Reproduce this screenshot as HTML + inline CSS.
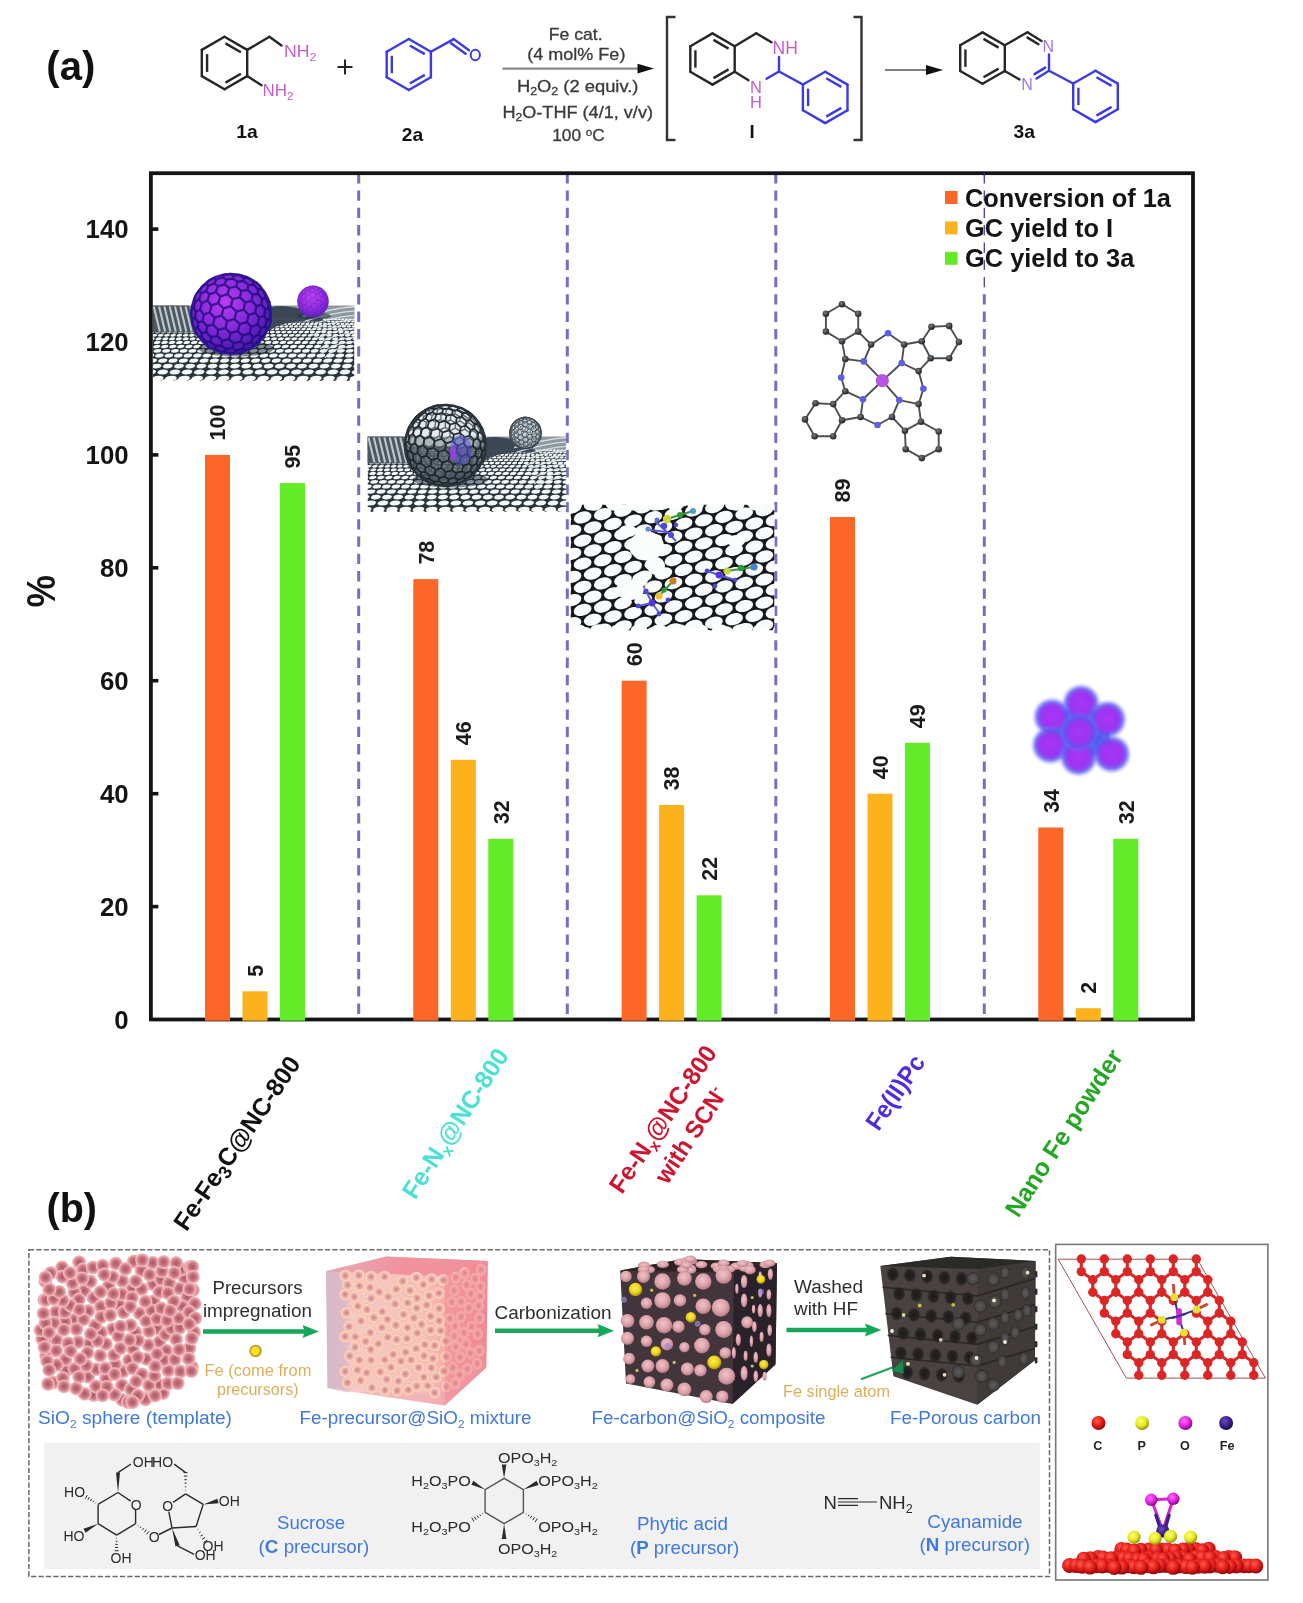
<!DOCTYPE html>
<html><head><meta charset="utf-8"><title>Figure</title>
<style>
html,body{margin:0;padding:0;background:#fff;}
body{width:1303px;height:1603px;overflow:hidden;font-family:"Liberation Sans",sans-serif;}
svg{display:block;font-family:"Liberation Sans",sans-serif;filter:blur(0.45px);}
</style></head><body>
<svg width="1303" height="1603" viewBox="0 0 1303 1603">
<defs>
<radialGradient id="gPur" cx="0.42" cy="0.35" r="0.7">
 <stop offset="0" stop-color="#bc3cf0"/><stop offset="0.5" stop-color="#8428d8"/><stop offset="1" stop-color="#38169e"/>
</radialGradient>
<radialGradient id="gPurS" cx="0.45" cy="0.35" r="0.7">
 <stop offset="0" stop-color="#c040f4"/><stop offset="0.7" stop-color="#8428dc"/><stop offset="1" stop-color="#5a22b8"/>
</radialGradient>
<radialGradient id="gNano" cx="0.5" cy="0.5" r="0.5">
 <stop offset="0" stop-color="#aa35f5"/><stop offset="0.57" stop-color="#9a36f2"/><stop offset="0.76" stop-color="#5a55f0" stop-opacity="0.85"/><stop offset="1" stop-color="#7f8cf6" stop-opacity="0"/>
</radialGradient>
<radialGradient id="gAtomC" cx="0.4" cy="0.35" r="0.7">
 <stop offset="0" stop-color="#7a7d80"/><stop offset="0.6" stop-color="#3a3d40"/><stop offset="1" stop-color="#1d1f21"/>
</radialGradient>
<linearGradient id="gSheetBack" x1="0" y1="0" x2="0" y2="1">
 <stop offset="0" stop-color="#6b7a80"/><stop offset="1" stop-color="#3d484d"/>
</linearGradient>
<filter id="blur1" x="-10%" y="-10%" width="120%" height="120%"><feGaussianBlur stdDeviation="0.75"/></filter>
<filter id="blur2" x="-10%" y="-10%" width="120%" height="120%"><feGaussianBlur stdDeviation="0.9"/></filter>

<radialGradient id="gPink" cx="0.5" cy="0.5" r="0.5">
 <stop offset="0" stop-color="#a85a64"/><stop offset="0.5" stop-color="#c8747e"/><stop offset="0.8" stop-color="#e8a2a8"/><stop offset="1" stop-color="#f6c8cb"/>
</radialGradient>
<radialGradient id="gPink2" cx="0.5" cy="0.5" r="0.5">
 <stop offset="0" stop-color="#c47c7c"/><stop offset="0.5" stop-color="#eeb0aa"/><stop offset="0.8" stop-color="#fad8cc"/><stop offset="1" stop-color="#f6b58c"/>
</radialGradient>
<radialGradient id="gPink3" cx="0.45" cy="0.4" r="0.6">
 <stop offset="0" stop-color="#f0c4c6"/><stop offset="0.6" stop-color="#dca2aa"/><stop offset="1" stop-color="#b47c88"/>
</radialGradient>
<radialGradient id="gYel" cx="0.45" cy="0.4" r="0.6">
 <stop offset="0" stop-color="#fff04a"/><stop offset="0.6" stop-color="#ecd21c"/><stop offset="1" stop-color="#a88a18"/>
</radialGradient>
<radialGradient id="gHole" cx="0.5" cy="0.5" r="0.5">
 <stop offset="0" stop-color="#5d5b5a"/><stop offset="0.7" stop-color="#4a4847"/><stop offset="1" stop-color="#2c2a2a"/>
</radialGradient>
<radialGradient id="gHoleD" cx="0.5" cy="0.5" r="0.5">
 <stop offset="0" stop-color="#1d1b1b"/><stop offset="0.7" stop-color="#262424"/><stop offset="1" stop-color="#3a3836"/>
</radialGradient>
<linearGradient id="gCube2" x1="0" y1="0" x2="1" y2="0">
 <stop offset="0" stop-color="#d8b9c8"/><stop offset="0.12" stop-color="#dcbac8"/><stop offset="0.16" stop-color="#f4cbc8"/><stop offset="0.6" stop-color="#f6c0bc"/><stop offset="0.78" stop-color="#f4a2a8"/><stop offset="1" stop-color="#f28c98"/>
</linearGradient>
<linearGradient id="gCube2t" x1="0" y1="0" x2="1" y2="0">
 <stop offset="0" stop-color="#e4a6b2"/><stop offset="0.5" stop-color="#f08c98"/><stop offset="1" stop-color="#f0909c"/>
</linearGradient>
<radialGradient id="aC" cx="0.4" cy="0.35" r="0.65"><stop offset="0" stop-color="#ff5a4a"/><stop offset="0.6" stop-color="#e01818"/><stop offset="1" stop-color="#8a0a0a"/></radialGradient>
<radialGradient id="aP" cx="0.4" cy="0.35" r="0.65"><stop offset="0" stop-color="#ffff70"/><stop offset="0.6" stop-color="#e6e620"/><stop offset="1" stop-color="#8f8f10"/></radialGradient>
<radialGradient id="aO" cx="0.4" cy="0.35" r="0.65"><stop offset="0" stop-color="#ff70ff"/><stop offset="0.6" stop-color="#e020e0"/><stop offset="1" stop-color="#800a80"/></radialGradient>
<radialGradient id="aFe" cx="0.4" cy="0.35" r="0.65"><stop offset="0" stop-color="#6a48c0"/><stop offset="0.6" stop-color="#3a2088"/><stop offset="1" stop-color="#1a0c48"/></radialGradient>
<filter id="blurB" x="-5%" y="-5%" width="110%" height="110%"><feGaussianBlur stdDeviation="0.7"/></filter>
</defs>
<rect width="1303" height="1603" fill="#ffffff"/>
<line x1="358.7" y1="173.2" x2="358.7" y2="1019.5" stroke="#7a6cc4" stroke-width="3" stroke-dasharray="10.3 7"/>
<line x1="567.3" y1="173.2" x2="567.3" y2="1019.5" stroke="#7a6cc4" stroke-width="3" stroke-dasharray="10.3 7"/>
<line x1="775.8" y1="173.2" x2="775.8" y2="1019.5" stroke="#7a6cc4" stroke-width="3" stroke-dasharray="10.3 7"/>
<line x1="984.3" y1="173.2" x2="984.3" y2="1019.5" stroke="#7a6cc4" stroke-width="3" stroke-dasharray="10.3 7"/>
<clipPath id="cs1"><path d="M152.8 305.5L354.5 305.5L354.5 378.5L347.8 381L341.1 378L334.4 381L327.7 378L321 381L314.3 378L307.6 381L300.9 378L294.2 381L287.5 378L280.8 381L274.1 378L267.4 381L260.7 378L254 381L247.3 378L240.6 381L233.9 378L227.2 381L220.5 378L213.8 381L207.1 378L200.4 381L193.7 378L187 381L180.3 378L173.6 381L166.9 378L160.2 381L153.5 378L152.8 379Z"/></clipPath>
<g clip-path="url(#cs1)" filter="url(#blur1)">
<rect x="152.8" y="305.5" width="201.7" height="75.5" fill="#2b343a"/>
<rect x="152.8" y="305.5" width="201.7" height="14.3" fill="#8d999f"/>
<g fill="#f6fafb" transform="translate(262,381) skewX(-24) translate(-262,-381)"><ellipse cx="117" cy="378.4" rx="5.7" ry="2.7"/><ellipse cx="130.2" cy="378.4" rx="5.7" ry="2.7"/><ellipse cx="143.4" cy="378.4" rx="5.7" ry="2.7"/><ellipse cx="156.5" cy="378.4" rx="5.7" ry="2.7"/><ellipse cx="169.7" cy="378.4" rx="5.7" ry="2.7"/><ellipse cx="182.9" cy="378.4" rx="5.7" ry="2.7"/><ellipse cx="196.1" cy="378.4" rx="5.7" ry="2.7"/><ellipse cx="209.3" cy="378.4" rx="5.7" ry="2.7"/><ellipse cx="222.5" cy="378.4" rx="5.7" ry="2.7"/><ellipse cx="235.6" cy="378.4" rx="5.7" ry="2.7"/><ellipse cx="248.8" cy="378.4" rx="5.7" ry="2.7"/><ellipse cx="262" cy="378.4" rx="5.7" ry="2.7"/><ellipse cx="275.2" cy="378.4" rx="5.7" ry="2.7"/><ellipse cx="288.4" cy="378.4" rx="5.7" ry="2.7"/><ellipse cx="301.5" cy="378.4" rx="5.7" ry="2.7"/><ellipse cx="314.7" cy="378.4" rx="5.7" ry="2.7"/><ellipse cx="327.9" cy="378.4" rx="5.7" ry="2.7"/><ellipse cx="341.1" cy="378.4" rx="5.7" ry="2.7"/><ellipse cx="354.3" cy="378.4" rx="5.7" ry="2.7"/><ellipse cx="367.5" cy="378.4" rx="5.7" ry="2.7"/><ellipse cx="380.6" cy="378.4" rx="5.7" ry="2.7"/><ellipse cx="393.8" cy="378.4" rx="5.7" ry="2.7"/><ellipse cx="110.1" cy="372" rx="5.2" ry="2.5"/><ellipse cx="122.3" cy="372" rx="5.2" ry="2.5"/><ellipse cx="134.4" cy="372" rx="5.2" ry="2.5"/><ellipse cx="146.6" cy="372" rx="5.2" ry="2.5"/><ellipse cx="158.7" cy="372" rx="5.2" ry="2.5"/><ellipse cx="170.9" cy="372" rx="5.2" ry="2.5"/><ellipse cx="183" cy="372" rx="5.2" ry="2.5"/><ellipse cx="195.2" cy="372" rx="5.2" ry="2.5"/><ellipse cx="207.3" cy="372" rx="5.2" ry="2.5"/><ellipse cx="219.5" cy="372" rx="5.2" ry="2.5"/><ellipse cx="231.6" cy="372" rx="5.2" ry="2.5"/><ellipse cx="243.8" cy="372" rx="5.2" ry="2.5"/><ellipse cx="255.9" cy="372" rx="5.2" ry="2.5"/><ellipse cx="268.1" cy="372" rx="5.2" ry="2.5"/><ellipse cx="280.2" cy="372" rx="5.2" ry="2.5"/><ellipse cx="292.4" cy="372" rx="5.2" ry="2.5"/><ellipse cx="304.5" cy="372" rx="5.2" ry="2.5"/><ellipse cx="316.7" cy="372" rx="5.2" ry="2.5"/><ellipse cx="328.8" cy="372" rx="5.2" ry="2.5"/><ellipse cx="341" cy="372" rx="5.2" ry="2.5"/><ellipse cx="353.1" cy="372" rx="5.2" ry="2.5"/><ellipse cx="365.3" cy="372" rx="5.2" ry="2.5"/><ellipse cx="377.4" cy="372" rx="5.2" ry="2.5"/><ellipse cx="389.6" cy="372" rx="5.2" ry="2.5"/><ellipse cx="116.4" cy="366.1" rx="4.8" ry="2.3"/><ellipse cx="127.6" cy="366.1" rx="4.8" ry="2.3"/><ellipse cx="138.8" cy="366.1" rx="4.8" ry="2.3"/><ellipse cx="150" cy="366.1" rx="4.8" ry="2.3"/><ellipse cx="161.2" cy="366.1" rx="4.8" ry="2.3"/><ellipse cx="172.4" cy="366.1" rx="4.8" ry="2.3"/><ellipse cx="183.6" cy="366.1" rx="4.8" ry="2.3"/><ellipse cx="194.8" cy="366.1" rx="4.8" ry="2.3"/><ellipse cx="206" cy="366.1" rx="4.8" ry="2.3"/><ellipse cx="217.2" cy="366.1" rx="4.8" ry="2.3"/><ellipse cx="228.4" cy="366.1" rx="4.8" ry="2.3"/><ellipse cx="239.6" cy="366.1" rx="4.8" ry="2.3"/><ellipse cx="250.8" cy="366.1" rx="4.8" ry="2.3"/><ellipse cx="262" cy="366.1" rx="4.8" ry="2.3"/><ellipse cx="273.2" cy="366.1" rx="4.8" ry="2.3"/><ellipse cx="284.4" cy="366.1" rx="4.8" ry="2.3"/><ellipse cx="295.6" cy="366.1" rx="4.8" ry="2.3"/><ellipse cx="306.8" cy="366.1" rx="4.8" ry="2.3"/><ellipse cx="318" cy="366.1" rx="4.8" ry="2.3"/><ellipse cx="329.2" cy="366.1" rx="4.8" ry="2.3"/><ellipse cx="340.4" cy="366.1" rx="4.8" ry="2.3"/><ellipse cx="351.6" cy="366.1" rx="4.8" ry="2.3"/><ellipse cx="362.8" cy="366.1" rx="4.8" ry="2.3"/><ellipse cx="374" cy="366.1" rx="4.8" ry="2.3"/><ellipse cx="385.2" cy="366.1" rx="4.8" ry="2.3"/><ellipse cx="396.4" cy="366.1" rx="4.8" ry="2.3"/><ellipse cx="112.5" cy="360.6" rx="4.4" ry="2.2"/><ellipse cx="122.8" cy="360.6" rx="4.4" ry="2.2"/><ellipse cx="133.1" cy="360.6" rx="4.4" ry="2.2"/><ellipse cx="143.4" cy="360.6" rx="4.4" ry="2.2"/><ellipse cx="153.7" cy="360.6" rx="4.4" ry="2.2"/><ellipse cx="164" cy="360.6" rx="4.4" ry="2.2"/><ellipse cx="174.3" cy="360.6" rx="4.4" ry="2.2"/><ellipse cx="184.7" cy="360.6" rx="4.4" ry="2.2"/><ellipse cx="195" cy="360.6" rx="4.4" ry="2.2"/><ellipse cx="205.3" cy="360.6" rx="4.4" ry="2.2"/><ellipse cx="215.6" cy="360.6" rx="4.4" ry="2.2"/><ellipse cx="225.9" cy="360.6" rx="4.4" ry="2.2"/><ellipse cx="236.2" cy="360.6" rx="4.4" ry="2.2"/><ellipse cx="246.5" cy="360.6" rx="4.4" ry="2.2"/><ellipse cx="256.8" cy="360.6" rx="4.4" ry="2.2"/><ellipse cx="267.2" cy="360.6" rx="4.4" ry="2.2"/><ellipse cx="277.5" cy="360.6" rx="4.4" ry="2.2"/><ellipse cx="287.8" cy="360.6" rx="4.4" ry="2.2"/><ellipse cx="298.1" cy="360.6" rx="4.4" ry="2.2"/><ellipse cx="308.4" cy="360.6" rx="4.4" ry="2.2"/><ellipse cx="318.7" cy="360.6" rx="4.4" ry="2.2"/><ellipse cx="329" cy="360.6" rx="4.4" ry="2.2"/><ellipse cx="339.3" cy="360.6" rx="4.4" ry="2.2"/><ellipse cx="349.7" cy="360.6" rx="4.4" ry="2.2"/><ellipse cx="360" cy="360.6" rx="4.4" ry="2.2"/><ellipse cx="370.3" cy="360.6" rx="4.4" ry="2.2"/><ellipse cx="380.6" cy="360.6" rx="4.4" ry="2.2"/><ellipse cx="390.9" cy="360.6" rx="4.4" ry="2.2"/><ellipse cx="110.1" cy="355.5" rx="4.1" ry="2"/><ellipse cx="119.6" cy="355.5" rx="4.1" ry="2"/><ellipse cx="129.1" cy="355.5" rx="4.1" ry="2"/><ellipse cx="138.6" cy="355.5" rx="4.1" ry="2"/><ellipse cx="148" cy="355.5" rx="4.1" ry="2"/><ellipse cx="157.5" cy="355.5" rx="4.1" ry="2"/><ellipse cx="167" cy="355.5" rx="4.1" ry="2"/><ellipse cx="176.5" cy="355.5" rx="4.1" ry="2"/><ellipse cx="186" cy="355.5" rx="4.1" ry="2"/><ellipse cx="195.5" cy="355.5" rx="4.1" ry="2"/><ellipse cx="205" cy="355.5" rx="4.1" ry="2"/><ellipse cx="214.5" cy="355.5" rx="4.1" ry="2"/><ellipse cx="224" cy="355.5" rx="4.1" ry="2"/><ellipse cx="233.5" cy="355.5" rx="4.1" ry="2"/><ellipse cx="243" cy="355.5" rx="4.1" ry="2"/><ellipse cx="252.5" cy="355.5" rx="4.1" ry="2"/><ellipse cx="262" cy="355.5" rx="4.1" ry="2"/><ellipse cx="271.5" cy="355.5" rx="4.1" ry="2"/><ellipse cx="281" cy="355.5" rx="4.1" ry="2"/><ellipse cx="290.5" cy="355.5" rx="4.1" ry="2"/><ellipse cx="300" cy="355.5" rx="4.1" ry="2"/><ellipse cx="309.5" cy="355.5" rx="4.1" ry="2"/><ellipse cx="319" cy="355.5" rx="4.1" ry="2"/><ellipse cx="328.5" cy="355.5" rx="4.1" ry="2"/><ellipse cx="338" cy="355.5" rx="4.1" ry="2"/><ellipse cx="347.5" cy="355.5" rx="4.1" ry="2"/><ellipse cx="357" cy="355.5" rx="4.1" ry="2"/><ellipse cx="366.5" cy="355.5" rx="4.1" ry="2"/><ellipse cx="376" cy="355.5" rx="4.1" ry="2"/><ellipse cx="385.4" cy="355.5" rx="4.1" ry="2"/><ellipse cx="394.9" cy="355.5" rx="4.1" ry="2"/><ellipse cx="109.1" cy="350.8" rx="3.8" ry="1.9"/><ellipse cx="117.8" cy="350.8" rx="3.8" ry="1.9"/><ellipse cx="126.5" cy="350.8" rx="3.8" ry="1.9"/><ellipse cx="135.3" cy="350.8" rx="3.8" ry="1.9"/><ellipse cx="144" cy="350.8" rx="3.8" ry="1.9"/><ellipse cx="152.8" cy="350.8" rx="3.8" ry="1.9"/><ellipse cx="161.5" cy="350.8" rx="3.8" ry="1.9"/><ellipse cx="170.2" cy="350.8" rx="3.8" ry="1.9"/><ellipse cx="179" cy="350.8" rx="3.8" ry="1.9"/><ellipse cx="187.7" cy="350.8" rx="3.8" ry="1.9"/><ellipse cx="196.5" cy="350.8" rx="3.8" ry="1.9"/><ellipse cx="205.2" cy="350.8" rx="3.8" ry="1.9"/><ellipse cx="213.9" cy="350.8" rx="3.8" ry="1.9"/><ellipse cx="222.7" cy="350.8" rx="3.8" ry="1.9"/><ellipse cx="231.4" cy="350.8" rx="3.8" ry="1.9"/><ellipse cx="240.2" cy="350.8" rx="3.8" ry="1.9"/><ellipse cx="248.9" cy="350.8" rx="3.8" ry="1.9"/><ellipse cx="257.6" cy="350.8" rx="3.8" ry="1.9"/><ellipse cx="266.4" cy="350.8" rx="3.8" ry="1.9"/><ellipse cx="275.1" cy="350.8" rx="3.8" ry="1.9"/><ellipse cx="283.8" cy="350.8" rx="3.8" ry="1.9"/><ellipse cx="292.6" cy="350.8" rx="3.8" ry="1.9"/><ellipse cx="301.3" cy="350.8" rx="3.8" ry="1.9"/><ellipse cx="310.1" cy="350.8" rx="3.8" ry="1.9"/><ellipse cx="318.8" cy="350.8" rx="3.8" ry="1.9"/><ellipse cx="327.5" cy="350.8" rx="3.8" ry="1.9"/><ellipse cx="336.3" cy="350.8" rx="3.8" ry="1.9"/><ellipse cx="345" cy="350.8" rx="3.8" ry="1.9"/><ellipse cx="353.8" cy="350.8" rx="3.8" ry="1.9"/><ellipse cx="362.5" cy="350.8" rx="3.8" ry="1.9"/><ellipse cx="371.2" cy="350.8" rx="3.8" ry="1.9"/><ellipse cx="380" cy="350.8" rx="3.8" ry="1.9"/><ellipse cx="388.7" cy="350.8" rx="3.8" ry="1.9"/><ellipse cx="397.5" cy="350.8" rx="3.8" ry="1.9"/><ellipse cx="117.3" cy="346.5" rx="3.5" ry="1.8"/><ellipse cx="125.3" cy="346.5" rx="3.5" ry="1.8"/><ellipse cx="133.4" cy="346.5" rx="3.5" ry="1.8"/><ellipse cx="141.4" cy="346.5" rx="3.5" ry="1.8"/><ellipse cx="149.4" cy="346.5" rx="3.5" ry="1.8"/><ellipse cx="157.5" cy="346.5" rx="3.5" ry="1.8"/><ellipse cx="165.5" cy="346.5" rx="3.5" ry="1.8"/><ellipse cx="173.6" cy="346.5" rx="3.5" ry="1.8"/><ellipse cx="181.6" cy="346.5" rx="3.5" ry="1.8"/><ellipse cx="189.6" cy="346.5" rx="3.5" ry="1.8"/><ellipse cx="197.7" cy="346.5" rx="3.5" ry="1.8"/><ellipse cx="205.7" cy="346.5" rx="3.5" ry="1.8"/><ellipse cx="213.8" cy="346.5" rx="3.5" ry="1.8"/><ellipse cx="221.8" cy="346.5" rx="3.5" ry="1.8"/><ellipse cx="229.8" cy="346.5" rx="3.5" ry="1.8"/><ellipse cx="237.9" cy="346.5" rx="3.5" ry="1.8"/><ellipse cx="245.9" cy="346.5" rx="3.5" ry="1.8"/><ellipse cx="254" cy="346.5" rx="3.5" ry="1.8"/><ellipse cx="262" cy="346.5" rx="3.5" ry="1.8"/><ellipse cx="270" cy="346.5" rx="3.5" ry="1.8"/><ellipse cx="278.1" cy="346.5" rx="3.5" ry="1.8"/><ellipse cx="286.1" cy="346.5" rx="3.5" ry="1.8"/><ellipse cx="294.2" cy="346.5" rx="3.5" ry="1.8"/><ellipse cx="302.2" cy="346.5" rx="3.5" ry="1.8"/><ellipse cx="310.2" cy="346.5" rx="3.5" ry="1.8"/><ellipse cx="318.3" cy="346.5" rx="3.5" ry="1.8"/><ellipse cx="326.3" cy="346.5" rx="3.5" ry="1.8"/><ellipse cx="334.4" cy="346.5" rx="3.5" ry="1.8"/><ellipse cx="342.4" cy="346.5" rx="3.5" ry="1.8"/><ellipse cx="350.4" cy="346.5" rx="3.5" ry="1.8"/><ellipse cx="358.5" cy="346.5" rx="3.5" ry="1.8"/><ellipse cx="366.5" cy="346.5" rx="3.5" ry="1.8"/><ellipse cx="374.6" cy="346.5" rx="3.5" ry="1.8"/><ellipse cx="382.6" cy="346.5" rx="3.5" ry="1.8"/><ellipse cx="390.6" cy="346.5" rx="3.5" ry="1.8"/><ellipse cx="110.5" cy="342.4" rx="3.2" ry="1.6"/><ellipse cx="117.9" cy="342.4" rx="3.2" ry="1.6"/><ellipse cx="125.2" cy="342.4" rx="3.2" ry="1.6"/><ellipse cx="132.6" cy="342.4" rx="3.2" ry="1.6"/><ellipse cx="140" cy="342.4" rx="3.2" ry="1.6"/><ellipse cx="147.4" cy="342.4" rx="3.2" ry="1.6"/><ellipse cx="154.8" cy="342.4" rx="3.2" ry="1.6"/><ellipse cx="162.2" cy="342.4" rx="3.2" ry="1.6"/><ellipse cx="169.6" cy="342.4" rx="3.2" ry="1.6"/><ellipse cx="177" cy="342.4" rx="3.2" ry="1.6"/><ellipse cx="184.4" cy="342.4" rx="3.2" ry="1.6"/><ellipse cx="191.8" cy="342.4" rx="3.2" ry="1.6"/><ellipse cx="199.2" cy="342.4" rx="3.2" ry="1.6"/><ellipse cx="206.6" cy="342.4" rx="3.2" ry="1.6"/><ellipse cx="214" cy="342.4" rx="3.2" ry="1.6"/><ellipse cx="221.3" cy="342.4" rx="3.2" ry="1.6"/><ellipse cx="228.7" cy="342.4" rx="3.2" ry="1.6"/><ellipse cx="236.1" cy="342.4" rx="3.2" ry="1.6"/><ellipse cx="243.5" cy="342.4" rx="3.2" ry="1.6"/><ellipse cx="250.9" cy="342.4" rx="3.2" ry="1.6"/><ellipse cx="258.3" cy="342.4" rx="3.2" ry="1.6"/><ellipse cx="265.7" cy="342.4" rx="3.2" ry="1.6"/><ellipse cx="273.1" cy="342.4" rx="3.2" ry="1.6"/><ellipse cx="280.5" cy="342.4" rx="3.2" ry="1.6"/><ellipse cx="287.9" cy="342.4" rx="3.2" ry="1.6"/><ellipse cx="295.3" cy="342.4" rx="3.2" ry="1.6"/><ellipse cx="302.7" cy="342.4" rx="3.2" ry="1.6"/><ellipse cx="310" cy="342.4" rx="3.2" ry="1.6"/><ellipse cx="317.4" cy="342.4" rx="3.2" ry="1.6"/><ellipse cx="324.8" cy="342.4" rx="3.2" ry="1.6"/><ellipse cx="332.2" cy="342.4" rx="3.2" ry="1.6"/><ellipse cx="339.6" cy="342.4" rx="3.2" ry="1.6"/><ellipse cx="347" cy="342.4" rx="3.2" ry="1.6"/><ellipse cx="354.4" cy="342.4" rx="3.2" ry="1.6"/><ellipse cx="361.8" cy="342.4" rx="3.2" ry="1.6"/><ellipse cx="369.2" cy="342.4" rx="3.2" ry="1.6"/><ellipse cx="376.6" cy="342.4" rx="3.2" ry="1.6"/><ellipse cx="384" cy="342.4" rx="3.2" ry="1.6"/><ellipse cx="391.4" cy="342.4" rx="3.2" ry="1.6"/><ellipse cx="112.6" cy="338.7" rx="2.9" ry="1.5"/><ellipse cx="119.4" cy="338.7" rx="2.9" ry="1.5"/><ellipse cx="126.1" cy="338.7" rx="2.9" ry="1.5"/><ellipse cx="132.9" cy="338.7" rx="2.9" ry="1.5"/><ellipse cx="139.7" cy="338.7" rx="2.9" ry="1.5"/><ellipse cx="146.5" cy="338.7" rx="2.9" ry="1.5"/><ellipse cx="153.3" cy="338.7" rx="2.9" ry="1.5"/><ellipse cx="160.1" cy="338.7" rx="2.9" ry="1.5"/><ellipse cx="166.9" cy="338.7" rx="2.9" ry="1.5"/><ellipse cx="173.7" cy="338.7" rx="2.9" ry="1.5"/><ellipse cx="180.5" cy="338.7" rx="2.9" ry="1.5"/><ellipse cx="187.3" cy="338.7" rx="2.9" ry="1.5"/><ellipse cx="194.1" cy="338.7" rx="2.9" ry="1.5"/><ellipse cx="200.9" cy="338.7" rx="2.9" ry="1.5"/><ellipse cx="207.7" cy="338.7" rx="2.9" ry="1.5"/><ellipse cx="214.5" cy="338.7" rx="2.9" ry="1.5"/><ellipse cx="221.2" cy="338.7" rx="2.9" ry="1.5"/><ellipse cx="228" cy="338.7" rx="2.9" ry="1.5"/><ellipse cx="234.8" cy="338.7" rx="2.9" ry="1.5"/><ellipse cx="241.6" cy="338.7" rx="2.9" ry="1.5"/><ellipse cx="248.4" cy="338.7" rx="2.9" ry="1.5"/><ellipse cx="255.2" cy="338.7" rx="2.9" ry="1.5"/><ellipse cx="262" cy="338.7" rx="2.9" ry="1.5"/><ellipse cx="268.8" cy="338.7" rx="2.9" ry="1.5"/><ellipse cx="275.6" cy="338.7" rx="2.9" ry="1.5"/><ellipse cx="282.4" cy="338.7" rx="2.9" ry="1.5"/><ellipse cx="289.2" cy="338.7" rx="2.9" ry="1.5"/><ellipse cx="296" cy="338.7" rx="2.9" ry="1.5"/><ellipse cx="302.8" cy="338.7" rx="2.9" ry="1.5"/><ellipse cx="309.5" cy="338.7" rx="2.9" ry="1.5"/><ellipse cx="316.3" cy="338.7" rx="2.9" ry="1.5"/><ellipse cx="323.1" cy="338.7" rx="2.9" ry="1.5"/><ellipse cx="329.9" cy="338.7" rx="2.9" ry="1.5"/><ellipse cx="336.7" cy="338.7" rx="2.9" ry="1.5"/><ellipse cx="343.5" cy="338.7" rx="2.9" ry="1.5"/><ellipse cx="350.3" cy="338.7" rx="2.9" ry="1.5"/><ellipse cx="357.1" cy="338.7" rx="2.9" ry="1.5"/><ellipse cx="363.9" cy="338.7" rx="2.9" ry="1.5"/><ellipse cx="370.7" cy="338.7" rx="2.9" ry="1.5"/><ellipse cx="377.5" cy="338.7" rx="2.9" ry="1.5"/><ellipse cx="384.3" cy="338.7" rx="2.9" ry="1.5"/><ellipse cx="391.1" cy="338.7" rx="2.9" ry="1.5"/><ellipse cx="115.4" cy="335.3" rx="2.7" ry="1.4"/><ellipse cx="121.6" cy="335.3" rx="2.7" ry="1.4"/><ellipse cx="127.9" cy="335.3" rx="2.7" ry="1.4"/><ellipse cx="134.1" cy="335.3" rx="2.7" ry="1.4"/><ellipse cx="140.4" cy="335.3" rx="2.7" ry="1.4"/><ellipse cx="146.6" cy="335.3" rx="2.7" ry="1.4"/><ellipse cx="152.8" cy="335.3" rx="2.7" ry="1.4"/><ellipse cx="159.1" cy="335.3" rx="2.7" ry="1.4"/><ellipse cx="165.3" cy="335.3" rx="2.7" ry="1.4"/><ellipse cx="171.5" cy="335.3" rx="2.7" ry="1.4"/><ellipse cx="177.8" cy="335.3" rx="2.7" ry="1.4"/><ellipse cx="184" cy="335.3" rx="2.7" ry="1.4"/><ellipse cx="190.3" cy="335.3" rx="2.7" ry="1.4"/><ellipse cx="196.5" cy="335.3" rx="2.7" ry="1.4"/><ellipse cx="202.7" cy="335.3" rx="2.7" ry="1.4"/><ellipse cx="209" cy="335.3" rx="2.7" ry="1.4"/><ellipse cx="215.2" cy="335.3" rx="2.7" ry="1.4"/><ellipse cx="221.5" cy="335.3" rx="2.7" ry="1.4"/><ellipse cx="227.7" cy="335.3" rx="2.7" ry="1.4"/><ellipse cx="233.9" cy="335.3" rx="2.7" ry="1.4"/><ellipse cx="240.2" cy="335.3" rx="2.7" ry="1.4"/><ellipse cx="246.4" cy="335.3" rx="2.7" ry="1.4"/><ellipse cx="252.6" cy="335.3" rx="2.7" ry="1.4"/><ellipse cx="258.9" cy="335.3" rx="2.7" ry="1.4"/><ellipse cx="265.1" cy="335.3" rx="2.7" ry="1.4"/><ellipse cx="271.4" cy="335.3" rx="2.7" ry="1.4"/><ellipse cx="277.6" cy="335.3" rx="2.7" ry="1.4"/><ellipse cx="283.8" cy="335.3" rx="2.7" ry="1.4"/><ellipse cx="290.1" cy="335.3" rx="2.7" ry="1.4"/><ellipse cx="296.3" cy="335.3" rx="2.7" ry="1.4"/><ellipse cx="302.5" cy="335.3" rx="2.7" ry="1.4"/><ellipse cx="308.8" cy="335.3" rx="2.7" ry="1.4"/><ellipse cx="315" cy="335.3" rx="2.7" ry="1.4"/><ellipse cx="321.3" cy="335.3" rx="2.7" ry="1.4"/><ellipse cx="327.5" cy="335.3" rx="2.7" ry="1.4"/><ellipse cx="333.7" cy="335.3" rx="2.7" ry="1.4"/><ellipse cx="340" cy="335.3" rx="2.7" ry="1.4"/><ellipse cx="346.2" cy="335.3" rx="2.7" ry="1.4"/><ellipse cx="352.5" cy="335.3" rx="2.7" ry="1.4"/><ellipse cx="358.7" cy="335.3" rx="2.7" ry="1.4"/><ellipse cx="364.9" cy="335.3" rx="2.7" ry="1.4"/><ellipse cx="371.2" cy="335.3" rx="2.7" ry="1.4"/><ellipse cx="377.4" cy="335.3" rx="2.7" ry="1.4"/><ellipse cx="383.6" cy="335.3" rx="2.7" ry="1.4"/><ellipse cx="389.9" cy="335.3" rx="2.7" ry="1.4"/><ellipse cx="396.1" cy="335.3" rx="2.7" ry="1.4"/><ellipse cx="113.2" cy="332.1" rx="2.5" ry="1.3"/><ellipse cx="118.9" cy="332.1" rx="2.5" ry="1.3"/><ellipse cx="124.6" cy="332.1" rx="2.5" ry="1.3"/><ellipse cx="130.3" cy="332.1" rx="2.5" ry="1.3"/><ellipse cx="136.1" cy="332.1" rx="2.5" ry="1.3"/><ellipse cx="141.8" cy="332.1" rx="2.5" ry="1.3"/><ellipse cx="147.5" cy="332.1" rx="2.5" ry="1.3"/><ellipse cx="153.2" cy="332.1" rx="2.5" ry="1.3"/><ellipse cx="159" cy="332.1" rx="2.5" ry="1.3"/><ellipse cx="164.7" cy="332.1" rx="2.5" ry="1.3"/><ellipse cx="170.4" cy="332.1" rx="2.5" ry="1.3"/><ellipse cx="176.1" cy="332.1" rx="2.5" ry="1.3"/><ellipse cx="181.9" cy="332.1" rx="2.5" ry="1.3"/><ellipse cx="187.6" cy="332.1" rx="2.5" ry="1.3"/><ellipse cx="193.3" cy="332.1" rx="2.5" ry="1.3"/><ellipse cx="199" cy="332.1" rx="2.5" ry="1.3"/><ellipse cx="204.8" cy="332.1" rx="2.5" ry="1.3"/><ellipse cx="210.5" cy="332.1" rx="2.5" ry="1.3"/><ellipse cx="216.2" cy="332.1" rx="2.5" ry="1.3"/><ellipse cx="221.9" cy="332.1" rx="2.5" ry="1.3"/><ellipse cx="227.7" cy="332.1" rx="2.5" ry="1.3"/><ellipse cx="233.4" cy="332.1" rx="2.5" ry="1.3"/><ellipse cx="239.1" cy="332.1" rx="2.5" ry="1.3"/><ellipse cx="244.8" cy="332.1" rx="2.5" ry="1.3"/><ellipse cx="250.6" cy="332.1" rx="2.5" ry="1.3"/><ellipse cx="256.3" cy="332.1" rx="2.5" ry="1.3"/><ellipse cx="262" cy="332.1" rx="2.5" ry="1.3"/><ellipse cx="267.7" cy="332.1" rx="2.5" ry="1.3"/><ellipse cx="273.4" cy="332.1" rx="2.5" ry="1.3"/><ellipse cx="279.2" cy="332.1" rx="2.5" ry="1.3"/><ellipse cx="284.9" cy="332.1" rx="2.5" ry="1.3"/><ellipse cx="290.6" cy="332.1" rx="2.5" ry="1.3"/><ellipse cx="296.3" cy="332.1" rx="2.5" ry="1.3"/><ellipse cx="302.1" cy="332.1" rx="2.5" ry="1.3"/><ellipse cx="307.8" cy="332.1" rx="2.5" ry="1.3"/><ellipse cx="313.5" cy="332.1" rx="2.5" ry="1.3"/><ellipse cx="319.2" cy="332.1" rx="2.5" ry="1.3"/><ellipse cx="325" cy="332.1" rx="2.5" ry="1.3"/><ellipse cx="330.7" cy="332.1" rx="2.5" ry="1.3"/><ellipse cx="336.4" cy="332.1" rx="2.5" ry="1.3"/><ellipse cx="342.1" cy="332.1" rx="2.5" ry="1.3"/><ellipse cx="347.9" cy="332.1" rx="2.5" ry="1.3"/><ellipse cx="353.6" cy="332.1" rx="2.5" ry="1.3"/><ellipse cx="359.3" cy="332.1" rx="2.5" ry="1.3"/><ellipse cx="365" cy="332.1" rx="2.5" ry="1.3"/><ellipse cx="370.8" cy="332.1" rx="2.5" ry="1.3"/><ellipse cx="376.5" cy="332.1" rx="2.5" ry="1.3"/><ellipse cx="382.2" cy="332.1" rx="2.5" ry="1.3"/><ellipse cx="387.9" cy="332.1" rx="2.5" ry="1.3"/><ellipse cx="393.7" cy="332.1" rx="2.5" ry="1.3"/><ellipse cx="112.4" cy="329.1" rx="2.3" ry="1.2"/><ellipse cx="117.6" cy="329.1" rx="2.3" ry="1.2"/><ellipse cx="122.9" cy="329.1" rx="2.3" ry="1.2"/><ellipse cx="128.1" cy="329.1" rx="2.3" ry="1.2"/><ellipse cx="133.4" cy="329.1" rx="2.3" ry="1.2"/><ellipse cx="138.6" cy="329.1" rx="2.3" ry="1.2"/><ellipse cx="143.9" cy="329.1" rx="2.3" ry="1.2"/><ellipse cx="149.1" cy="329.1" rx="2.3" ry="1.2"/><ellipse cx="154.4" cy="329.1" rx="2.3" ry="1.2"/><ellipse cx="159.6" cy="329.1" rx="2.3" ry="1.2"/><ellipse cx="164.9" cy="329.1" rx="2.3" ry="1.2"/><ellipse cx="170.1" cy="329.1" rx="2.3" ry="1.2"/><ellipse cx="175.4" cy="329.1" rx="2.3" ry="1.2"/><ellipse cx="180.6" cy="329.1" rx="2.3" ry="1.2"/><ellipse cx="185.9" cy="329.1" rx="2.3" ry="1.2"/><ellipse cx="191.1" cy="329.1" rx="2.3" ry="1.2"/><ellipse cx="196.4" cy="329.1" rx="2.3" ry="1.2"/><ellipse cx="201.6" cy="329.1" rx="2.3" ry="1.2"/><ellipse cx="206.9" cy="329.1" rx="2.3" ry="1.2"/><ellipse cx="212.1" cy="329.1" rx="2.3" ry="1.2"/><ellipse cx="217.4" cy="329.1" rx="2.3" ry="1.2"/><ellipse cx="222.6" cy="329.1" rx="2.3" ry="1.2"/><ellipse cx="227.9" cy="329.1" rx="2.3" ry="1.2"/><ellipse cx="233.1" cy="329.1" rx="2.3" ry="1.2"/><ellipse cx="238.4" cy="329.1" rx="2.3" ry="1.2"/><ellipse cx="243.6" cy="329.1" rx="2.3" ry="1.2"/><ellipse cx="248.9" cy="329.1" rx="2.3" ry="1.2"/><ellipse cx="254.1" cy="329.1" rx="2.3" ry="1.2"/><ellipse cx="259.4" cy="329.1" rx="2.3" ry="1.2"/><ellipse cx="264.6" cy="329.1" rx="2.3" ry="1.2"/><ellipse cx="269.9" cy="329.1" rx="2.3" ry="1.2"/><ellipse cx="275.1" cy="329.1" rx="2.3" ry="1.2"/><ellipse cx="280.4" cy="329.1" rx="2.3" ry="1.2"/><ellipse cx="285.6" cy="329.1" rx="2.3" ry="1.2"/><ellipse cx="290.9" cy="329.1" rx="2.3" ry="1.2"/><ellipse cx="296.1" cy="329.1" rx="2.3" ry="1.2"/><ellipse cx="301.4" cy="329.1" rx="2.3" ry="1.2"/><ellipse cx="306.6" cy="329.1" rx="2.3" ry="1.2"/><ellipse cx="311.9" cy="329.1" rx="2.3" ry="1.2"/><ellipse cx="317.1" cy="329.1" rx="2.3" ry="1.2"/><ellipse cx="322.4" cy="329.1" rx="2.3" ry="1.2"/><ellipse cx="327.6" cy="329.1" rx="2.3" ry="1.2"/><ellipse cx="332.9" cy="329.1" rx="2.3" ry="1.2"/><ellipse cx="338.1" cy="329.1" rx="2.3" ry="1.2"/><ellipse cx="343.4" cy="329.1" rx="2.3" ry="1.2"/><ellipse cx="348.6" cy="329.1" rx="2.3" ry="1.2"/><ellipse cx="353.9" cy="329.1" rx="2.3" ry="1.2"/><ellipse cx="359.1" cy="329.1" rx="2.3" ry="1.2"/><ellipse cx="364.4" cy="329.1" rx="2.3" ry="1.2"/><ellipse cx="369.6" cy="329.1" rx="2.3" ry="1.2"/><ellipse cx="374.9" cy="329.1" rx="2.3" ry="1.2"/><ellipse cx="380.1" cy="329.1" rx="2.3" ry="1.2"/><ellipse cx="385.4" cy="329.1" rx="2.3" ry="1.2"/><ellipse cx="390.6" cy="329.1" rx="2.3" ry="1.2"/><ellipse cx="395.9" cy="329.1" rx="2.3" ry="1.2"/><ellipse cx="112.9" cy="326.4" rx="2.1" ry="1.2"/><ellipse cx="117.7" cy="326.4" rx="2.1" ry="1.2"/><ellipse cx="122.5" cy="326.4" rx="2.1" ry="1.2"/><ellipse cx="127.3" cy="326.4" rx="2.1" ry="1.2"/><ellipse cx="132.1" cy="326.4" rx="2.1" ry="1.2"/><ellipse cx="136.9" cy="326.4" rx="2.1" ry="1.2"/><ellipse cx="141.8" cy="326.4" rx="2.1" ry="1.2"/><ellipse cx="146.6" cy="326.4" rx="2.1" ry="1.2"/><ellipse cx="151.4" cy="326.4" rx="2.1" ry="1.2"/><ellipse cx="156.2" cy="326.4" rx="2.1" ry="1.2"/><ellipse cx="161" cy="326.4" rx="2.1" ry="1.2"/><ellipse cx="165.8" cy="326.4" rx="2.1" ry="1.2"/><ellipse cx="170.6" cy="326.4" rx="2.1" ry="1.2"/><ellipse cx="175.4" cy="326.4" rx="2.1" ry="1.2"/><ellipse cx="180.2" cy="326.4" rx="2.1" ry="1.2"/><ellipse cx="185" cy="326.4" rx="2.1" ry="1.2"/><ellipse cx="189.9" cy="326.4" rx="2.1" ry="1.2"/><ellipse cx="194.7" cy="326.4" rx="2.1" ry="1.2"/><ellipse cx="199.5" cy="326.4" rx="2.1" ry="1.2"/><ellipse cx="204.3" cy="326.4" rx="2.1" ry="1.2"/><ellipse cx="209.1" cy="326.4" rx="2.1" ry="1.2"/><ellipse cx="213.9" cy="326.4" rx="2.1" ry="1.2"/><ellipse cx="218.7" cy="326.4" rx="2.1" ry="1.2"/><ellipse cx="223.5" cy="326.4" rx="2.1" ry="1.2"/><ellipse cx="228.3" cy="326.4" rx="2.1" ry="1.2"/><ellipse cx="233.1" cy="326.4" rx="2.1" ry="1.2"/><ellipse cx="238" cy="326.4" rx="2.1" ry="1.2"/><ellipse cx="242.8" cy="326.4" rx="2.1" ry="1.2"/><ellipse cx="247.6" cy="326.4" rx="2.1" ry="1.2"/><ellipse cx="252.4" cy="326.4" rx="2.1" ry="1.2"/><ellipse cx="257.2" cy="326.4" rx="2.1" ry="1.2"/><ellipse cx="262" cy="326.4" rx="2.1" ry="1.2"/><ellipse cx="266.8" cy="326.4" rx="2.1" ry="1.2"/><ellipse cx="271.6" cy="326.4" rx="2.1" ry="1.2"/><ellipse cx="276.4" cy="326.4" rx="2.1" ry="1.2"/><ellipse cx="281.2" cy="326.4" rx="2.1" ry="1.2"/><ellipse cx="286" cy="326.4" rx="2.1" ry="1.2"/><ellipse cx="290.9" cy="326.4" rx="2.1" ry="1.2"/><ellipse cx="295.7" cy="326.4" rx="2.1" ry="1.2"/><ellipse cx="300.5" cy="326.4" rx="2.1" ry="1.2"/><ellipse cx="305.3" cy="326.4" rx="2.1" ry="1.2"/><ellipse cx="310.1" cy="326.4" rx="2.1" ry="1.2"/><ellipse cx="314.9" cy="326.4" rx="2.1" ry="1.2"/><ellipse cx="319.7" cy="326.4" rx="2.1" ry="1.2"/><ellipse cx="324.5" cy="326.4" rx="2.1" ry="1.2"/><ellipse cx="329.3" cy="326.4" rx="2.1" ry="1.2"/><ellipse cx="334.1" cy="326.4" rx="2.1" ry="1.2"/><ellipse cx="339" cy="326.4" rx="2.1" ry="1.2"/><ellipse cx="343.8" cy="326.4" rx="2.1" ry="1.2"/><ellipse cx="348.6" cy="326.4" rx="2.1" ry="1.2"/><ellipse cx="353.4" cy="326.4" rx="2.1" ry="1.2"/><ellipse cx="358.2" cy="326.4" rx="2.1" ry="1.2"/><ellipse cx="363" cy="326.4" rx="2.1" ry="1.2"/><ellipse cx="367.8" cy="326.4" rx="2.1" ry="1.2"/><ellipse cx="372.6" cy="326.4" rx="2.1" ry="1.2"/><ellipse cx="377.4" cy="326.4" rx="2.1" ry="1.2"/><ellipse cx="382.2" cy="326.4" rx="2.1" ry="1.2"/><ellipse cx="387.1" cy="326.4" rx="2.1" ry="1.2"/><ellipse cx="391.9" cy="326.4" rx="2.1" ry="1.2"/><ellipse cx="114.5" cy="323.9" rx="1.9" ry="1.1"/><ellipse cx="118.9" cy="323.9" rx="1.9" ry="1.1"/><ellipse cx="123.3" cy="323.9" rx="1.9" ry="1.1"/><ellipse cx="127.7" cy="323.9" rx="1.9" ry="1.1"/><ellipse cx="132.1" cy="323.9" rx="1.9" ry="1.1"/><ellipse cx="136.5" cy="323.9" rx="1.9" ry="1.1"/><ellipse cx="140.9" cy="323.9" rx="1.9" ry="1.1"/><ellipse cx="145.3" cy="323.9" rx="1.9" ry="1.1"/><ellipse cx="149.7" cy="323.9" rx="1.9" ry="1.1"/><ellipse cx="154.1" cy="323.9" rx="1.9" ry="1.1"/><ellipse cx="158.5" cy="323.9" rx="1.9" ry="1.1"/><ellipse cx="162.9" cy="323.9" rx="1.9" ry="1.1"/><ellipse cx="167.3" cy="323.9" rx="1.9" ry="1.1"/><ellipse cx="171.7" cy="323.9" rx="1.9" ry="1.1"/><ellipse cx="176.1" cy="323.9" rx="1.9" ry="1.1"/><ellipse cx="180.5" cy="323.9" rx="1.9" ry="1.1"/><ellipse cx="184.9" cy="323.9" rx="1.9" ry="1.1"/><ellipse cx="189.4" cy="323.9" rx="1.9" ry="1.1"/><ellipse cx="193.8" cy="323.9" rx="1.9" ry="1.1"/><ellipse cx="198.2" cy="323.9" rx="1.9" ry="1.1"/><ellipse cx="202.6" cy="323.9" rx="1.9" ry="1.1"/><ellipse cx="207" cy="323.9" rx="1.9" ry="1.1"/><ellipse cx="211.4" cy="323.9" rx="1.9" ry="1.1"/><ellipse cx="215.8" cy="323.9" rx="1.9" ry="1.1"/><ellipse cx="220.2" cy="323.9" rx="1.9" ry="1.1"/><ellipse cx="224.6" cy="323.9" rx="1.9" ry="1.1"/><ellipse cx="229" cy="323.9" rx="1.9" ry="1.1"/><ellipse cx="233.4" cy="323.9" rx="1.9" ry="1.1"/><ellipse cx="237.8" cy="323.9" rx="1.9" ry="1.1"/><ellipse cx="242.2" cy="323.9" rx="1.9" ry="1.1"/><ellipse cx="246.6" cy="323.9" rx="1.9" ry="1.1"/><ellipse cx="251" cy="323.9" rx="1.9" ry="1.1"/><ellipse cx="255.4" cy="323.9" rx="1.9" ry="1.1"/><ellipse cx="259.8" cy="323.9" rx="1.9" ry="1.1"/><ellipse cx="264.2" cy="323.9" rx="1.9" ry="1.1"/><ellipse cx="268.6" cy="323.9" rx="1.9" ry="1.1"/><ellipse cx="273" cy="323.9" rx="1.9" ry="1.1"/><ellipse cx="277.4" cy="323.9" rx="1.9" ry="1.1"/><ellipse cx="281.8" cy="323.9" rx="1.9" ry="1.1"/><ellipse cx="286.2" cy="323.9" rx="1.9" ry="1.1"/><ellipse cx="290.6" cy="323.9" rx="1.9" ry="1.1"/><ellipse cx="295" cy="323.9" rx="1.9" ry="1.1"/><ellipse cx="299.4" cy="323.9" rx="1.9" ry="1.1"/><ellipse cx="303.8" cy="323.9" rx="1.9" ry="1.1"/><ellipse cx="308.2" cy="323.9" rx="1.9" ry="1.1"/><ellipse cx="312.6" cy="323.9" rx="1.9" ry="1.1"/><ellipse cx="317" cy="323.9" rx="1.9" ry="1.1"/><ellipse cx="321.4" cy="323.9" rx="1.9" ry="1.1"/><ellipse cx="325.8" cy="323.9" rx="1.9" ry="1.1"/><ellipse cx="330.2" cy="323.9" rx="1.9" ry="1.1"/><ellipse cx="334.6" cy="323.9" rx="1.9" ry="1.1"/><ellipse cx="339.1" cy="323.9" rx="1.9" ry="1.1"/><ellipse cx="343.5" cy="323.9" rx="1.9" ry="1.1"/><ellipse cx="347.9" cy="323.9" rx="1.9" ry="1.1"/><ellipse cx="352.3" cy="323.9" rx="1.9" ry="1.1"/><ellipse cx="356.7" cy="323.9" rx="1.9" ry="1.1"/><ellipse cx="361.1" cy="323.9" rx="1.9" ry="1.1"/><ellipse cx="365.5" cy="323.9" rx="1.9" ry="1.1"/><ellipse cx="369.9" cy="323.9" rx="1.9" ry="1.1"/><ellipse cx="374.3" cy="323.9" rx="1.9" ry="1.1"/><ellipse cx="378.7" cy="323.9" rx="1.9" ry="1.1"/><ellipse cx="383.1" cy="323.9" rx="1.9" ry="1.1"/><ellipse cx="387.5" cy="323.9" rx="1.9" ry="1.1"/><ellipse cx="391.9" cy="323.9" rx="1.9" ry="1.1"/><ellipse cx="396.3" cy="323.9" rx="1.9" ry="1.1"/><ellipse cx="113" cy="321.5" rx="1.7" ry="1"/><ellipse cx="117" cy="321.5" rx="1.7" ry="1"/><ellipse cx="121.1" cy="321.5" rx="1.7" ry="1"/><ellipse cx="125.1" cy="321.5" rx="1.7" ry="1"/><ellipse cx="129.1" cy="321.5" rx="1.7" ry="1"/><ellipse cx="133.2" cy="321.5" rx="1.7" ry="1"/><ellipse cx="137.2" cy="321.5" rx="1.7" ry="1"/><ellipse cx="141.2" cy="321.5" rx="1.7" ry="1"/><ellipse cx="145.2" cy="321.5" rx="1.7" ry="1"/><ellipse cx="149.3" cy="321.5" rx="1.7" ry="1"/><ellipse cx="153.3" cy="321.5" rx="1.7" ry="1"/><ellipse cx="157.3" cy="321.5" rx="1.7" ry="1"/><ellipse cx="161.3" cy="321.5" rx="1.7" ry="1"/><ellipse cx="165.4" cy="321.5" rx="1.7" ry="1"/><ellipse cx="169.4" cy="321.5" rx="1.7" ry="1"/><ellipse cx="173.4" cy="321.5" rx="1.7" ry="1"/><ellipse cx="177.4" cy="321.5" rx="1.7" ry="1"/><ellipse cx="181.5" cy="321.5" rx="1.7" ry="1"/><ellipse cx="185.5" cy="321.5" rx="1.7" ry="1"/><ellipse cx="189.5" cy="321.5" rx="1.7" ry="1"/><ellipse cx="193.6" cy="321.5" rx="1.7" ry="1"/><ellipse cx="197.6" cy="321.5" rx="1.7" ry="1"/><ellipse cx="201.6" cy="321.5" rx="1.7" ry="1"/><ellipse cx="205.6" cy="321.5" rx="1.7" ry="1"/><ellipse cx="209.7" cy="321.5" rx="1.7" ry="1"/><ellipse cx="213.7" cy="321.5" rx="1.7" ry="1"/><ellipse cx="217.7" cy="321.5" rx="1.7" ry="1"/><ellipse cx="221.7" cy="321.5" rx="1.7" ry="1"/><ellipse cx="225.8" cy="321.5" rx="1.7" ry="1"/><ellipse cx="229.8" cy="321.5" rx="1.7" ry="1"/><ellipse cx="233.8" cy="321.5" rx="1.7" ry="1"/><ellipse cx="237.8" cy="321.5" rx="1.7" ry="1"/><ellipse cx="241.9" cy="321.5" rx="1.7" ry="1"/><ellipse cx="245.9" cy="321.5" rx="1.7" ry="1"/><ellipse cx="249.9" cy="321.5" rx="1.7" ry="1"/><ellipse cx="253.9" cy="321.5" rx="1.7" ry="1"/><ellipse cx="258" cy="321.5" rx="1.7" ry="1"/><ellipse cx="262" cy="321.5" rx="1.7" ry="1"/><ellipse cx="266" cy="321.5" rx="1.7" ry="1"/><ellipse cx="270.1" cy="321.5" rx="1.7" ry="1"/><ellipse cx="274.1" cy="321.5" rx="1.7" ry="1"/><ellipse cx="278.1" cy="321.5" rx="1.7" ry="1"/><ellipse cx="282.1" cy="321.5" rx="1.7" ry="1"/><ellipse cx="286.2" cy="321.5" rx="1.7" ry="1"/><ellipse cx="290.2" cy="321.5" rx="1.7" ry="1"/><ellipse cx="294.2" cy="321.5" rx="1.7" ry="1"/><ellipse cx="298.2" cy="321.5" rx="1.7" ry="1"/><ellipse cx="302.3" cy="321.5" rx="1.7" ry="1"/><ellipse cx="306.3" cy="321.5" rx="1.7" ry="1"/><ellipse cx="310.3" cy="321.5" rx="1.7" ry="1"/><ellipse cx="314.3" cy="321.5" rx="1.7" ry="1"/><ellipse cx="318.4" cy="321.5" rx="1.7" ry="1"/><ellipse cx="322.4" cy="321.5" rx="1.7" ry="1"/><ellipse cx="326.4" cy="321.5" rx="1.7" ry="1"/><ellipse cx="330.4" cy="321.5" rx="1.7" ry="1"/><ellipse cx="334.5" cy="321.5" rx="1.7" ry="1"/><ellipse cx="338.5" cy="321.5" rx="1.7" ry="1"/><ellipse cx="342.5" cy="321.5" rx="1.7" ry="1"/><ellipse cx="346.6" cy="321.5" rx="1.7" ry="1"/><ellipse cx="350.6" cy="321.5" rx="1.7" ry="1"/><ellipse cx="354.6" cy="321.5" rx="1.7" ry="1"/><ellipse cx="358.6" cy="321.5" rx="1.7" ry="1"/><ellipse cx="362.7" cy="321.5" rx="1.7" ry="1"/><ellipse cx="366.7" cy="321.5" rx="1.7" ry="1"/><ellipse cx="370.7" cy="321.5" rx="1.7" ry="1"/><ellipse cx="374.7" cy="321.5" rx="1.7" ry="1"/><ellipse cx="378.8" cy="321.5" rx="1.7" ry="1"/><ellipse cx="382.8" cy="321.5" rx="1.7" ry="1"/><ellipse cx="386.8" cy="321.5" rx="1.7" ry="1"/><ellipse cx="390.8" cy="321.5" rx="1.7" ry="1"/><ellipse cx="394.9" cy="321.5" rx="1.7" ry="1"/><ellipse cx="113" cy="319.4" rx="1.6" ry="0.9"/><ellipse cx="116.7" cy="319.4" rx="1.6" ry="0.9"/><ellipse cx="120.4" cy="319.4" rx="1.6" ry="0.9"/><ellipse cx="124.1" cy="319.4" rx="1.6" ry="0.9"/><ellipse cx="127.8" cy="319.4" rx="1.6" ry="0.9"/><ellipse cx="131.4" cy="319.4" rx="1.6" ry="0.9"/><ellipse cx="135.1" cy="319.4" rx="1.6" ry="0.9"/><ellipse cx="138.8" cy="319.4" rx="1.6" ry="0.9"/><ellipse cx="142.5" cy="319.4" rx="1.6" ry="0.9"/><ellipse cx="146.1" cy="319.4" rx="1.6" ry="0.9"/><ellipse cx="149.8" cy="319.4" rx="1.6" ry="0.9"/><ellipse cx="153.5" cy="319.4" rx="1.6" ry="0.9"/><ellipse cx="157.2" cy="319.4" rx="1.6" ry="0.9"/><ellipse cx="160.9" cy="319.4" rx="1.6" ry="0.9"/><ellipse cx="164.5" cy="319.4" rx="1.6" ry="0.9"/><ellipse cx="168.2" cy="319.4" rx="1.6" ry="0.9"/><ellipse cx="171.9" cy="319.4" rx="1.6" ry="0.9"/><ellipse cx="175.6" cy="319.4" rx="1.6" ry="0.9"/><ellipse cx="179.2" cy="319.4" rx="1.6" ry="0.9"/><ellipse cx="182.9" cy="319.4" rx="1.6" ry="0.9"/><ellipse cx="186.6" cy="319.4" rx="1.6" ry="0.9"/><ellipse cx="190.3" cy="319.4" rx="1.6" ry="0.9"/><ellipse cx="194" cy="319.4" rx="1.6" ry="0.9"/><ellipse cx="197.6" cy="319.4" rx="1.6" ry="0.9"/><ellipse cx="201.3" cy="319.4" rx="1.6" ry="0.9"/><ellipse cx="205" cy="319.4" rx="1.6" ry="0.9"/><ellipse cx="208.7" cy="319.4" rx="1.6" ry="0.9"/><ellipse cx="212.3" cy="319.4" rx="1.6" ry="0.9"/><ellipse cx="216" cy="319.4" rx="1.6" ry="0.9"/><ellipse cx="219.7" cy="319.4" rx="1.6" ry="0.9"/><ellipse cx="223.4" cy="319.4" rx="1.6" ry="0.9"/><ellipse cx="227.1" cy="319.4" rx="1.6" ry="0.9"/><ellipse cx="230.7" cy="319.4" rx="1.6" ry="0.9"/><ellipse cx="234.4" cy="319.4" rx="1.6" ry="0.9"/><ellipse cx="238.1" cy="319.4" rx="1.6" ry="0.9"/><ellipse cx="241.8" cy="319.4" rx="1.6" ry="0.9"/><ellipse cx="245.4" cy="319.4" rx="1.6" ry="0.9"/><ellipse cx="249.1" cy="319.4" rx="1.6" ry="0.9"/><ellipse cx="252.8" cy="319.4" rx="1.6" ry="0.9"/><ellipse cx="256.5" cy="319.4" rx="1.6" ry="0.9"/><ellipse cx="260.2" cy="319.4" rx="1.6" ry="0.9"/><ellipse cx="263.8" cy="319.4" rx="1.6" ry="0.9"/><ellipse cx="267.5" cy="319.4" rx="1.6" ry="0.9"/><ellipse cx="271.2" cy="319.4" rx="1.6" ry="0.9"/><ellipse cx="274.9" cy="319.4" rx="1.6" ry="0.9"/><ellipse cx="278.6" cy="319.4" rx="1.6" ry="0.9"/><ellipse cx="282.2" cy="319.4" rx="1.6" ry="0.9"/><ellipse cx="285.9" cy="319.4" rx="1.6" ry="0.9"/><ellipse cx="289.6" cy="319.4" rx="1.6" ry="0.9"/><ellipse cx="293.3" cy="319.4" rx="1.6" ry="0.9"/><ellipse cx="296.9" cy="319.4" rx="1.6" ry="0.9"/><ellipse cx="300.6" cy="319.4" rx="1.6" ry="0.9"/><ellipse cx="304.3" cy="319.4" rx="1.6" ry="0.9"/><ellipse cx="308" cy="319.4" rx="1.6" ry="0.9"/><ellipse cx="311.7" cy="319.4" rx="1.6" ry="0.9"/><ellipse cx="315.3" cy="319.4" rx="1.6" ry="0.9"/><ellipse cx="319" cy="319.4" rx="1.6" ry="0.9"/><ellipse cx="322.7" cy="319.4" rx="1.6" ry="0.9"/><ellipse cx="326.4" cy="319.4" rx="1.6" ry="0.9"/><ellipse cx="330" cy="319.4" rx="1.6" ry="0.9"/><ellipse cx="333.7" cy="319.4" rx="1.6" ry="0.9"/><ellipse cx="337.4" cy="319.4" rx="1.6" ry="0.9"/><ellipse cx="341.1" cy="319.4" rx="1.6" ry="0.9"/><ellipse cx="344.8" cy="319.4" rx="1.6" ry="0.9"/><ellipse cx="348.4" cy="319.4" rx="1.6" ry="0.9"/><ellipse cx="352.1" cy="319.4" rx="1.6" ry="0.9"/><ellipse cx="355.8" cy="319.4" rx="1.6" ry="0.9"/><ellipse cx="359.5" cy="319.4" rx="1.6" ry="0.9"/><ellipse cx="363.1" cy="319.4" rx="1.6" ry="0.9"/><ellipse cx="366.8" cy="319.4" rx="1.6" ry="0.9"/><ellipse cx="370.5" cy="319.4" rx="1.6" ry="0.9"/><ellipse cx="374.2" cy="319.4" rx="1.6" ry="0.9"/><ellipse cx="377.9" cy="319.4" rx="1.6" ry="0.9"/><ellipse cx="381.5" cy="319.4" rx="1.6" ry="0.9"/><ellipse cx="385.2" cy="319.4" rx="1.6" ry="0.9"/><ellipse cx="388.9" cy="319.4" rx="1.6" ry="0.9"/><ellipse cx="392.6" cy="319.4" rx="1.6" ry="0.9"/></g>
</g>
<g filter="url(#blur1)"><path d="M152.8 305.5L188.8 305.5L196.8 332.5L152.8 332.5Z" fill="#4b585f"/><path d="M153.8 306.5L159.8 331.5M159.1 306.5L165.1 331.5M164.4 306.5L170.4 331.5M169.7 306.5L175.7 331.5M175 306.5L181 331.5M180.3 306.5L186.3 331.5M185.6 306.5L191.6 331.5" stroke="#e4ecef" stroke-width="2.1" fill="none" opacity="0.75"/><path d="M261.2 311.5Q278.1 299.5 315 313.5L327 322.5Q282.1 318.5 269.2 331.5Z" fill="#33414e" opacity="0.92"/><path d="M302.5 316.5Q332.5 308.5 354.5 306.5M305 321.1Q332.5 312.8 354.5 310.9M307.5 325.7Q332.5 317.1 354.5 315.3M310 330.3Q332.5 321.4 354.5 319.7M312.5 334.9Q332.5 325.7 354.5 324.1M315 339.5Q332.5 330 354.5 328.5M317.5 344.1Q332.5 334.3 354.5 332.9M320 348.7Q332.5 338.6 354.5 337.3M322.5 353.3Q332.5 342.9 354.5 341.7M325 357.9Q332.5 347.2 354.5 346.1" stroke="#dfe7ea" stroke-width="1.3" fill="none" opacity="0.9"/><ellipse cx="236.2" cy="348.5" rx="38" ry="8" fill="#1c2634" opacity="0.5"/></g>
<g filter="url(#blur1)">
<circle cx="231.2" cy="313.8" r="40.6" fill="url(#gPur)"/>
<path d="M229.9 274L224.5 274.8M239.4 275.3L234 275.4M248.6 278.2L243.9 277.7M256.5 282.4L253.1 281.4M213.8 278.1L209 280.5M224.5 274.8L222.4 277.4M222.4 277.4L216.6 279.2M229.9 274L234 275.4M234 275.4L232.7 278.5M232.7 278.5L226.5 279.6M239.4 275.3L243.9 277.7M243.9 277.7L243.4 281M243.4 281L237.5 281.6M248.6 278.2L253.1 281.4M253.1 281.4L253.4 284.7M253.4 284.7L248.4 284.8M256.5 282.4L260.4 286M260.4 286L261.5 289.2M261.5 289.2L257.9 288.9M209 280.5L206.2 283.9M206.2 283.9L202 286.7M213.8 278.1L216.6 279.2M216.6 279.2L214.2 283.3M214.2 283.3L208.5 285.7M222.4 277.4L226.5 279.6M226.5 279.6L224.5 284.3M224.5 284.3L218 286.2M232.7 278.5L237.5 281.6M237.5 281.6L236.1 286.5M236.1 286.5L229.3 288M243.4 281L248.4 284.8M248.4 284.8L247.6 289.8M247.6 289.8L241.3 290.9M253.4 284.7L257.9 288.9M257.9 288.9L257.9 293.8M257.9 293.8L252.7 294.6M261.5 289.2L265 293.6M265 293.6L265.6 298.1M265.6 298.1L262.1 298.7M269.9 302.4L268.5 302.8M202 286.7L199.4 291.2M199.4 291.2L196.2 294.1M206.2 283.9L208.5 285.7M208.5 285.7L206 290.9M206 290.9L201.1 293.6M214.2 283.3L218 286.2M218 286.2L215.7 292M215.7 292L209.4 294.3M224.5 284.3L229.3 288M229.3 288L227.4 294.2M227.4 294.2L220.4 296.3M236.1 286.5L241.3 290.9M241.3 290.9L239.9 297.3M239.9 297.3L232.7 299M247.6 289.8L252.7 294.6M252.7 294.6L251.7 300.8M251.7 300.8L245.2 302.4M257.9 293.8L262.1 298.7M262.1 298.7L261.6 304.6M261.6 304.6L256.4 306M265.6 298.1L268.5 302.8M268.5 302.8L268.5 308.1M268.5 308.1L265.2 309.4M196.2 294.1L194.2 299M199.4 291.2L201.1 293.6M201.1 293.6L198.9 299.3M198.9 299.3L195.2 301.8M206 290.9L209.4 294.3M209.4 294.3L207.3 300.8M207.3 300.8L201.7 303.2M215.7 292L220.4 296.3M220.4 296.3L218.3 303.2M218.3 303.2L211.5 305.4M227.4 294.2L232.7 299M232.7 299L230.9 306.2M230.9 306.2L223.5 308.3M239.9 297.3L245.2 302.4M245.2 302.4L243.6 309.6M243.6 309.6L236.4 311.6M251.7 300.8L256.4 306M256.4 306L255.1 312.8M255.1 312.8L248.7 314.8M261.6 304.6L265.2 309.4M265.2 309.4L264.2 315.8M264.2 315.8L259.3 317.7M268.5 308.1L270.5 312.4M270.5 312.4L269.8 318M269.8 318L266.9 320M194.2 299L195.2 301.8M195.2 301.8L193.7 307.6M193.7 307.6L191.5 309.6M198.9 299.3L201.7 303.2M201.7 303.2L200.1 309.7M200.1 309.7L195.8 311.7M207.3 300.8L211.5 305.4M211.5 305.4L209.7 312.5M209.7 312.5L203.8 314.4M218.3 303.2L223.5 308.3M223.5 308.3L221.6 315.7M221.6 315.7L214.6 317.7M230.9 306.2L236.4 311.6M236.4 311.6L234.5 319M234.5 319L227.1 321.1M243.6 309.6L248.7 314.8M248.7 314.8L246.9 322.1M246.9 322.1L239.8 324.2M255.1 312.8L259.3 317.7M259.3 317.7L257.5 324.5M257.5 324.5L251.5 326.8M264.2 315.8L266.9 320M266.9 320L265.3 326.1M265.3 326.1L260.9 328.5M269.8 318L270.7 321.4M270.7 321.4L269.3 326.6M269.3 326.6L266.9 329.2M191.5 309.6L191 314.9M193.7 307.6L195.8 311.7M195.8 311.7L195 317.7M195 317.7L192.4 319M200.1 309.7L203.8 314.4M203.8 314.4L202.6 321.1M202.6 321.1L198.1 322.4M209.7 312.5L214.6 317.7M214.6 317.7L213.1 324.7M213.1 324.7L207.1 326.2M221.6 315.7L227.1 321.1M227.1 321.1L225.3 328.2M225.3 328.2L218.3 329.9M234.5 319L239.8 324.2M239.8 324.2L237.8 331.2M237.8 331.2L230.7 333.2M246.9 322.1L251.5 326.8M251.5 326.8L249.4 333.4M249.4 333.4L242.7 335.6M257.5 324.5L260.9 328.5M260.9 328.5L258.7 334.5M258.7 334.5L253.2 337.1M265.3 326.1L266.9 329.2M266.9 329.2L264.7 334.4M264.7 334.4L260.9 337.2M191 314.9L192.4 319M192.4 319L192.7 324.1M195 317.7L198.1 322.4M198.1 322.4L197.8 328.1M197.8 328.1L195 328.5M202.6 321.1L207.1 326.2M207.1 326.2L206.3 332.3M206.3 332.3L201.6 332.9M213.1 324.7L218.3 329.9M218.3 329.9L217.1 336.2M217.1 336.2L211.1 337.1M225.3 328.2L230.7 333.2M230.7 333.2L228.9 339.4M228.9 339.4L222.3 340.7M237.8 331.2L242.7 335.6M242.7 335.6L240.6 341.5M240.6 341.5L233.9 343.3M249.4 333.4L253.2 337.1M253.2 337.1L250.8 342.4M250.8 342.4L244.8 344.6M258.7 334.5L260.9 337.2M260.9 337.2L258.3 341.8M258.3 341.8L253.6 344.5M192.7 324.1L195 328.5M195 328.5L195.9 332.8M197.8 328.1L201.6 332.9M201.6 332.9L201.9 337.6M201.9 337.6L199 337.2M206.3 332.3L211.1 337.1M211.1 337.1L210.6 342M210.6 342L206.1 341.9M217.1 336.2L222.3 340.7M222.3 340.7L221.1 345.5M221.1 345.5L215.5 345.9M228.9 339.4L233.9 343.3M233.9 343.3L232.2 347.9M232.2 347.9L226 348.9M240.6 341.5L244.8 344.6M244.8 344.6L242.5 348.8M242.5 348.8L236.5 350.4M250.8 342.4L253.6 344.5M253.6 344.5L250.9 348.1M250.9 348.1L245.7 350.2M258.3 341.8L259.4 342.7M195.9 332.8L199 337.2M201.9 337.6L206.1 341.9M206.1 341.9L206.7 345M210.6 342L215.5 345.9M215.5 345.9L215.3 349.1M215.3 349.1L211 348.3M221.1 345.5L226 348.9M226 348.9L225 351.8M225 351.8L219.9 351.7M232.2 347.9L236.5 350.4M236.5 350.4L234.7 353M234.7 353L229.3 353.5M242.5 348.8L245.7 350.2M245.7 350.2L243.2 352.3M243.2 352.3L238.2 353.6M206.7 345L211 348.3M215.3 349.1L219.9 351.7M225 351.8L229.3 353.5M234.7 353L238.2 353.6" stroke="#1e0c7c" stroke-width="2.3" fill="none" opacity="0.8" stroke-linecap="round"/>
<circle cx="231.2" cy="313.8" r="40.0" fill="none" stroke="#2c1690" stroke-width="2" opacity="0.85"/>
<ellipse cx="314" cy="316" rx="17" ry="3.5" fill="#26324a" opacity="0.6"/>
<circle cx="313" cy="301.3" r="15.8" fill="url(#gPurS)"/>
<path d="M312.7 285.8L310.3 286.1M317.4 286.2L316.9 286.7M316.9 286.7L314.4 286.6M321.1 287.8L321.1 288.5M321.1 288.5L318.8 288.1M324.5 290.9L322.9 290.3M310.3 286.1L309 287.2M309 287.2L306.5 287.8M312.7 285.8L314.4 286.6M314.4 286.6L313.3 288M313.3 288L310.4 288.3M316.9 286.7L318.8 288.1M318.8 288.1L318.1 289.7M318.1 289.7L315.2 289.8M321.1 288.5L322.9 290.3M322.9 290.3L322.6 292M322.6 292L320.1 291.9M324.5 290.9L326 292.8M326 292.8L326.2 294.5M326.2 294.5L324.4 294.3M328.1 297L327.4 296.8M305.7 287.4L306.5 287.8M306.5 287.8L305 289.6M305 289.6L302.7 290.5M309 287.2L310.4 288.3M310.4 288.3L309.1 290.5M309.1 290.5L306.1 291.1M313.3 288L315.2 289.8M315.2 289.8L314.1 292.1M314.1 292.1L310.8 292.5M318.1 289.7L320.1 291.9M320.1 291.9L319.2 294.3M319.2 294.3L316.1 294.5M322.6 292L324.4 294.3M324.4 294.3L323.8 296.8M323.8 296.8L321.2 296.9M326.2 294.5L327.4 296.8M327.4 296.8L327.2 299.1M327.2 299.1L325.4 299.3M328.7 301L328 301.3M302.4 289.8L302.7 290.5M302.7 290.5L301.3 292.7M301.3 292.7L299.7 293.7M305 289.6L306.1 291.1M306.1 291.1L304.7 293.6M304.7 293.6L302.2 294.4M309.1 290.5L310.8 292.5M310.8 292.5L309.5 295.3M309.5 295.3L306.3 295.9M314.1 292.1L316.1 294.5M316.1 294.5L314.9 297.5M314.9 297.5L311.4 297.9M319.2 294.3L321.2 296.9M321.2 296.9L320.1 299.9M320.1 299.9L316.9 300.2M323.8 296.8L325.4 299.3M325.4 299.3L324.6 302.1M324.6 302.1L321.9 302.5M327.2 299.1L328 301.3M328 301.3L327.4 303.8M327.4 303.8L325.8 304.4M299.7 293.7L298.6 296M301.3 292.7L302.2 294.4M302.2 294.4L301 297.1M301 297.1L299.1 297.7M304.7 293.6L306.3 295.9M306.3 295.9L305 298.9M305 298.9L302.2 299.4M309.5 295.3L311.4 297.9M311.4 297.9L310.1 301.1M310.1 301.1L306.8 301.5M314.9 297.5L316.9 300.2M316.9 300.2L315.6 303.4M315.6 303.4L312.2 303.9M320.1 299.9L321.9 302.5M321.9 302.5L320.7 305.5M320.7 305.5L317.6 306.1M324.6 302.1L325.8 304.4M325.8 304.4L324.7 307.1M324.7 307.1L322.2 307.8M327.4 303.8L327.8 305.6M327.8 305.6L326.9 307.9M326.9 307.9L325.4 308.9M298.6 296L299.1 297.7M299.1 297.7L298.3 300.3M298.3 300.3L297.4 300.7M301 297.1L302.2 299.4M302.2 299.4L301.2 302.3M301.2 302.3L299.3 302.5M305 298.9L306.8 301.5M306.8 301.5L305.6 304.6M305.6 304.6L302.8 304.8M310.1 301.1L312.2 303.9M312.2 303.9L310.9 306.9M310.9 306.9L307.6 307.2M315.6 303.4L317.6 306.1M317.6 306.1L316.2 309M316.2 309L312.9 309.4M320.7 305.5L322.2 307.8M322.2 307.8L320.8 310.5M320.8 310.5L317.9 311.1M324.7 307.1L325.4 308.9M325.4 308.9L324.1 311.1M324.1 311.1L322 312.1M298.3 300.3L299.3 302.5M299.3 302.5L298.8 305M298.8 305L297.9 304.9M301.2 302.3L302.8 304.8M302.8 304.8L302.1 307.4M302.1 307.4L300.1 307.3M305.6 304.6L307.6 307.2M307.6 307.2L306.6 309.9M306.6 309.9L303.9 309.8M310.9 306.9L312.9 309.4M312.9 309.4L311.7 312M311.7 312L308.7 312.1M316.2 309L317.9 311.1M317.9 311.1L316.5 313.4M316.5 313.4L313.6 313.9M320.8 310.5L322 312.1M322 312.1L320.5 314M320.5 314L317.9 314.8M324.1 311.1L324.4 312M298.8 305L300.1 307.3M300.1 307.3L300.1 309.3M300.1 309.3L299.1 308.7M302.1 307.4L303.9 309.8M303.9 309.8L303.5 311.8M303.5 311.8L301.6 311.3M306.6 309.9L308.7 312.1M308.7 312.1L307.8 314M307.8 314L305.4 313.7M311.7 312L313.6 313.9M313.6 313.9L312.4 315.5M312.4 315.5L309.7 315.5M316.5 313.4L317.9 314.8M317.9 314.8L316.6 316.1M316.6 316.1L314 316.5M320.5 314L321.2 314.6M300.1 309.3L301.6 311.3M301.6 311.3L301.9 312.5M303.5 311.8L305.4 313.7M305.4 313.7L305.2 314.7M307.8 314L309.7 315.5M309.7 315.5L309.1 316.4M309.1 316.4L307 315.9M312.4 315.5L314 316.5M314 316.5L313 317.1M305.2 314.7L307 315.9" stroke="#5a1fb0" stroke-width="0.7" fill="none" opacity="0.45" stroke-linecap="round"/>
</g>
<clipPath id="cs2"><path d="M367.5 436.5L566.2 436.5L566.2 509.5L559.5 512L552.8 509L546.1 512L539.4 509L532.7 512L526 509L519.3 512L512.6 509L505.9 512L499.2 509L492.5 512L485.8 509L479.1 512L472.4 509L465.7 512L459 509L452.3 512L445.6 509L438.9 512L432.2 509L425.5 512L418.8 509L412.1 512L405.4 509L398.7 512L392 509L385.3 512L378.6 509L371.9 512L367.5 510Z"/></clipPath>
<g clip-path="url(#cs2)" filter="url(#blur1)">
<rect x="367.5" y="436.5" width="198.7" height="75.5" fill="#2b343a"/>
<rect x="367.5" y="436.5" width="198.7" height="14.3" fill="#8d999f"/>
<g fill="#f6fafb" transform="translate(470,512) skewX(-24) translate(-470,-512)"><ellipse cx="325" cy="509.4" rx="5.7" ry="2.7"/><ellipse cx="338.2" cy="509.4" rx="5.7" ry="2.7"/><ellipse cx="351.4" cy="509.4" rx="5.7" ry="2.7"/><ellipse cx="364.5" cy="509.4" rx="5.7" ry="2.7"/><ellipse cx="377.7" cy="509.4" rx="5.7" ry="2.7"/><ellipse cx="390.9" cy="509.4" rx="5.7" ry="2.7"/><ellipse cx="404.1" cy="509.4" rx="5.7" ry="2.7"/><ellipse cx="417.3" cy="509.4" rx="5.7" ry="2.7"/><ellipse cx="430.5" cy="509.4" rx="5.7" ry="2.7"/><ellipse cx="443.6" cy="509.4" rx="5.7" ry="2.7"/><ellipse cx="456.8" cy="509.4" rx="5.7" ry="2.7"/><ellipse cx="470" cy="509.4" rx="5.7" ry="2.7"/><ellipse cx="483.2" cy="509.4" rx="5.7" ry="2.7"/><ellipse cx="496.4" cy="509.4" rx="5.7" ry="2.7"/><ellipse cx="509.5" cy="509.4" rx="5.7" ry="2.7"/><ellipse cx="522.7" cy="509.4" rx="5.7" ry="2.7"/><ellipse cx="535.9" cy="509.4" rx="5.7" ry="2.7"/><ellipse cx="549.1" cy="509.4" rx="5.7" ry="2.7"/><ellipse cx="562.3" cy="509.4" rx="5.7" ry="2.7"/><ellipse cx="575.5" cy="509.4" rx="5.7" ry="2.7"/><ellipse cx="588.6" cy="509.4" rx="5.7" ry="2.7"/><ellipse cx="601.8" cy="509.4" rx="5.7" ry="2.7"/><ellipse cx="330.3" cy="503" rx="5.2" ry="2.5"/><ellipse cx="342.4" cy="503" rx="5.2" ry="2.5"/><ellipse cx="354.6" cy="503" rx="5.2" ry="2.5"/><ellipse cx="366.7" cy="503" rx="5.2" ry="2.5"/><ellipse cx="378.9" cy="503" rx="5.2" ry="2.5"/><ellipse cx="391" cy="503" rx="5.2" ry="2.5"/><ellipse cx="403.2" cy="503" rx="5.2" ry="2.5"/><ellipse cx="415.3" cy="503" rx="5.2" ry="2.5"/><ellipse cx="427.5" cy="503" rx="5.2" ry="2.5"/><ellipse cx="439.6" cy="503" rx="5.2" ry="2.5"/><ellipse cx="451.8" cy="503" rx="5.2" ry="2.5"/><ellipse cx="463.9" cy="503" rx="5.2" ry="2.5"/><ellipse cx="476.1" cy="503" rx="5.2" ry="2.5"/><ellipse cx="488.2" cy="503" rx="5.2" ry="2.5"/><ellipse cx="500.4" cy="503" rx="5.2" ry="2.5"/><ellipse cx="512.5" cy="503" rx="5.2" ry="2.5"/><ellipse cx="524.7" cy="503" rx="5.2" ry="2.5"/><ellipse cx="536.8" cy="503" rx="5.2" ry="2.5"/><ellipse cx="549" cy="503" rx="5.2" ry="2.5"/><ellipse cx="561.1" cy="503" rx="5.2" ry="2.5"/><ellipse cx="573.3" cy="503" rx="5.2" ry="2.5"/><ellipse cx="585.4" cy="503" rx="5.2" ry="2.5"/><ellipse cx="597.6" cy="503" rx="5.2" ry="2.5"/><ellipse cx="609.7" cy="503" rx="5.2" ry="2.5"/><ellipse cx="324.4" cy="497.1" rx="4.8" ry="2.3"/><ellipse cx="335.6" cy="497.1" rx="4.8" ry="2.3"/><ellipse cx="346.8" cy="497.1" rx="4.8" ry="2.3"/><ellipse cx="358" cy="497.1" rx="4.8" ry="2.3"/><ellipse cx="369.2" cy="497.1" rx="4.8" ry="2.3"/><ellipse cx="380.4" cy="497.1" rx="4.8" ry="2.3"/><ellipse cx="391.6" cy="497.1" rx="4.8" ry="2.3"/><ellipse cx="402.8" cy="497.1" rx="4.8" ry="2.3"/><ellipse cx="414" cy="497.1" rx="4.8" ry="2.3"/><ellipse cx="425.2" cy="497.1" rx="4.8" ry="2.3"/><ellipse cx="436.4" cy="497.1" rx="4.8" ry="2.3"/><ellipse cx="447.6" cy="497.1" rx="4.8" ry="2.3"/><ellipse cx="458.8" cy="497.1" rx="4.8" ry="2.3"/><ellipse cx="470" cy="497.1" rx="4.8" ry="2.3"/><ellipse cx="481.2" cy="497.1" rx="4.8" ry="2.3"/><ellipse cx="492.4" cy="497.1" rx="4.8" ry="2.3"/><ellipse cx="503.6" cy="497.1" rx="4.8" ry="2.3"/><ellipse cx="514.8" cy="497.1" rx="4.8" ry="2.3"/><ellipse cx="526" cy="497.1" rx="4.8" ry="2.3"/><ellipse cx="537.2" cy="497.1" rx="4.8" ry="2.3"/><ellipse cx="548.4" cy="497.1" rx="4.8" ry="2.3"/><ellipse cx="559.6" cy="497.1" rx="4.8" ry="2.3"/><ellipse cx="570.8" cy="497.1" rx="4.8" ry="2.3"/><ellipse cx="582" cy="497.1" rx="4.8" ry="2.3"/><ellipse cx="593.2" cy="497.1" rx="4.8" ry="2.3"/><ellipse cx="604.4" cy="497.1" rx="4.8" ry="2.3"/><ellipse cx="330.8" cy="491.6" rx="4.4" ry="2.2"/><ellipse cx="341.1" cy="491.6" rx="4.4" ry="2.2"/><ellipse cx="351.4" cy="491.6" rx="4.4" ry="2.2"/><ellipse cx="361.7" cy="491.6" rx="4.4" ry="2.2"/><ellipse cx="372" cy="491.6" rx="4.4" ry="2.2"/><ellipse cx="382.3" cy="491.6" rx="4.4" ry="2.2"/><ellipse cx="392.7" cy="491.6" rx="4.4" ry="2.2"/><ellipse cx="403" cy="491.6" rx="4.4" ry="2.2"/><ellipse cx="413.3" cy="491.6" rx="4.4" ry="2.2"/><ellipse cx="423.6" cy="491.6" rx="4.4" ry="2.2"/><ellipse cx="433.9" cy="491.6" rx="4.4" ry="2.2"/><ellipse cx="444.2" cy="491.6" rx="4.4" ry="2.2"/><ellipse cx="454.5" cy="491.6" rx="4.4" ry="2.2"/><ellipse cx="464.8" cy="491.6" rx="4.4" ry="2.2"/><ellipse cx="475.2" cy="491.6" rx="4.4" ry="2.2"/><ellipse cx="485.5" cy="491.6" rx="4.4" ry="2.2"/><ellipse cx="495.8" cy="491.6" rx="4.4" ry="2.2"/><ellipse cx="506.1" cy="491.6" rx="4.4" ry="2.2"/><ellipse cx="516.4" cy="491.6" rx="4.4" ry="2.2"/><ellipse cx="526.7" cy="491.6" rx="4.4" ry="2.2"/><ellipse cx="537" cy="491.6" rx="4.4" ry="2.2"/><ellipse cx="547.3" cy="491.6" rx="4.4" ry="2.2"/><ellipse cx="557.7" cy="491.6" rx="4.4" ry="2.2"/><ellipse cx="568" cy="491.6" rx="4.4" ry="2.2"/><ellipse cx="578.3" cy="491.6" rx="4.4" ry="2.2"/><ellipse cx="588.6" cy="491.6" rx="4.4" ry="2.2"/><ellipse cx="598.9" cy="491.6" rx="4.4" ry="2.2"/><ellipse cx="609.2" cy="491.6" rx="4.4" ry="2.2"/><ellipse cx="327.6" cy="486.5" rx="4.1" ry="2"/><ellipse cx="337.1" cy="486.5" rx="4.1" ry="2"/><ellipse cx="346.6" cy="486.5" rx="4.1" ry="2"/><ellipse cx="356" cy="486.5" rx="4.1" ry="2"/><ellipse cx="365.5" cy="486.5" rx="4.1" ry="2"/><ellipse cx="375" cy="486.5" rx="4.1" ry="2"/><ellipse cx="384.5" cy="486.5" rx="4.1" ry="2"/><ellipse cx="394" cy="486.5" rx="4.1" ry="2"/><ellipse cx="403.5" cy="486.5" rx="4.1" ry="2"/><ellipse cx="413" cy="486.5" rx="4.1" ry="2"/><ellipse cx="422.5" cy="486.5" rx="4.1" ry="2"/><ellipse cx="432" cy="486.5" rx="4.1" ry="2"/><ellipse cx="441.5" cy="486.5" rx="4.1" ry="2"/><ellipse cx="451" cy="486.5" rx="4.1" ry="2"/><ellipse cx="460.5" cy="486.5" rx="4.1" ry="2"/><ellipse cx="470" cy="486.5" rx="4.1" ry="2"/><ellipse cx="479.5" cy="486.5" rx="4.1" ry="2"/><ellipse cx="489" cy="486.5" rx="4.1" ry="2"/><ellipse cx="498.5" cy="486.5" rx="4.1" ry="2"/><ellipse cx="508" cy="486.5" rx="4.1" ry="2"/><ellipse cx="517.5" cy="486.5" rx="4.1" ry="2"/><ellipse cx="527" cy="486.5" rx="4.1" ry="2"/><ellipse cx="536.5" cy="486.5" rx="4.1" ry="2"/><ellipse cx="546" cy="486.5" rx="4.1" ry="2"/><ellipse cx="555.5" cy="486.5" rx="4.1" ry="2"/><ellipse cx="565" cy="486.5" rx="4.1" ry="2"/><ellipse cx="574.5" cy="486.5" rx="4.1" ry="2"/><ellipse cx="584" cy="486.5" rx="4.1" ry="2"/><ellipse cx="593.4" cy="486.5" rx="4.1" ry="2"/><ellipse cx="602.9" cy="486.5" rx="4.1" ry="2"/><ellipse cx="325.8" cy="481.8" rx="3.8" ry="1.9"/><ellipse cx="334.5" cy="481.8" rx="3.8" ry="1.9"/><ellipse cx="343.3" cy="481.8" rx="3.8" ry="1.9"/><ellipse cx="352" cy="481.8" rx="3.8" ry="1.9"/><ellipse cx="360.8" cy="481.8" rx="3.8" ry="1.9"/><ellipse cx="369.5" cy="481.8" rx="3.8" ry="1.9"/><ellipse cx="378.2" cy="481.8" rx="3.8" ry="1.9"/><ellipse cx="387" cy="481.8" rx="3.8" ry="1.9"/><ellipse cx="395.7" cy="481.8" rx="3.8" ry="1.9"/><ellipse cx="404.5" cy="481.8" rx="3.8" ry="1.9"/><ellipse cx="413.2" cy="481.8" rx="3.8" ry="1.9"/><ellipse cx="421.9" cy="481.8" rx="3.8" ry="1.9"/><ellipse cx="430.7" cy="481.8" rx="3.8" ry="1.9"/><ellipse cx="439.4" cy="481.8" rx="3.8" ry="1.9"/><ellipse cx="448.2" cy="481.8" rx="3.8" ry="1.9"/><ellipse cx="456.9" cy="481.8" rx="3.8" ry="1.9"/><ellipse cx="465.6" cy="481.8" rx="3.8" ry="1.9"/><ellipse cx="474.4" cy="481.8" rx="3.8" ry="1.9"/><ellipse cx="483.1" cy="481.8" rx="3.8" ry="1.9"/><ellipse cx="491.8" cy="481.8" rx="3.8" ry="1.9"/><ellipse cx="500.6" cy="481.8" rx="3.8" ry="1.9"/><ellipse cx="509.3" cy="481.8" rx="3.8" ry="1.9"/><ellipse cx="518.1" cy="481.8" rx="3.8" ry="1.9"/><ellipse cx="526.8" cy="481.8" rx="3.8" ry="1.9"/><ellipse cx="535.5" cy="481.8" rx="3.8" ry="1.9"/><ellipse cx="544.3" cy="481.8" rx="3.8" ry="1.9"/><ellipse cx="553" cy="481.8" rx="3.8" ry="1.9"/><ellipse cx="561.8" cy="481.8" rx="3.8" ry="1.9"/><ellipse cx="570.5" cy="481.8" rx="3.8" ry="1.9"/><ellipse cx="579.2" cy="481.8" rx="3.8" ry="1.9"/><ellipse cx="588" cy="481.8" rx="3.8" ry="1.9"/><ellipse cx="596.7" cy="481.8" rx="3.8" ry="1.9"/><ellipse cx="605.5" cy="481.8" rx="3.8" ry="1.9"/><ellipse cx="325.3" cy="477.5" rx="3.5" ry="1.8"/><ellipse cx="333.3" cy="477.5" rx="3.5" ry="1.8"/><ellipse cx="341.4" cy="477.5" rx="3.5" ry="1.8"/><ellipse cx="349.4" cy="477.5" rx="3.5" ry="1.8"/><ellipse cx="357.4" cy="477.5" rx="3.5" ry="1.8"/><ellipse cx="365.5" cy="477.5" rx="3.5" ry="1.8"/><ellipse cx="373.5" cy="477.5" rx="3.5" ry="1.8"/><ellipse cx="381.6" cy="477.5" rx="3.5" ry="1.8"/><ellipse cx="389.6" cy="477.5" rx="3.5" ry="1.8"/><ellipse cx="397.6" cy="477.5" rx="3.5" ry="1.8"/><ellipse cx="405.7" cy="477.5" rx="3.5" ry="1.8"/><ellipse cx="413.7" cy="477.5" rx="3.5" ry="1.8"/><ellipse cx="421.8" cy="477.5" rx="3.5" ry="1.8"/><ellipse cx="429.8" cy="477.5" rx="3.5" ry="1.8"/><ellipse cx="437.8" cy="477.5" rx="3.5" ry="1.8"/><ellipse cx="445.9" cy="477.5" rx="3.5" ry="1.8"/><ellipse cx="453.9" cy="477.5" rx="3.5" ry="1.8"/><ellipse cx="462" cy="477.5" rx="3.5" ry="1.8"/><ellipse cx="470" cy="477.5" rx="3.5" ry="1.8"/><ellipse cx="478" cy="477.5" rx="3.5" ry="1.8"/><ellipse cx="486.1" cy="477.5" rx="3.5" ry="1.8"/><ellipse cx="494.1" cy="477.5" rx="3.5" ry="1.8"/><ellipse cx="502.2" cy="477.5" rx="3.5" ry="1.8"/><ellipse cx="510.2" cy="477.5" rx="3.5" ry="1.8"/><ellipse cx="518.2" cy="477.5" rx="3.5" ry="1.8"/><ellipse cx="526.3" cy="477.5" rx="3.5" ry="1.8"/><ellipse cx="534.3" cy="477.5" rx="3.5" ry="1.8"/><ellipse cx="542.4" cy="477.5" rx="3.5" ry="1.8"/><ellipse cx="550.4" cy="477.5" rx="3.5" ry="1.8"/><ellipse cx="558.4" cy="477.5" rx="3.5" ry="1.8"/><ellipse cx="566.5" cy="477.5" rx="3.5" ry="1.8"/><ellipse cx="574.5" cy="477.5" rx="3.5" ry="1.8"/><ellipse cx="582.6" cy="477.5" rx="3.5" ry="1.8"/><ellipse cx="590.6" cy="477.5" rx="3.5" ry="1.8"/><ellipse cx="598.6" cy="477.5" rx="3.5" ry="1.8"/><ellipse cx="606.7" cy="477.5" rx="3.5" ry="1.8"/><ellipse cx="325.9" cy="473.4" rx="3.2" ry="1.6"/><ellipse cx="333.2" cy="473.4" rx="3.2" ry="1.6"/><ellipse cx="340.6" cy="473.4" rx="3.2" ry="1.6"/><ellipse cx="348" cy="473.4" rx="3.2" ry="1.6"/><ellipse cx="355.4" cy="473.4" rx="3.2" ry="1.6"/><ellipse cx="362.8" cy="473.4" rx="3.2" ry="1.6"/><ellipse cx="370.2" cy="473.4" rx="3.2" ry="1.6"/><ellipse cx="377.6" cy="473.4" rx="3.2" ry="1.6"/><ellipse cx="385" cy="473.4" rx="3.2" ry="1.6"/><ellipse cx="392.4" cy="473.4" rx="3.2" ry="1.6"/><ellipse cx="399.8" cy="473.4" rx="3.2" ry="1.6"/><ellipse cx="407.2" cy="473.4" rx="3.2" ry="1.6"/><ellipse cx="414.6" cy="473.4" rx="3.2" ry="1.6"/><ellipse cx="422" cy="473.4" rx="3.2" ry="1.6"/><ellipse cx="429.3" cy="473.4" rx="3.2" ry="1.6"/><ellipse cx="436.7" cy="473.4" rx="3.2" ry="1.6"/><ellipse cx="444.1" cy="473.4" rx="3.2" ry="1.6"/><ellipse cx="451.5" cy="473.4" rx="3.2" ry="1.6"/><ellipse cx="458.9" cy="473.4" rx="3.2" ry="1.6"/><ellipse cx="466.3" cy="473.4" rx="3.2" ry="1.6"/><ellipse cx="473.7" cy="473.4" rx="3.2" ry="1.6"/><ellipse cx="481.1" cy="473.4" rx="3.2" ry="1.6"/><ellipse cx="488.5" cy="473.4" rx="3.2" ry="1.6"/><ellipse cx="495.9" cy="473.4" rx="3.2" ry="1.6"/><ellipse cx="503.3" cy="473.4" rx="3.2" ry="1.6"/><ellipse cx="510.7" cy="473.4" rx="3.2" ry="1.6"/><ellipse cx="518" cy="473.4" rx="3.2" ry="1.6"/><ellipse cx="525.4" cy="473.4" rx="3.2" ry="1.6"/><ellipse cx="532.8" cy="473.4" rx="3.2" ry="1.6"/><ellipse cx="540.2" cy="473.4" rx="3.2" ry="1.6"/><ellipse cx="547.6" cy="473.4" rx="3.2" ry="1.6"/><ellipse cx="555" cy="473.4" rx="3.2" ry="1.6"/><ellipse cx="562.4" cy="473.4" rx="3.2" ry="1.6"/><ellipse cx="569.8" cy="473.4" rx="3.2" ry="1.6"/><ellipse cx="577.2" cy="473.4" rx="3.2" ry="1.6"/><ellipse cx="584.6" cy="473.4" rx="3.2" ry="1.6"/><ellipse cx="592" cy="473.4" rx="3.2" ry="1.6"/><ellipse cx="599.4" cy="473.4" rx="3.2" ry="1.6"/><ellipse cx="606.8" cy="473.4" rx="3.2" ry="1.6"/><ellipse cx="327.4" cy="469.7" rx="2.9" ry="1.5"/><ellipse cx="334.1" cy="469.7" rx="2.9" ry="1.5"/><ellipse cx="340.9" cy="469.7" rx="2.9" ry="1.5"/><ellipse cx="347.7" cy="469.7" rx="2.9" ry="1.5"/><ellipse cx="354.5" cy="469.7" rx="2.9" ry="1.5"/><ellipse cx="361.3" cy="469.7" rx="2.9" ry="1.5"/><ellipse cx="368.1" cy="469.7" rx="2.9" ry="1.5"/><ellipse cx="374.9" cy="469.7" rx="2.9" ry="1.5"/><ellipse cx="381.7" cy="469.7" rx="2.9" ry="1.5"/><ellipse cx="388.5" cy="469.7" rx="2.9" ry="1.5"/><ellipse cx="395.3" cy="469.7" rx="2.9" ry="1.5"/><ellipse cx="402.1" cy="469.7" rx="2.9" ry="1.5"/><ellipse cx="408.9" cy="469.7" rx="2.9" ry="1.5"/><ellipse cx="415.7" cy="469.7" rx="2.9" ry="1.5"/><ellipse cx="422.5" cy="469.7" rx="2.9" ry="1.5"/><ellipse cx="429.2" cy="469.7" rx="2.9" ry="1.5"/><ellipse cx="436" cy="469.7" rx="2.9" ry="1.5"/><ellipse cx="442.8" cy="469.7" rx="2.9" ry="1.5"/><ellipse cx="449.6" cy="469.7" rx="2.9" ry="1.5"/><ellipse cx="456.4" cy="469.7" rx="2.9" ry="1.5"/><ellipse cx="463.2" cy="469.7" rx="2.9" ry="1.5"/><ellipse cx="470" cy="469.7" rx="2.9" ry="1.5"/><ellipse cx="476.8" cy="469.7" rx="2.9" ry="1.5"/><ellipse cx="483.6" cy="469.7" rx="2.9" ry="1.5"/><ellipse cx="490.4" cy="469.7" rx="2.9" ry="1.5"/><ellipse cx="497.2" cy="469.7" rx="2.9" ry="1.5"/><ellipse cx="504" cy="469.7" rx="2.9" ry="1.5"/><ellipse cx="510.8" cy="469.7" rx="2.9" ry="1.5"/><ellipse cx="517.5" cy="469.7" rx="2.9" ry="1.5"/><ellipse cx="524.3" cy="469.7" rx="2.9" ry="1.5"/><ellipse cx="531.1" cy="469.7" rx="2.9" ry="1.5"/><ellipse cx="537.9" cy="469.7" rx="2.9" ry="1.5"/><ellipse cx="544.7" cy="469.7" rx="2.9" ry="1.5"/><ellipse cx="551.5" cy="469.7" rx="2.9" ry="1.5"/><ellipse cx="558.3" cy="469.7" rx="2.9" ry="1.5"/><ellipse cx="565.1" cy="469.7" rx="2.9" ry="1.5"/><ellipse cx="571.9" cy="469.7" rx="2.9" ry="1.5"/><ellipse cx="578.7" cy="469.7" rx="2.9" ry="1.5"/><ellipse cx="585.5" cy="469.7" rx="2.9" ry="1.5"/><ellipse cx="592.3" cy="469.7" rx="2.9" ry="1.5"/><ellipse cx="599.1" cy="469.7" rx="2.9" ry="1.5"/><ellipse cx="605.9" cy="469.7" rx="2.9" ry="1.5"/><ellipse cx="329.6" cy="466.3" rx="2.7" ry="1.4"/><ellipse cx="335.9" cy="466.3" rx="2.7" ry="1.4"/><ellipse cx="342.1" cy="466.3" rx="2.7" ry="1.4"/><ellipse cx="348.4" cy="466.3" rx="2.7" ry="1.4"/><ellipse cx="354.6" cy="466.3" rx="2.7" ry="1.4"/><ellipse cx="360.8" cy="466.3" rx="2.7" ry="1.4"/><ellipse cx="367.1" cy="466.3" rx="2.7" ry="1.4"/><ellipse cx="373.3" cy="466.3" rx="2.7" ry="1.4"/><ellipse cx="379.5" cy="466.3" rx="2.7" ry="1.4"/><ellipse cx="385.8" cy="466.3" rx="2.7" ry="1.4"/><ellipse cx="392" cy="466.3" rx="2.7" ry="1.4"/><ellipse cx="398.3" cy="466.3" rx="2.7" ry="1.4"/><ellipse cx="404.5" cy="466.3" rx="2.7" ry="1.4"/><ellipse cx="410.7" cy="466.3" rx="2.7" ry="1.4"/><ellipse cx="417" cy="466.3" rx="2.7" ry="1.4"/><ellipse cx="423.2" cy="466.3" rx="2.7" ry="1.4"/><ellipse cx="429.5" cy="466.3" rx="2.7" ry="1.4"/><ellipse cx="435.7" cy="466.3" rx="2.7" ry="1.4"/><ellipse cx="441.9" cy="466.3" rx="2.7" ry="1.4"/><ellipse cx="448.2" cy="466.3" rx="2.7" ry="1.4"/><ellipse cx="454.4" cy="466.3" rx="2.7" ry="1.4"/><ellipse cx="460.6" cy="466.3" rx="2.7" ry="1.4"/><ellipse cx="466.9" cy="466.3" rx="2.7" ry="1.4"/><ellipse cx="473.1" cy="466.3" rx="2.7" ry="1.4"/><ellipse cx="479.4" cy="466.3" rx="2.7" ry="1.4"/><ellipse cx="485.6" cy="466.3" rx="2.7" ry="1.4"/><ellipse cx="491.8" cy="466.3" rx="2.7" ry="1.4"/><ellipse cx="498.1" cy="466.3" rx="2.7" ry="1.4"/><ellipse cx="504.3" cy="466.3" rx="2.7" ry="1.4"/><ellipse cx="510.5" cy="466.3" rx="2.7" ry="1.4"/><ellipse cx="516.8" cy="466.3" rx="2.7" ry="1.4"/><ellipse cx="523" cy="466.3" rx="2.7" ry="1.4"/><ellipse cx="529.3" cy="466.3" rx="2.7" ry="1.4"/><ellipse cx="535.5" cy="466.3" rx="2.7" ry="1.4"/><ellipse cx="541.7" cy="466.3" rx="2.7" ry="1.4"/><ellipse cx="548" cy="466.3" rx="2.7" ry="1.4"/><ellipse cx="554.2" cy="466.3" rx="2.7" ry="1.4"/><ellipse cx="560.5" cy="466.3" rx="2.7" ry="1.4"/><ellipse cx="566.7" cy="466.3" rx="2.7" ry="1.4"/><ellipse cx="572.9" cy="466.3" rx="2.7" ry="1.4"/><ellipse cx="579.2" cy="466.3" rx="2.7" ry="1.4"/><ellipse cx="585.4" cy="466.3" rx="2.7" ry="1.4"/><ellipse cx="591.6" cy="466.3" rx="2.7" ry="1.4"/><ellipse cx="597.9" cy="466.3" rx="2.7" ry="1.4"/><ellipse cx="604.1" cy="466.3" rx="2.7" ry="1.4"/><ellipse cx="326.9" cy="463.1" rx="2.5" ry="1.3"/><ellipse cx="332.6" cy="463.1" rx="2.5" ry="1.3"/><ellipse cx="338.3" cy="463.1" rx="2.5" ry="1.3"/><ellipse cx="344.1" cy="463.1" rx="2.5" ry="1.3"/><ellipse cx="349.8" cy="463.1" rx="2.5" ry="1.3"/><ellipse cx="355.5" cy="463.1" rx="2.5" ry="1.3"/><ellipse cx="361.2" cy="463.1" rx="2.5" ry="1.3"/><ellipse cx="367" cy="463.1" rx="2.5" ry="1.3"/><ellipse cx="372.7" cy="463.1" rx="2.5" ry="1.3"/><ellipse cx="378.4" cy="463.1" rx="2.5" ry="1.3"/><ellipse cx="384.1" cy="463.1" rx="2.5" ry="1.3"/><ellipse cx="389.9" cy="463.1" rx="2.5" ry="1.3"/><ellipse cx="395.6" cy="463.1" rx="2.5" ry="1.3"/><ellipse cx="401.3" cy="463.1" rx="2.5" ry="1.3"/><ellipse cx="407" cy="463.1" rx="2.5" ry="1.3"/><ellipse cx="412.8" cy="463.1" rx="2.5" ry="1.3"/><ellipse cx="418.5" cy="463.1" rx="2.5" ry="1.3"/><ellipse cx="424.2" cy="463.1" rx="2.5" ry="1.3"/><ellipse cx="429.9" cy="463.1" rx="2.5" ry="1.3"/><ellipse cx="435.7" cy="463.1" rx="2.5" ry="1.3"/><ellipse cx="441.4" cy="463.1" rx="2.5" ry="1.3"/><ellipse cx="447.1" cy="463.1" rx="2.5" ry="1.3"/><ellipse cx="452.8" cy="463.1" rx="2.5" ry="1.3"/><ellipse cx="458.6" cy="463.1" rx="2.5" ry="1.3"/><ellipse cx="464.3" cy="463.1" rx="2.5" ry="1.3"/><ellipse cx="470" cy="463.1" rx="2.5" ry="1.3"/><ellipse cx="475.7" cy="463.1" rx="2.5" ry="1.3"/><ellipse cx="481.4" cy="463.1" rx="2.5" ry="1.3"/><ellipse cx="487.2" cy="463.1" rx="2.5" ry="1.3"/><ellipse cx="492.9" cy="463.1" rx="2.5" ry="1.3"/><ellipse cx="498.6" cy="463.1" rx="2.5" ry="1.3"/><ellipse cx="504.3" cy="463.1" rx="2.5" ry="1.3"/><ellipse cx="510.1" cy="463.1" rx="2.5" ry="1.3"/><ellipse cx="515.8" cy="463.1" rx="2.5" ry="1.3"/><ellipse cx="521.5" cy="463.1" rx="2.5" ry="1.3"/><ellipse cx="527.2" cy="463.1" rx="2.5" ry="1.3"/><ellipse cx="533" cy="463.1" rx="2.5" ry="1.3"/><ellipse cx="538.7" cy="463.1" rx="2.5" ry="1.3"/><ellipse cx="544.4" cy="463.1" rx="2.5" ry="1.3"/><ellipse cx="550.1" cy="463.1" rx="2.5" ry="1.3"/><ellipse cx="555.9" cy="463.1" rx="2.5" ry="1.3"/><ellipse cx="561.6" cy="463.1" rx="2.5" ry="1.3"/><ellipse cx="567.3" cy="463.1" rx="2.5" ry="1.3"/><ellipse cx="573" cy="463.1" rx="2.5" ry="1.3"/><ellipse cx="578.8" cy="463.1" rx="2.5" ry="1.3"/><ellipse cx="584.5" cy="463.1" rx="2.5" ry="1.3"/><ellipse cx="590.2" cy="463.1" rx="2.5" ry="1.3"/><ellipse cx="595.9" cy="463.1" rx="2.5" ry="1.3"/><ellipse cx="601.7" cy="463.1" rx="2.5" ry="1.3"/><ellipse cx="607.4" cy="463.1" rx="2.5" ry="1.3"/><ellipse cx="325.6" cy="460.1" rx="2.3" ry="1.2"/><ellipse cx="330.9" cy="460.1" rx="2.3" ry="1.2"/><ellipse cx="336.1" cy="460.1" rx="2.3" ry="1.2"/><ellipse cx="341.4" cy="460.1" rx="2.3" ry="1.2"/><ellipse cx="346.6" cy="460.1" rx="2.3" ry="1.2"/><ellipse cx="351.9" cy="460.1" rx="2.3" ry="1.2"/><ellipse cx="357.1" cy="460.1" rx="2.3" ry="1.2"/><ellipse cx="362.4" cy="460.1" rx="2.3" ry="1.2"/><ellipse cx="367.6" cy="460.1" rx="2.3" ry="1.2"/><ellipse cx="372.9" cy="460.1" rx="2.3" ry="1.2"/><ellipse cx="378.1" cy="460.1" rx="2.3" ry="1.2"/><ellipse cx="383.4" cy="460.1" rx="2.3" ry="1.2"/><ellipse cx="388.6" cy="460.1" rx="2.3" ry="1.2"/><ellipse cx="393.9" cy="460.1" rx="2.3" ry="1.2"/><ellipse cx="399.1" cy="460.1" rx="2.3" ry="1.2"/><ellipse cx="404.4" cy="460.1" rx="2.3" ry="1.2"/><ellipse cx="409.6" cy="460.1" rx="2.3" ry="1.2"/><ellipse cx="414.9" cy="460.1" rx="2.3" ry="1.2"/><ellipse cx="420.1" cy="460.1" rx="2.3" ry="1.2"/><ellipse cx="425.4" cy="460.1" rx="2.3" ry="1.2"/><ellipse cx="430.6" cy="460.1" rx="2.3" ry="1.2"/><ellipse cx="435.9" cy="460.1" rx="2.3" ry="1.2"/><ellipse cx="441.1" cy="460.1" rx="2.3" ry="1.2"/><ellipse cx="446.4" cy="460.1" rx="2.3" ry="1.2"/><ellipse cx="451.6" cy="460.1" rx="2.3" ry="1.2"/><ellipse cx="456.9" cy="460.1" rx="2.3" ry="1.2"/><ellipse cx="462.1" cy="460.1" rx="2.3" ry="1.2"/><ellipse cx="467.4" cy="460.1" rx="2.3" ry="1.2"/><ellipse cx="472.6" cy="460.1" rx="2.3" ry="1.2"/><ellipse cx="477.9" cy="460.1" rx="2.3" ry="1.2"/><ellipse cx="483.1" cy="460.1" rx="2.3" ry="1.2"/><ellipse cx="488.4" cy="460.1" rx="2.3" ry="1.2"/><ellipse cx="493.6" cy="460.1" rx="2.3" ry="1.2"/><ellipse cx="498.9" cy="460.1" rx="2.3" ry="1.2"/><ellipse cx="504.1" cy="460.1" rx="2.3" ry="1.2"/><ellipse cx="509.4" cy="460.1" rx="2.3" ry="1.2"/><ellipse cx="514.6" cy="460.1" rx="2.3" ry="1.2"/><ellipse cx="519.9" cy="460.1" rx="2.3" ry="1.2"/><ellipse cx="525.1" cy="460.1" rx="2.3" ry="1.2"/><ellipse cx="530.4" cy="460.1" rx="2.3" ry="1.2"/><ellipse cx="535.6" cy="460.1" rx="2.3" ry="1.2"/><ellipse cx="540.9" cy="460.1" rx="2.3" ry="1.2"/><ellipse cx="546.1" cy="460.1" rx="2.3" ry="1.2"/><ellipse cx="551.4" cy="460.1" rx="2.3" ry="1.2"/><ellipse cx="556.6" cy="460.1" rx="2.3" ry="1.2"/><ellipse cx="561.9" cy="460.1" rx="2.3" ry="1.2"/><ellipse cx="567.1" cy="460.1" rx="2.3" ry="1.2"/><ellipse cx="572.4" cy="460.1" rx="2.3" ry="1.2"/><ellipse cx="577.6" cy="460.1" rx="2.3" ry="1.2"/><ellipse cx="582.9" cy="460.1" rx="2.3" ry="1.2"/><ellipse cx="588.1" cy="460.1" rx="2.3" ry="1.2"/><ellipse cx="593.4" cy="460.1" rx="2.3" ry="1.2"/><ellipse cx="598.6" cy="460.1" rx="2.3" ry="1.2"/><ellipse cx="603.9" cy="460.1" rx="2.3" ry="1.2"/><ellipse cx="325.7" cy="457.4" rx="2.1" ry="1.2"/><ellipse cx="330.5" cy="457.4" rx="2.1" ry="1.2"/><ellipse cx="335.3" cy="457.4" rx="2.1" ry="1.2"/><ellipse cx="340.1" cy="457.4" rx="2.1" ry="1.2"/><ellipse cx="344.9" cy="457.4" rx="2.1" ry="1.2"/><ellipse cx="349.8" cy="457.4" rx="2.1" ry="1.2"/><ellipse cx="354.6" cy="457.4" rx="2.1" ry="1.2"/><ellipse cx="359.4" cy="457.4" rx="2.1" ry="1.2"/><ellipse cx="364.2" cy="457.4" rx="2.1" ry="1.2"/><ellipse cx="369" cy="457.4" rx="2.1" ry="1.2"/><ellipse cx="373.8" cy="457.4" rx="2.1" ry="1.2"/><ellipse cx="378.6" cy="457.4" rx="2.1" ry="1.2"/><ellipse cx="383.4" cy="457.4" rx="2.1" ry="1.2"/><ellipse cx="388.2" cy="457.4" rx="2.1" ry="1.2"/><ellipse cx="393" cy="457.4" rx="2.1" ry="1.2"/><ellipse cx="397.9" cy="457.4" rx="2.1" ry="1.2"/><ellipse cx="402.7" cy="457.4" rx="2.1" ry="1.2"/><ellipse cx="407.5" cy="457.4" rx="2.1" ry="1.2"/><ellipse cx="412.3" cy="457.4" rx="2.1" ry="1.2"/><ellipse cx="417.1" cy="457.4" rx="2.1" ry="1.2"/><ellipse cx="421.9" cy="457.4" rx="2.1" ry="1.2"/><ellipse cx="426.7" cy="457.4" rx="2.1" ry="1.2"/><ellipse cx="431.5" cy="457.4" rx="2.1" ry="1.2"/><ellipse cx="436.3" cy="457.4" rx="2.1" ry="1.2"/><ellipse cx="441.1" cy="457.4" rx="2.1" ry="1.2"/><ellipse cx="446" cy="457.4" rx="2.1" ry="1.2"/><ellipse cx="450.8" cy="457.4" rx="2.1" ry="1.2"/><ellipse cx="455.6" cy="457.4" rx="2.1" ry="1.2"/><ellipse cx="460.4" cy="457.4" rx="2.1" ry="1.2"/><ellipse cx="465.2" cy="457.4" rx="2.1" ry="1.2"/><ellipse cx="470" cy="457.4" rx="2.1" ry="1.2"/><ellipse cx="474.8" cy="457.4" rx="2.1" ry="1.2"/><ellipse cx="479.6" cy="457.4" rx="2.1" ry="1.2"/><ellipse cx="484.4" cy="457.4" rx="2.1" ry="1.2"/><ellipse cx="489.2" cy="457.4" rx="2.1" ry="1.2"/><ellipse cx="494" cy="457.4" rx="2.1" ry="1.2"/><ellipse cx="498.9" cy="457.4" rx="2.1" ry="1.2"/><ellipse cx="503.7" cy="457.4" rx="2.1" ry="1.2"/><ellipse cx="508.5" cy="457.4" rx="2.1" ry="1.2"/><ellipse cx="513.3" cy="457.4" rx="2.1" ry="1.2"/><ellipse cx="518.1" cy="457.4" rx="2.1" ry="1.2"/><ellipse cx="522.9" cy="457.4" rx="2.1" ry="1.2"/><ellipse cx="527.7" cy="457.4" rx="2.1" ry="1.2"/><ellipse cx="532.5" cy="457.4" rx="2.1" ry="1.2"/><ellipse cx="537.3" cy="457.4" rx="2.1" ry="1.2"/><ellipse cx="542.1" cy="457.4" rx="2.1" ry="1.2"/><ellipse cx="547" cy="457.4" rx="2.1" ry="1.2"/><ellipse cx="551.8" cy="457.4" rx="2.1" ry="1.2"/><ellipse cx="556.6" cy="457.4" rx="2.1" ry="1.2"/><ellipse cx="561.4" cy="457.4" rx="2.1" ry="1.2"/><ellipse cx="566.2" cy="457.4" rx="2.1" ry="1.2"/><ellipse cx="571" cy="457.4" rx="2.1" ry="1.2"/><ellipse cx="575.8" cy="457.4" rx="2.1" ry="1.2"/><ellipse cx="580.6" cy="457.4" rx="2.1" ry="1.2"/><ellipse cx="585.4" cy="457.4" rx="2.1" ry="1.2"/><ellipse cx="590.2" cy="457.4" rx="2.1" ry="1.2"/><ellipse cx="595.1" cy="457.4" rx="2.1" ry="1.2"/><ellipse cx="599.9" cy="457.4" rx="2.1" ry="1.2"/><ellipse cx="604.7" cy="457.4" rx="2.1" ry="1.2"/><ellipse cx="326.9" cy="454.9" rx="1.9" ry="1.1"/><ellipse cx="331.3" cy="454.9" rx="1.9" ry="1.1"/><ellipse cx="335.7" cy="454.9" rx="1.9" ry="1.1"/><ellipse cx="340.1" cy="454.9" rx="1.9" ry="1.1"/><ellipse cx="344.5" cy="454.9" rx="1.9" ry="1.1"/><ellipse cx="348.9" cy="454.9" rx="1.9" ry="1.1"/><ellipse cx="353.3" cy="454.9" rx="1.9" ry="1.1"/><ellipse cx="357.7" cy="454.9" rx="1.9" ry="1.1"/><ellipse cx="362.1" cy="454.9" rx="1.9" ry="1.1"/><ellipse cx="366.5" cy="454.9" rx="1.9" ry="1.1"/><ellipse cx="370.9" cy="454.9" rx="1.9" ry="1.1"/><ellipse cx="375.3" cy="454.9" rx="1.9" ry="1.1"/><ellipse cx="379.7" cy="454.9" rx="1.9" ry="1.1"/><ellipse cx="384.1" cy="454.9" rx="1.9" ry="1.1"/><ellipse cx="388.5" cy="454.9" rx="1.9" ry="1.1"/><ellipse cx="392.9" cy="454.9" rx="1.9" ry="1.1"/><ellipse cx="397.4" cy="454.9" rx="1.9" ry="1.1"/><ellipse cx="401.8" cy="454.9" rx="1.9" ry="1.1"/><ellipse cx="406.2" cy="454.9" rx="1.9" ry="1.1"/><ellipse cx="410.6" cy="454.9" rx="1.9" ry="1.1"/><ellipse cx="415" cy="454.9" rx="1.9" ry="1.1"/><ellipse cx="419.4" cy="454.9" rx="1.9" ry="1.1"/><ellipse cx="423.8" cy="454.9" rx="1.9" ry="1.1"/><ellipse cx="428.2" cy="454.9" rx="1.9" ry="1.1"/><ellipse cx="432.6" cy="454.9" rx="1.9" ry="1.1"/><ellipse cx="437" cy="454.9" rx="1.9" ry="1.1"/><ellipse cx="441.4" cy="454.9" rx="1.9" ry="1.1"/><ellipse cx="445.8" cy="454.9" rx="1.9" ry="1.1"/><ellipse cx="450.2" cy="454.9" rx="1.9" ry="1.1"/><ellipse cx="454.6" cy="454.9" rx="1.9" ry="1.1"/><ellipse cx="459" cy="454.9" rx="1.9" ry="1.1"/><ellipse cx="463.4" cy="454.9" rx="1.9" ry="1.1"/><ellipse cx="467.8" cy="454.9" rx="1.9" ry="1.1"/><ellipse cx="472.2" cy="454.9" rx="1.9" ry="1.1"/><ellipse cx="476.6" cy="454.9" rx="1.9" ry="1.1"/><ellipse cx="481" cy="454.9" rx="1.9" ry="1.1"/><ellipse cx="485.4" cy="454.9" rx="1.9" ry="1.1"/><ellipse cx="489.8" cy="454.9" rx="1.9" ry="1.1"/><ellipse cx="494.2" cy="454.9" rx="1.9" ry="1.1"/><ellipse cx="498.6" cy="454.9" rx="1.9" ry="1.1"/><ellipse cx="503" cy="454.9" rx="1.9" ry="1.1"/><ellipse cx="507.4" cy="454.9" rx="1.9" ry="1.1"/><ellipse cx="511.8" cy="454.9" rx="1.9" ry="1.1"/><ellipse cx="516.2" cy="454.9" rx="1.9" ry="1.1"/><ellipse cx="520.6" cy="454.9" rx="1.9" ry="1.1"/><ellipse cx="525" cy="454.9" rx="1.9" ry="1.1"/><ellipse cx="529.4" cy="454.9" rx="1.9" ry="1.1"/><ellipse cx="533.8" cy="454.9" rx="1.9" ry="1.1"/><ellipse cx="538.2" cy="454.9" rx="1.9" ry="1.1"/><ellipse cx="542.6" cy="454.9" rx="1.9" ry="1.1"/><ellipse cx="547.1" cy="454.9" rx="1.9" ry="1.1"/><ellipse cx="551.5" cy="454.9" rx="1.9" ry="1.1"/><ellipse cx="555.9" cy="454.9" rx="1.9" ry="1.1"/><ellipse cx="560.3" cy="454.9" rx="1.9" ry="1.1"/><ellipse cx="564.7" cy="454.9" rx="1.9" ry="1.1"/><ellipse cx="569.1" cy="454.9" rx="1.9" ry="1.1"/><ellipse cx="573.5" cy="454.9" rx="1.9" ry="1.1"/><ellipse cx="577.9" cy="454.9" rx="1.9" ry="1.1"/><ellipse cx="582.3" cy="454.9" rx="1.9" ry="1.1"/><ellipse cx="586.7" cy="454.9" rx="1.9" ry="1.1"/><ellipse cx="591.1" cy="454.9" rx="1.9" ry="1.1"/><ellipse cx="595.5" cy="454.9" rx="1.9" ry="1.1"/><ellipse cx="599.9" cy="454.9" rx="1.9" ry="1.1"/><ellipse cx="604.3" cy="454.9" rx="1.9" ry="1.1"/><ellipse cx="329.1" cy="452.5" rx="1.7" ry="1"/><ellipse cx="333.1" cy="452.5" rx="1.7" ry="1"/><ellipse cx="337.1" cy="452.5" rx="1.7" ry="1"/><ellipse cx="341.2" cy="452.5" rx="1.7" ry="1"/><ellipse cx="345.2" cy="452.5" rx="1.7" ry="1"/><ellipse cx="349.2" cy="452.5" rx="1.7" ry="1"/><ellipse cx="353.2" cy="452.5" rx="1.7" ry="1"/><ellipse cx="357.3" cy="452.5" rx="1.7" ry="1"/><ellipse cx="361.3" cy="452.5" rx="1.7" ry="1"/><ellipse cx="365.3" cy="452.5" rx="1.7" ry="1"/><ellipse cx="369.3" cy="452.5" rx="1.7" ry="1"/><ellipse cx="373.4" cy="452.5" rx="1.7" ry="1"/><ellipse cx="377.4" cy="452.5" rx="1.7" ry="1"/><ellipse cx="381.4" cy="452.5" rx="1.7" ry="1"/><ellipse cx="385.4" cy="452.5" rx="1.7" ry="1"/><ellipse cx="389.5" cy="452.5" rx="1.7" ry="1"/><ellipse cx="393.5" cy="452.5" rx="1.7" ry="1"/><ellipse cx="397.5" cy="452.5" rx="1.7" ry="1"/><ellipse cx="401.6" cy="452.5" rx="1.7" ry="1"/><ellipse cx="405.6" cy="452.5" rx="1.7" ry="1"/><ellipse cx="409.6" cy="452.5" rx="1.7" ry="1"/><ellipse cx="413.6" cy="452.5" rx="1.7" ry="1"/><ellipse cx="417.7" cy="452.5" rx="1.7" ry="1"/><ellipse cx="421.7" cy="452.5" rx="1.7" ry="1"/><ellipse cx="425.7" cy="452.5" rx="1.7" ry="1"/><ellipse cx="429.7" cy="452.5" rx="1.7" ry="1"/><ellipse cx="433.8" cy="452.5" rx="1.7" ry="1"/><ellipse cx="437.8" cy="452.5" rx="1.7" ry="1"/><ellipse cx="441.8" cy="452.5" rx="1.7" ry="1"/><ellipse cx="445.8" cy="452.5" rx="1.7" ry="1"/><ellipse cx="449.9" cy="452.5" rx="1.7" ry="1"/><ellipse cx="453.9" cy="452.5" rx="1.7" ry="1"/><ellipse cx="457.9" cy="452.5" rx="1.7" ry="1"/><ellipse cx="461.9" cy="452.5" rx="1.7" ry="1"/><ellipse cx="466" cy="452.5" rx="1.7" ry="1"/><ellipse cx="470" cy="452.5" rx="1.7" ry="1"/><ellipse cx="474" cy="452.5" rx="1.7" ry="1"/><ellipse cx="478.1" cy="452.5" rx="1.7" ry="1"/><ellipse cx="482.1" cy="452.5" rx="1.7" ry="1"/><ellipse cx="486.1" cy="452.5" rx="1.7" ry="1"/><ellipse cx="490.1" cy="452.5" rx="1.7" ry="1"/><ellipse cx="494.2" cy="452.5" rx="1.7" ry="1"/><ellipse cx="498.2" cy="452.5" rx="1.7" ry="1"/><ellipse cx="502.2" cy="452.5" rx="1.7" ry="1"/><ellipse cx="506.2" cy="452.5" rx="1.7" ry="1"/><ellipse cx="510.3" cy="452.5" rx="1.7" ry="1"/><ellipse cx="514.3" cy="452.5" rx="1.7" ry="1"/><ellipse cx="518.3" cy="452.5" rx="1.7" ry="1"/><ellipse cx="522.3" cy="452.5" rx="1.7" ry="1"/><ellipse cx="526.4" cy="452.5" rx="1.7" ry="1"/><ellipse cx="530.4" cy="452.5" rx="1.7" ry="1"/><ellipse cx="534.4" cy="452.5" rx="1.7" ry="1"/><ellipse cx="538.4" cy="452.5" rx="1.7" ry="1"/><ellipse cx="542.5" cy="452.5" rx="1.7" ry="1"/><ellipse cx="546.5" cy="452.5" rx="1.7" ry="1"/><ellipse cx="550.5" cy="452.5" rx="1.7" ry="1"/><ellipse cx="554.6" cy="452.5" rx="1.7" ry="1"/><ellipse cx="558.6" cy="452.5" rx="1.7" ry="1"/><ellipse cx="562.6" cy="452.5" rx="1.7" ry="1"/><ellipse cx="566.6" cy="452.5" rx="1.7" ry="1"/><ellipse cx="570.7" cy="452.5" rx="1.7" ry="1"/><ellipse cx="574.7" cy="452.5" rx="1.7" ry="1"/><ellipse cx="578.7" cy="452.5" rx="1.7" ry="1"/><ellipse cx="582.7" cy="452.5" rx="1.7" ry="1"/><ellipse cx="586.8" cy="452.5" rx="1.7" ry="1"/><ellipse cx="590.8" cy="452.5" rx="1.7" ry="1"/><ellipse cx="594.8" cy="452.5" rx="1.7" ry="1"/><ellipse cx="598.8" cy="452.5" rx="1.7" ry="1"/><ellipse cx="602.9" cy="452.5" rx="1.7" ry="1"/><ellipse cx="606.9" cy="452.5" rx="1.7" ry="1"/><ellipse cx="328.4" cy="450.4" rx="1.6" ry="0.9"/><ellipse cx="332.1" cy="450.4" rx="1.6" ry="0.9"/><ellipse cx="335.8" cy="450.4" rx="1.6" ry="0.9"/><ellipse cx="339.4" cy="450.4" rx="1.6" ry="0.9"/><ellipse cx="343.1" cy="450.4" rx="1.6" ry="0.9"/><ellipse cx="346.8" cy="450.4" rx="1.6" ry="0.9"/><ellipse cx="350.5" cy="450.4" rx="1.6" ry="0.9"/><ellipse cx="354.1" cy="450.4" rx="1.6" ry="0.9"/><ellipse cx="357.8" cy="450.4" rx="1.6" ry="0.9"/><ellipse cx="361.5" cy="450.4" rx="1.6" ry="0.9"/><ellipse cx="365.2" cy="450.4" rx="1.6" ry="0.9"/><ellipse cx="368.9" cy="450.4" rx="1.6" ry="0.9"/><ellipse cx="372.5" cy="450.4" rx="1.6" ry="0.9"/><ellipse cx="376.2" cy="450.4" rx="1.6" ry="0.9"/><ellipse cx="379.9" cy="450.4" rx="1.6" ry="0.9"/><ellipse cx="383.6" cy="450.4" rx="1.6" ry="0.9"/><ellipse cx="387.2" cy="450.4" rx="1.6" ry="0.9"/><ellipse cx="390.9" cy="450.4" rx="1.6" ry="0.9"/><ellipse cx="394.6" cy="450.4" rx="1.6" ry="0.9"/><ellipse cx="398.3" cy="450.4" rx="1.6" ry="0.9"/><ellipse cx="402" cy="450.4" rx="1.6" ry="0.9"/><ellipse cx="405.6" cy="450.4" rx="1.6" ry="0.9"/><ellipse cx="409.3" cy="450.4" rx="1.6" ry="0.9"/><ellipse cx="413" cy="450.4" rx="1.6" ry="0.9"/><ellipse cx="416.7" cy="450.4" rx="1.6" ry="0.9"/><ellipse cx="420.3" cy="450.4" rx="1.6" ry="0.9"/><ellipse cx="424" cy="450.4" rx="1.6" ry="0.9"/><ellipse cx="427.7" cy="450.4" rx="1.6" ry="0.9"/><ellipse cx="431.4" cy="450.4" rx="1.6" ry="0.9"/><ellipse cx="435.1" cy="450.4" rx="1.6" ry="0.9"/><ellipse cx="438.7" cy="450.4" rx="1.6" ry="0.9"/><ellipse cx="442.4" cy="450.4" rx="1.6" ry="0.9"/><ellipse cx="446.1" cy="450.4" rx="1.6" ry="0.9"/><ellipse cx="449.8" cy="450.4" rx="1.6" ry="0.9"/><ellipse cx="453.4" cy="450.4" rx="1.6" ry="0.9"/><ellipse cx="457.1" cy="450.4" rx="1.6" ry="0.9"/><ellipse cx="460.8" cy="450.4" rx="1.6" ry="0.9"/><ellipse cx="464.5" cy="450.4" rx="1.6" ry="0.9"/><ellipse cx="468.2" cy="450.4" rx="1.6" ry="0.9"/><ellipse cx="471.8" cy="450.4" rx="1.6" ry="0.9"/><ellipse cx="475.5" cy="450.4" rx="1.6" ry="0.9"/><ellipse cx="479.2" cy="450.4" rx="1.6" ry="0.9"/><ellipse cx="482.9" cy="450.4" rx="1.6" ry="0.9"/><ellipse cx="486.6" cy="450.4" rx="1.6" ry="0.9"/><ellipse cx="490.2" cy="450.4" rx="1.6" ry="0.9"/><ellipse cx="493.9" cy="450.4" rx="1.6" ry="0.9"/><ellipse cx="497.6" cy="450.4" rx="1.6" ry="0.9"/><ellipse cx="501.3" cy="450.4" rx="1.6" ry="0.9"/><ellipse cx="504.9" cy="450.4" rx="1.6" ry="0.9"/><ellipse cx="508.6" cy="450.4" rx="1.6" ry="0.9"/><ellipse cx="512.3" cy="450.4" rx="1.6" ry="0.9"/><ellipse cx="516" cy="450.4" rx="1.6" ry="0.9"/><ellipse cx="519.7" cy="450.4" rx="1.6" ry="0.9"/><ellipse cx="523.3" cy="450.4" rx="1.6" ry="0.9"/><ellipse cx="527" cy="450.4" rx="1.6" ry="0.9"/><ellipse cx="530.7" cy="450.4" rx="1.6" ry="0.9"/><ellipse cx="534.4" cy="450.4" rx="1.6" ry="0.9"/><ellipse cx="538" cy="450.4" rx="1.6" ry="0.9"/><ellipse cx="541.7" cy="450.4" rx="1.6" ry="0.9"/><ellipse cx="545.4" cy="450.4" rx="1.6" ry="0.9"/><ellipse cx="549.1" cy="450.4" rx="1.6" ry="0.9"/><ellipse cx="552.8" cy="450.4" rx="1.6" ry="0.9"/><ellipse cx="556.4" cy="450.4" rx="1.6" ry="0.9"/><ellipse cx="560.1" cy="450.4" rx="1.6" ry="0.9"/><ellipse cx="563.8" cy="450.4" rx="1.6" ry="0.9"/><ellipse cx="567.5" cy="450.4" rx="1.6" ry="0.9"/><ellipse cx="571.1" cy="450.4" rx="1.6" ry="0.9"/><ellipse cx="574.8" cy="450.4" rx="1.6" ry="0.9"/><ellipse cx="578.5" cy="450.4" rx="1.6" ry="0.9"/><ellipse cx="582.2" cy="450.4" rx="1.6" ry="0.9"/><ellipse cx="585.9" cy="450.4" rx="1.6" ry="0.9"/><ellipse cx="589.5" cy="450.4" rx="1.6" ry="0.9"/><ellipse cx="593.2" cy="450.4" rx="1.6" ry="0.9"/><ellipse cx="596.9" cy="450.4" rx="1.6" ry="0.9"/><ellipse cx="600.6" cy="450.4" rx="1.6" ry="0.9"/><ellipse cx="604.2" cy="450.4" rx="1.6" ry="0.9"/></g>
</g>
<g filter="url(#blur1)"><path d="M367.5 436.5L403.5 436.5L411.5 463.5L367.5 463.5Z" fill="#4b585f"/><path d="M368.5 437.5L374.5 462.5M373.8 437.5L379.8 462.5M379.1 437.5L385.1 462.5M384.4 437.5L390.4 462.5M389.7 437.5L395.7 462.5M395 437.5L401 462.5M400.3 437.5L406.3 462.5" stroke="#e4ecef" stroke-width="2.1" fill="none" opacity="0.75"/><path d="M475.3 442.5Q491.4 430.5 527.5 444.5L539.5 453.5Q495.4 449.5 483.3 462.5Z" fill="#33414e" opacity="0.92"/><path d="M514.2 447.5Q544.2 439.5 566.2 437.5M516.7 452.1Q544.2 443.8 566.2 441.9M519.2 456.7Q544.2 448.1 566.2 446.3M521.7 461.3Q544.2 452.4 566.2 450.7M524.2 465.9Q544.2 456.7 566.2 455.1M526.7 470.5Q544.2 461 566.2 459.5M529.2 475.1Q544.2 465.3 566.2 463.9M531.7 479.7Q544.2 469.6 566.2 468.3M534.2 484.3Q544.2 473.9 566.2 472.7M536.7 488.9Q544.2 478.2 566.2 477.1" stroke="#dfe7ea" stroke-width="1.3" fill="none" opacity="0.9"/><ellipse cx="450.3" cy="479.5" rx="38" ry="8" fill="#1c2634" opacity="0.5"/></g>
<g filter="url(#blur1)">
<circle cx="445.3" cy="445.2" r="41" fill="#c9d3d8" opacity="0.5"/>
<path d="M404.3 446.2 A41 41 0 0 0 486.3 446.2 Z" fill="#2f3a41" opacity="0.62"/>
<path d="M475.1 417.4L472 414.7M479.3 423.3L476.6 420.3M482.8 430L480.6 426.9M485.1 436.8L483.7 433.9M465 409.8L461.2 407.8M472 414.7L469.9 414.5M469.9 414.5L466.2 411.9M475.1 417.4L476.6 420.3M476.6 420.3L474.7 420.6M474.7 420.6L471.1 417.6M479.3 423.3L480.6 426.9M480.6 426.9L478.8 427.7M478.8 427.7L475.6 424.5M482.8 430L483.7 433.9M483.7 433.9L482.2 435.3M482.2 435.3L479.6 432.2M485.1 436.8L485.6 441M485.6 441L484.5 442.7M484.5 442.7L482.6 440M485.5 449.6L484.4 447.4M461.2 407.8L458.2 407.6M458.2 407.6L454.2 406M465 409.8L466.2 411.9M466.2 411.9L463 412.1M463 412.1L458.8 409.8M469.9 414.5L471.1 417.6M471.1 417.6L468 418.3M468 418.3L463.7 415.4M474.7 420.6L475.6 424.5M475.6 424.5L472.7 425.7M472.7 425.7L468.6 422.5M478.8 427.7L479.6 432.2M479.6 432.2L476.8 433.8M476.8 433.8L473.2 430.6M482.2 435.3L482.6 440M482.6 440L480.1 442M480.1 442L477.1 439M484.5 442.7L484.4 447.4M484.4 447.4L482.4 449.7M482.4 449.7L480 447.1M485.5 449.6L484.9 453.8M484.9 453.8L483.3 456.4M483.3 456.4L481.8 454.5M482.8 461.6L482.2 460.6M454.2 406L450.5 406.3M450.5 406.3L446.6 405.2M458.2 407.6L458.8 409.8M458.8 409.8L455 410.5M455 410.5L450.6 408.6M463 412.1L463.7 415.4M463.7 415.4L459.8 416.6M459.8 416.6L455.2 413.9M468 418.3L468.6 422.5M468.6 422.5L464.7 424.1M464.7 424.1L460.1 421M472.7 425.7L473.2 430.6M473.2 430.6L469.3 432.5M469.3 432.5L464.9 429.2M476.8 433.8L477.1 439M477.1 439L473.5 441.2M473.5 441.2L469.4 438M480.1 442L480 447.1M480 447.1L476.7 449.7M476.7 449.7L473.3 446.8M482.4 449.7L481.8 454.5M481.8 454.5L478.9 457.2M478.9 457.2L476.2 454.9M483.3 456.4L482.2 460.6M482.2 460.6L479.8 463.4M479.8 463.4L478 461.9M479.3 467.8L478.4 467.3M446.7 404.3L446.6 405.2M446.6 405.2L442.5 406M442.5 406L439 405.5M450.5 406.3L450.6 408.6M450.6 408.6L446.3 409.7M446.3 409.7L442.1 408.2M455 410.5L455.2 413.9M455.2 413.9L450.6 415.5M450.6 415.5L446 413.2M459.8 416.6L460.1 421M460.1 421L455.4 422.9M455.4 422.9L450.5 420M464.7 424.1L464.9 429.2M464.9 429.2L460.3 431.4M460.3 431.4L455.3 428.1M469.3 432.5L469.4 438M469.4 438L464.9 440.5M464.9 440.5L460.2 437.1M473.5 441.2L473.3 446.8M473.3 446.8L469 449.4M469 449.4L464.6 446.3M476.7 449.7L476.2 454.9M476.2 454.9L472.2 457.7M472.2 457.7L468.5 455.1M478.9 457.2L478 461.9M478 461.9L474.4 464.8M474.4 464.8L471.4 462.9M479.8 463.4L478.4 467.3M478.4 467.3L475.4 470.1M475.4 470.1L473.2 469.1M439 405.5L434.9 406.7M434.9 406.7L432 406.7M442.5 406L442.1 408.2M442.1 408.2L437.6 409.8M437.6 409.8L433.9 408.8M446.3 409.7L446 413.2M446 413.2L441.2 415M441.2 415L436.9 413.1M450.6 415.5L450.5 420M450.5 420L445.5 422.1M445.5 422.1L440.7 419.5M455.4 422.9L455.3 428.1M455.3 428.1L450.2 430.6M450.2 430.6L445.2 427.4M460.3 431.4L460.2 437.1M460.2 437.1L455 439.7M455 439.7L449.9 436.4M464.9 440.5L464.6 446.3M464.6 446.3L459.6 449.1M459.6 449.1L454.7 445.8M469 449.4L468.5 455.1M468.5 455.1L463.7 457.9M463.7 457.9L459.2 455M472.2 457.7L471.4 462.9M471.4 462.9L467 465.7M467 465.7L463.1 463.4M474.4 464.8L473.2 469.1M473.2 469.1L469.3 471.9M469.3 471.9L466.1 470.4M475.4 470.1L473.7 473.4M473.7 473.4L470.3 476M470.3 476L467.9 475.5M432 406.7L428.1 408.3M434.9 406.7L433.9 408.8M433.9 408.8L429.5 410.7M429.5 410.7L426.7 410.2M437.6 409.8L436.9 413.1M436.9 413.1L432.1 415.3M432.1 415.3L428.4 413.9M441.2 415L440.7 419.5M440.7 419.5L435.6 421.9M435.6 421.9L431.3 419.6M445.5 422.1L445.2 427.4M445.2 427.4L439.8 430M439.8 430L435 427.1M450.2 430.6L449.9 436.4M449.9 436.4L444.5 439.1M444.5 439.1L439.4 435.9M455 439.7L454.7 445.8M454.7 445.8L449.3 448.6M449.3 448.6L444.2 445.3M459.6 449.1L459.2 455M459.2 455L454 457.8M454 457.8L449 454.6M463.7 457.9L463.1 463.4M463.1 463.4L458.1 466.1M458.1 466.1L453.5 463.4M467 465.7L466.1 470.4M466.1 470.4L461.4 473M461.4 473L457.4 471M469.3 471.9L467.9 475.5M467.9 475.5L463.8 477.9M463.8 477.9L460.5 476.9M470.3 476L468.6 478.5M468.6 478.5L464.9 480.6M464.9 480.6L462.5 480.6M428.1 408.3L426.7 410.2M426.7 410.2L422.7 412.5M422.7 412.5L420.9 412.6M429.5 410.7L428.4 413.9M428.4 413.9L424 416.3M424 416.3L421.2 415.4M432.1 415.3L431.3 419.6M431.3 419.6L426.4 422.3M426.4 422.3L422.8 420.4M435.6 421.9L435 427.1M435 427.1L429.9 429.9M429.9 429.9L425.6 427.3M439.8 430L439.4 435.9M439.4 435.9L434.1 438.7M434.1 438.7L429.3 435.6M444.5 439.1L444.2 445.3M444.2 445.3L438.7 448M438.7 448L433.7 444.7M449.3 448.6L449 454.6M449 454.6L443.6 457.3M443.6 457.3L438.5 454.1M454 457.8L453.5 463.4M453.5 463.4L448.2 466M448.2 466L443.3 463.1M458.1 466.1L457.4 471M457.4 471L452.4 473.4M452.4 473.4L447.8 471M461.4 473L460.5 476.9M460.5 476.9L455.8 479M455.8 479L451.8 477.5M463.8 477.9L462.5 480.6M462.5 480.6L458.3 482.5M458.3 482.5L455 481.9M420.9 412.6L417.7 415.1M422.7 412.5L421.2 415.4M421.2 415.4L417.5 418.1M417.5 418.1L415.8 417.6M424 416.3L422.8 420.4M422.8 420.4L418.6 423.2M418.6 423.2L416.1 421.8M426.4 422.3L425.6 427.3M425.6 427.3L421 430.1M421 430.1L417.6 427.9M429.9 429.9L429.3 435.6M429.3 435.6L424.4 438.4M424.4 438.4L420.3 435.5M434.1 438.7L433.7 444.7M433.7 444.7L428.6 447.4M428.6 447.4L424 444.2M438.7 448L438.5 454.1M438.5 454.1L433.2 456.6M433.2 456.6L428.4 453.3M443.6 457.3L443.3 463.1M443.3 463.1L438.1 465.4M438.1 465.4L433.2 462.3M448.2 466L447.8 471M447.8 471L442.8 473.1M442.8 473.1L438 470.5M452.4 473.4L451.8 477.5M451.8 477.5L447.1 479.3M447.1 479.3L442.6 477.3M455.8 479L455 481.9M455 481.9L450.6 483.4M450.6 483.4L446.7 482.3M458.3 482.5L457.2 484.1M457.2 484.1L453.2 485.2M453.2 485.2L450 485.1M417.7 415.1L415.8 417.6M415.8 417.6L413 420.4M417.5 418.1L416.1 421.8M416.1 421.8L412.7 424.6M412.7 424.6L411.3 423.7M418.6 423.2L417.6 427.9M417.6 427.9L413.8 430.7M413.8 430.7L411.5 428.9M421 430.1L420.3 435.5M420.3 435.5L416.1 438.3M416.1 438.3L413 435.7M424.4 438.4L424 444.2M424 444.2L419.5 446.8M419.5 446.8L415.7 443.7M428.6 447.4L428.4 453.3M428.4 453.3L423.7 455.7M423.7 455.7L419.4 452.4M433.2 456.6L433.2 462.3M433.2 462.3L428.4 464.4M428.4 464.4L423.8 461.1M438.1 465.4L438 470.5M438 470.5L433.3 472.2M433.3 472.2L428.7 469.3M442.8 473.1L442.6 477.3M442.6 477.3L438.1 478.7M438.1 478.7L433.6 476.3M447.1 479.3L446.7 482.3M446.7 482.3L442.4 483.4M442.4 483.4L438.2 481.8M450.6 483.4L450 485.1M450 485.1L446.1 485.8M446.1 485.8L442.4 485.1M413 420.4L411.3 423.7M411.3 423.7L409.1 426.5M412.7 424.6L411.5 428.9M411.5 428.9L408.8 431.7M408.8 431.7L407.8 430.3M413.8 430.7L413 435.7M413 435.7L409.9 438.4M409.9 438.4L407.9 436.2M416.1 438.3L415.7 443.7M415.7 443.7L412.2 446.2M412.2 446.2L409.4 443.4M419.5 446.8L419.4 452.4M419.4 452.4L415.6 454.6M415.6 454.6L412.2 451.4M423.7 455.7L423.8 461.1M423.8 461.1L419.9 463M419.9 463L415.9 459.7M428.4 464.4L428.7 469.3M428.7 469.3L424.6 470.7M424.6 470.7L420.4 467.6M433.3 472.2L433.6 476.3M433.6 476.3L429.5 477.4M429.5 477.4L425.2 474.7M438.1 478.7L438.2 481.8M438.2 481.8L434.3 482.3M434.3 482.3L430.2 480.3M442.4 483.4L442.4 485.1M442.4 485.1L438.7 485.3M438.7 485.3L434.9 484.1M409.1 426.5L407.8 430.3M408.8 431.7L407.9 436.2M407.9 436.2L406 438.7M406 438.7L405.3 436.9M409.9 438.4L409.4 443.4M409.4 443.4L407.1 445.7M407.1 445.7L405.6 443.2M412.2 446.2L412.2 451.4M412.2 451.4L409.5 453.3M409.5 453.3L407.2 450.4M415.6 454.6L415.9 459.7M415.9 459.7L413 461.2M413 461.2L410 458M419.9 463L420.4 467.6M420.4 467.6L417.3 468.7M417.3 468.7L413.8 465.6M424.6 470.7L425.2 474.7M425.2 474.7L422 475.3M422 475.3L418.3 472.4M429.5 477.4L430.2 480.3M430.2 480.3L427 480.4M427 480.4L423.1 478.1M434.3 482.3L434.9 484.1M434.9 484.1L431.8 483.8M431.8 483.8L428.1 482.1M406 438.7L405.6 443.2M405.6 443.2L404.6 445.2M407.1 445.7L407.2 450.4M407.2 450.4L405.8 452M405.8 452L404.7 449.4M409.5 453.3L410 458M410 458L408.3 459.2M408.3 459.2L406.4 456.2M413 461.2L413.8 465.6M413.8 465.6L411.8 466.3M411.8 466.3L409.3 463.1M417.3 468.7L418.3 472.4M418.3 472.4L416.1 472.6M416.1 472.6L413.1 469.6M422 475.3L423.1 478.1M423.1 478.1L420.9 477.8M420.9 477.8L417.6 475.1M427 480.4L428.1 482.1M404.6 445.2L404.7 449.4M405.8 452L406.4 456.2M408.3 459.2L409.3 463.1M411.8 466.3L413.1 469.6M416.1 472.6L417.6 475.1" stroke="#46535a" stroke-width="1.4" fill="none" opacity="0.85" stroke-linecap="round"/>
<path d="M437.7 405.1L433.3 406.2M445.5 404.8L440.9 405.4M453.7 405.9L449.3 406M461.6 408.2L457.8 407.8M468.5 411.6L465.6 410.6M433.3 406.2L431.4 408M431.4 408L426.8 409.8M437.7 405.1L440.9 405.4M440.9 405.4L439.5 407.5M439.5 407.5L434.4 408.9M445.5 404.8L449.3 406M449.3 406L448.5 408.3M448.5 408.3L443.3 409.2M453.7 405.9L457.8 407.8M457.8 407.8L457.7 410.2M457.7 410.2L452.8 410.6M461.6 408.2L465.6 410.6M465.6 410.6L466.2 413.1M466.2 413.1L462.1 413.1M468.5 411.6L472.1 414.4M472.1 414.4L473.2 416.7M473.2 416.7L470.2 416.4M418.8 414.5L415.6 417.1M425 409.7L426.8 409.8M426.8 409.8L424.7 412.8M424.7 412.8L420.3 415.1M431.4 408L434.4 408.9M434.4 408.9L432.6 412.2M432.6 412.2L427.5 414.3M439.5 407.5L443.3 409.2M443.3 409.2L442 412.8M442 412.8L436.4 414.5M448.5 408.3L452.8 410.6M452.8 410.6L452.1 414.5M452.1 414.5L446.5 415.7M457.7 410.2L462.1 413.1M462.1 413.1L461.9 417M461.9 417L456.7 417.9M466.2 413.1L470.2 416.4M470.2 416.4L470.6 420.1M470.6 420.1L466.4 420.7M473.2 416.7L476.6 420.2M476.6 420.2L477.5 423.8M477.5 423.8L474.5 424M482 427.6L480.5 427.6M415.6 417.1L413.3 420.4M418.8 414.5L420.3 415.1M420.3 415.1L418.1 419M418.1 419L414.3 421.6M424.7 412.8L427.5 414.3M427.5 414.3L425.5 418.6M425.5 418.6L420.6 421M432.6 412.2L436.4 414.5M436.4 414.5L434.8 419.2M434.8 419.2L429.1 421.4M442 412.8L446.5 415.7M446.5 415.7L445.3 420.7M445.3 420.7L439.2 422.6M452.1 414.5L456.7 417.9M456.7 417.9L456 422.9M456 422.9L450.1 424.5M461.9 417L466.4 420.7M466.4 420.7L466 425.7M466 425.7L460.8 427M470.6 420.1L474.5 424M474.5 424L474.6 428.8M474.6 428.8L470.4 429.8M477.5 423.8L480.5 427.6M480.5 427.6L481.1 432M481.1 432L478.2 432.9M484.7 435.2L483.5 435.9M413.3 420.4L414.3 421.6M414.3 421.6L412.4 426.1M412.4 426.1L409.3 428.7M418.1 419L420.6 421M420.6 421L418.7 426.1M418.7 426.1L414.3 428.6M425.5 418.6L429.1 421.4M429.1 421.4L427.4 426.9M427.4 426.9L422 429.2M434.8 419.2L439.2 422.6M439.2 422.6L437.8 428.4M437.8 428.4L431.7 430.5M445.3 420.7L450.1 424.5M450.1 424.5L448.9 430.4M448.9 430.4L442.6 432.4M456 422.9L460.8 427M460.8 427L459.9 432.9M459.9 432.9L453.9 434.7M466 425.7L470.4 429.8M470.4 429.8L469.8 435.5M469.8 435.5L464.6 437.2M474.6 428.8L478.2 432.9M478.2 432.9L477.9 438.2M477.9 438.2L473.8 439.8M481.1 432L483.5 435.9M483.5 435.9L483.5 440.7M483.5 440.7L480.9 442.2M486.1 442.9L485.1 444.2M408.8 427L409.3 428.7M409.3 428.7L407.8 433.5M407.8 433.5L405.9 435.8M412.4 426.1L414.3 428.6M414.3 428.6L412.8 433.9M412.8 433.9L409.3 436.2M418.7 426.1L422 429.2M422 429.2L420.5 435.1M420.5 435.1L415.7 437.3M427.4 426.9L431.7 430.5M431.7 430.5L430.2 436.8M430.2 436.8L424.5 439M437.8 428.4L442.6 432.4M442.6 432.4L441.3 438.9M441.3 438.9L434.9 441M448.9 430.4L453.9 434.7M453.9 434.7L452.7 441.2M452.7 441.2L446.3 443.3M459.9 432.9L464.6 437.2M464.6 437.2L463.5 443.5M463.5 443.5L457.6 445.6M469.8 435.5L473.8 439.8M473.8 439.8L473 445.8M473 445.8L467.9 447.8M477.9 438.2L480.9 442.2M480.9 442.2L480.2 447.7M480.2 447.7L476.4 449.7M483.5 440.7L485.1 444.2M485.1 444.2L484.7 449.1M484.7 449.1L482.4 451.1M405.9 435.8L405.1 440.4M407.8 433.5L409.3 436.2M409.3 436.2L408.3 441.5M408.3 441.5L406 443.4M412.8 433.9L415.7 437.3M415.7 437.3L414.5 443.2M414.5 443.2L410.7 445.1M420.5 435.1L424.5 439M424.5 439L423.2 445.3M423.2 445.3L418.1 447.2M430.2 436.8L434.9 441M434.9 441L433.6 447.6M433.6 447.6L427.7 449.6M441.3 438.9L446.3 443.3M446.3 443.3L445 449.9M445 449.9L438.6 452M452.7 441.2L457.6 445.6M457.6 445.6L456.2 452.1M456.2 452.1L450 454.3M463.5 443.5L467.9 447.8M467.9 447.8L466.6 454M466.6 454L460.9 456.3M473 445.8L476.4 449.7M476.4 449.7L475.2 455.5M475.2 455.5L470.4 457.8M480.2 447.7L482.4 451.1M482.4 451.1L481.3 456.3M481.3 456.3L477.9 458.7M484.7 449.1L485.4 451.9M485.4 451.9L484.4 456.4M484.4 456.4L482.6 458.8M405.1 440.4L406 443.4M406 443.4L405.7 448.3M405.7 448.3L404.7 449.5M408.3 441.5L410.7 445.1M410.7 445.1L410.1 450.6M410.1 450.6L407.5 451.9M414.5 443.2L418.1 447.2M418.1 447.2L417.3 453.2M417.3 453.2L413.2 454.6M423.2 445.3L427.7 449.6M427.7 449.6L426.7 455.8M426.7 455.8L421.4 457.4M433.6 447.6L438.6 452M438.6 452L437.4 458.4M437.4 458.4L431.4 460.2M445 449.9L450 454.3M450 454.3L448.6 460.6M448.6 460.6L442.4 462.6M456.2 452.1L460.9 456.3M460.9 456.3L459.4 462.4M459.4 462.4L453.4 464.6M466.6 454L470.4 457.8M470.4 457.8L468.8 463.5M468.8 463.5L463.5 465.9M475.2 455.5L477.9 458.7M477.9 458.7L476.2 463.9M476.2 463.9L471.9 466.4M481.3 456.3L482.6 458.8M482.6 458.8L480.9 463.4M480.9 463.4L478 466M405.7 448.3L407.5 451.9M407.5 451.9L407.7 456.7M407.7 456.7L406.4 457.2M410.1 450.6L413.2 454.6M413.2 454.6L413.1 459.8M413.1 459.8L410.2 460.5M417.3 453.2L421.4 457.4M421.4 457.4L421 463M421 463L416.7 463.9M426.7 455.8L431.4 460.2M431.4 460.2L430.6 465.9M430.6 465.9L425.4 467.1M437.4 458.4L442.4 462.6M442.4 462.6L441.2 468.3M441.2 468.3L435.4 469.8M448.6 460.6L453.4 464.6M453.4 464.6L451.9 470.1M451.9 470.1L445.9 471.9M459.4 462.4L463.5 465.9M463.5 465.9L461.8 471.1M461.8 471.1L456.2 473.2M468.8 463.5L471.9 466.4M471.9 466.4L470 471.2M470 471.2L465.2 473.6M476.2 463.9L478 466M478 466L476 470.3M476 470.3L472.2 472.9M407.7 456.7L410.2 460.5M410.2 460.5L410.9 464.7M410.9 464.7L409.4 464.6M413.1 459.8L416.7 463.9M416.7 463.9L416.9 468.4M416.9 468.4L414 468.5M421 463L425.4 467.1M425.4 467.1L425.1 471.8M425.1 471.8L420.9 472.2M430.6 465.9L435.4 469.8M435.4 469.8L434.6 474.6M434.6 474.6L429.6 475.4M441.2 468.3L445.9 471.9M445.9 471.9L444.7 476.6M444.7 476.6L439.2 477.8M451.9 470.1L456.2 473.2M456.2 473.2L454.5 477.6M454.5 477.6L449 479.2M461.8 471.1L465.2 473.6M465.2 473.6L463.2 477.6M463.2 477.6L458.1 479.6M470 471.2L472.2 472.9M472.2 472.9L470 476.4M470 476.4L465.8 478.8M476 470.3L476.8 471.2M410.9 464.7L414 468.5M414 468.5L415 471.8M416.9 468.4L420.9 472.2M420.9 472.2L421.3 475.6M421.3 475.6L418.4 475.1M425.1 471.8L429.6 475.4M429.6 475.4L429.4 478.9M429.4 478.9L425.4 478.7M434.6 474.6L439.2 477.8M439.2 477.8L438.5 481.2M438.5 481.2L433.8 481.5M444.7 476.6L449 479.2M449 479.2L447.7 482.5M447.7 482.5L442.7 483.3M454.5 477.6L458.1 479.6M458.1 479.6L456.3 482.5M456.3 482.5L451.4 483.8M463.2 477.6L465.8 478.8M465.8 478.8L463.6 481.3M463.6 481.3L459.2 483.1M470 476.4L471.3 476.8M415 471.8L418.4 475.1M421.3 475.6L425.4 478.7M425.4 478.7L426 480.8M429.4 478.9L433.8 481.5M433.8 481.5L433.7 483.6M433.7 483.6L429.9 482.9M438.5 481.2L442.7 483.3M442.7 483.3L441.9 485.2M441.9 485.2L437.6 485.1M447.7 482.5L451.4 483.8M451.4 483.8L450 485.5M450 485.5L445.6 486M456.3 482.5L459.2 483.1M426 480.8L429.9 482.9M433.7 483.6L437.6 485.1M441.9 485.2L445.6 486" stroke="#1c262b" stroke-width="1.8" fill="none" opacity="0.95" stroke-linecap="round"/>
<circle cx="445.3" cy="445.2" r="40.4" fill="none" stroke="#2a3338" stroke-width="2.2"/>
<ellipse cx="461" cy="450" rx="11" ry="15" fill="#5a52d8" opacity="0.5"/>
<ellipse cx="453" cy="453" rx="3.4" ry="7" fill="#a040e8" opacity="0.75"/>
<circle cx="525.5" cy="433" r="16" fill="#b9c4c9" opacity="0.85"/>
<path d="M526 417.1L523.8 417.2M529.5 418L527.3 417.7M533.2 419.7L531.1 419.1M536.5 421.9L534.8 421.2M539 424.5L537.9 423.7M523.8 417.2L522.5 417.9M522.5 417.9L520.3 418.3M526 417.1L527.3 417.7M527.3 417.7L526.2 418.7M526.2 418.7L523.6 418.8M529.5 418L531.1 419.1M531.1 419.1L530.3 420.3M530.3 420.3L527.6 420.1M533.2 419.7L534.8 421.2M534.8 421.2L534.3 422.6M534.3 422.6L531.9 422.2M536.5 421.9L537.9 423.7M537.9 423.7L537.8 425.2M537.8 425.2L535.9 424.7M539 424.5L540 426.4M540 426.4L540.2 427.8M540.2 427.8L539 427.4M520.3 418.3L518.8 419.5M518.8 419.5L516.7 420.2M522.5 417.9L523.6 418.8M523.6 418.8L522.2 420.3M522.2 420.3L519.6 420.7M526.2 418.7L527.6 420.1M527.6 420.1L526.4 421.9M526.4 421.9L523.5 422M530.3 420.3L531.9 422.2M531.9 422.2L530.9 424.2M530.9 424.2L528 424.1M534.3 422.6L535.9 424.7M535.9 424.7L535.1 426.8M535.1 426.8L532.5 426.6M537.8 425.2L539 427.4M539 427.4L538.5 429.4M538.5 429.4L536.5 429.3M540.2 427.8L541 429.9M541 429.9L540.8 431.8M540.8 431.8L539.6 431.7M516.7 420.2L515.2 421.8M515.2 421.8L513.7 422.7M518.8 419.5L519.6 420.7M519.6 420.7L518 422.6M518 422.6L515.7 423.1M522.2 420.3L523.5 422M523.5 422L522 424.3M522 424.3L519.1 424.5M526.4 421.9L528 424.1M528 424.1L526.6 426.5M526.6 426.5L523.5 426.6M530.9 424.2L532.5 426.6M532.5 426.6L531.3 429.1M531.3 429.1L528.2 429.1M535.1 426.8L536.5 429.3M536.5 429.3L535.5 431.7M535.5 431.7L532.8 431.7M538.5 429.4L539.6 431.7M539.6 431.7L538.8 434.1M538.8 434.1L536.7 434.2M540.8 431.8L541.2 433.8M541.2 433.8L540.7 435.9M540.7 435.9L539.5 436.2M513.7 422.7L512.4 424.5M515.2 421.8L515.7 423.1M515.7 423.1L514.3 425.4M514.3 425.4L512.5 425.9M518 422.6L519.1 424.5M519.1 424.5L517.6 427M517.6 427L515.1 427.3M522 424.3L523.5 426.6M523.5 426.6L521.9 429.3M521.9 429.3L518.9 429.4M526.6 426.5L528.2 429.1M528.2 429.1L526.7 431.8M526.7 431.8L523.5 431.9M531.3 429.1L532.8 431.7M532.8 431.7L531.4 434.5M531.4 434.5L528.4 434.6M535.5 431.7L536.7 434.2M536.7 434.2L535.5 436.8M535.5 436.8L532.9 437M538.8 434.1L539.5 436.2M539.5 436.2L538.4 438.6M538.4 438.6L536.5 439M540.7 435.9L540.7 437.6M540.7 437.6L539.9 439.6M539.9 439.6L538.8 440.3M512.4 424.5L512.5 425.9M512.5 425.9L511.4 428.1M511.4 428.1L510.4 428.6M514.3 425.4L515.1 427.3M515.1 427.3L513.8 429.8M513.8 429.8L511.9 430.1M517.6 427L518.9 429.4M518.9 429.4L517.5 432.1M517.5 432.1L514.9 432.2M521.9 429.3L523.5 431.9M523.5 431.9L522 434.7M522 434.7L519 434.7M526.7 431.8L528.4 434.6M528.4 434.6L526.8 437.3M526.8 437.3L523.7 437.4M531.4 434.5L532.9 437M532.9 437L531.4 439.6M531.4 439.6L528.4 439.8M535.5 436.8L536.5 439M536.5 439L535.1 441.4M535.1 441.4L532.6 441.8M538.4 438.6L538.8 440.3M538.8 440.3L537.5 442.3M537.5 442.3L535.8 443M510.4 428.6L509.8 430.7M511.4 428.1L511.9 430.1M511.9 430.1L511.1 432.4M511.1 432.4L510 432.5M513.8 429.8L514.9 432.2M514.9 432.2L513.8 434.7M513.8 434.7L511.9 434.7M517.5 432.1L519 434.7M519 434.7L517.7 437.3M517.7 437.3L515.2 437.2M522 434.7L523.7 437.4M523.7 437.4L522.3 440M522.3 440L519.3 439.9M526.8 437.3L528.4 439.8M528.4 439.8L526.9 442.3M526.9 442.3L523.9 442.3M531.4 439.6L532.6 441.8M532.6 441.8L531.1 444M531.1 444L528.3 444.3M535.1 441.4L535.8 443M535.8 443L534.3 444.9M534.3 444.9L532 445.5M537.5 442.3L537.6 443.3M509.8 430.7L510 432.5M510 432.5L509.7 434.5M511.1 432.4L511.9 434.7M511.9 434.7L511.4 436.8M511.4 436.8L510.3 436.5M513.8 434.7L515.2 437.2M515.2 437.2L514.3 439.4M514.3 439.4L512.5 439.1M517.7 437.3L519.3 439.9M519.3 439.9L518.2 442.1M518.2 442.1L515.8 441.7M522.3 440L523.9 442.3M523.9 442.3L522.6 444.4M522.6 444.4L519.9 444.2M526.9 442.3L528.3 444.3M528.3 444.3L526.9 446.1M526.9 446.1L524.2 446.2M531.1 444L532 445.5M532 445.5L530.5 447.1M530.5 447.1L528.1 447.4M534.3 444.9L534.7 445.8M534.7 445.8L533.1 447M533.1 447L531.2 447.7M509.7 434.5L510.3 436.5M510.3 436.5L510.4 438.2M511.4 436.8L512.5 439.1M512.5 439.1L512.3 440.8M512.3 440.8L511.3 440.1M514.3 439.4L515.8 441.7M515.8 441.7L515.3 443.4M515.3 443.4L513.6 442.7M518.2 442.1L519.9 444.2M519.9 444.2L519 445.7M519 445.7L516.8 445.2M522.6 444.4L524.2 446.2M524.2 446.2L523 447.5M523 447.5L520.6 447.2M526.9 446.1L528.1 447.4M528.1 447.4L526.8 448.4M526.8 448.4L524.4 448.5M530.5 447.1L531.2 447.7M510.4 438.2L511.3 440.1M512.3 440.8L513.6 442.7M513.6 442.7L513.7 443.7M515.3 443.4L516.8 445.2M516.8 445.2L516.6 446M519 445.7L520.6 447.2M520.6 447.2L520 447.8M523 447.5L524.4 448.5M526.8 448.4L527.8 448.8" stroke="#39444a" stroke-width="0.9" fill="none" opacity="0.9" stroke-linecap="round"/>
<path d="M537.2 422.3L535.7 420.8M539.1 425.4L537.7 423.6M540.5 429.2L539.3 427.3M541.1 433.2L540.4 431.5M541 436.8L540.8 435.5M535.7 420.8L534.3 420.3M534.3 420.3L532.4 419M537.2 422.3L537.7 423.6M537.7 423.6L536.2 423.5M536.2 423.5L534.4 421.7M539.1 425.4L539.3 427.3M539.3 427.3L537.9 427.6M537.9 427.6L536.2 425.6M540.5 429.2L540.4 431.5M540.4 431.5L539.1 432.1M539.1 432.1L537.7 430.1M541.1 433.2L540.8 435.5M540.8 435.5L539.7 436.4M539.7 436.4L538.6 434.7M541 436.8L540.4 438.8M540.4 438.8L539.5 439.9M539.5 439.9L538.9 438.8M532.4 419L530.5 418.8M530.5 418.8L528.6 417.8M534.3 420.3L534.4 421.7M534.4 421.7L532.3 421.8M532.3 421.8L530.2 420.1M536.2 423.5L536.2 425.6M536.2 425.6L534 425.9M534 425.9L532 423.9M537.9 427.6L537.7 430.1M537.7 430.1L535.6 430.7M535.6 430.7L533.6 428.6M539.1 432.1L538.6 434.7M538.6 434.7L536.6 435.5M536.6 435.5L535 433.6M539.7 436.4L538.9 438.8M538.9 438.8L537.2 439.9M537.2 439.9L535.9 438.3M539.5 439.9L538.5 441.9M538.5 441.9L537 443.1M537 443.1L536.2 442.2M528.6 417.8L526.3 417.9M526.3 417.9L524.7 417.3M530.5 418.8L530.2 420.1M530.2 420.1L527.7 420.4M527.7 420.4L525.8 419.1M532.3 421.8L532 423.9M532 423.9L529.3 424.4M529.3 424.4L527.1 422.5M534 425.9L533.6 428.6M533.6 428.6L530.9 429.2M530.9 429.2L528.7 427.1M535.6 430.7L535 433.6M535 433.6L532.3 434.4M532.3 434.4L530.2 432.2M536.6 435.5L535.9 438.3M535.9 438.3L533.4 439.3M533.4 439.3L531.5 437.4M537.2 439.9L536.2 442.2M536.2 442.2L534 443.3M534 443.3L532.5 441.9M537 443.1L535.9 444.8M535.9 444.8L534 445.9M534 445.9L532.9 445.3M524.7 417.3L522.4 417.7M526.3 417.9L525.8 419.1M525.8 419.1L523.2 419.6M523.2 419.6L521.5 418.7M527.7 420.4L527.1 422.5M527.1 422.5L524.3 423.2M524.3 423.2L522.3 421.6M529.3 424.4L528.7 427.1M528.7 427.1L525.7 427.8M525.7 427.8L523.5 425.8M530.9 429.2L530.2 432.2M530.2 432.2L527.2 433.1M527.2 433.1L524.9 430.8M532.3 434.4L531.5 437.4M531.5 437.4L528.6 438.3M528.6 438.3L526.4 436.1M533.4 439.3L532.5 441.9M532.5 441.9L529.7 442.8M529.7 442.8L527.7 441.1M534 443.3L532.9 445.3M532.9 445.3L530.5 446.2M530.5 446.2L528.8 445.1M534 445.9L532.8 447.1M532.8 447.1L530.8 447.9M530.8 447.9L529.6 447.6M522.4 417.7L521.5 418.7M521.5 418.7L519.2 419.5M519.2 419.5L518.1 419.1M523.2 419.6L522.3 421.6M522.3 421.6L519.6 422.4M519.6 422.4L518.1 421.2M524.3 423.2L523.5 425.8M523.5 425.8L520.6 426.6M520.6 426.6L518.7 424.9M525.7 427.8L524.9 430.8M524.9 430.8L521.8 431.7M521.8 431.7L519.7 429.5M527.2 433.1L526.4 436.1M526.4 436.1L523.3 437M523.3 437L521.1 434.8M528.6 438.3L527.7 441.1M527.7 441.1L524.8 441.8M524.8 441.8L522.6 439.8M529.7 442.8L528.8 445.1M528.8 445.1L526.2 445.7M526.2 445.7L524.1 444.2M530.5 446.2L529.6 447.6M529.6 447.6L527.2 448.1M527.2 448.1L525.5 447.3M518.1 419.1L516.2 420.1M519.2 419.5L518.1 421.2M518.1 421.2L515.9 422.3M515.9 422.3L515 421.6M519.6 422.4L518.7 424.9M518.7 424.9L516.1 425.8M516.1 425.8L514.8 424.4M520.6 426.6L519.7 429.5M519.7 429.5L517 430.4M517 430.4L515.3 428.5M521.8 431.7L521.1 434.8M521.1 434.8L518.2 435.5M518.2 435.5L516.3 433.4M523.3 437L522.6 439.8M522.6 439.8L519.8 440.5M519.8 440.5L517.7 438.4M524.8 441.8L524.1 444.2M524.1 444.2L521.5 444.7M521.5 444.7L519.3 442.9M526.2 445.7L525.5 447.3M525.5 447.3L523.1 447.6M523.1 447.6L521.1 446.4M527.2 448.1L526.5 448.9M516.2 420.1L515 421.6M515 421.6L513.4 422.7M515.9 422.3L514.8 424.4M514.8 424.4L512.9 425.5M512.9 425.5L512.4 424.6M516.1 425.8L515.3 428.5M515.3 428.5L513.1 429.5M513.1 429.5L512.1 427.9M517 430.4L516.3 433.4M516.3 433.4L513.9 434.1M513.9 434.1L512.5 432.1M518.2 435.5L517.7 438.4M517.7 438.4L515.3 438.9M515.3 438.9L513.5 436.8M519.8 440.5L519.3 442.9M519.3 442.9L517 443.1M517 443.1L515.1 441.2M521.5 444.7L521.1 446.4M521.1 446.4L518.9 446.4M518.9 446.4L517 444.9M523.1 447.6L522.7 448.5M522.7 448.5L520.8 448.2M520.8 448.2L519 447.3M513.4 422.7L512.4 424.6M512.4 424.6L511.3 425.8M512.9 425.5L512.1 427.9M512.1 427.9L510.7 428.9M510.7 428.9L510.5 427.7M513.1 429.5L512.5 432.1M512.5 432.1L510.9 432.9M510.9 432.9L510.2 431.2M513.9 434.1L513.5 436.8M513.5 436.8L511.9 437.2M511.9 437.2L510.7 435.3M515.3 438.9L515.1 441.2M515.1 441.2L513.4 441.3M513.4 441.3L511.9 439.4M517 443.1L517 444.9M517 444.9L515.3 444.7M515.3 444.7L513.7 443M518.9 446.4L519 447.3M511.3 425.8L510.5 427.7M510.7 428.9L510.2 431.2M510.2 431.2L509.6 432M510.9 432.9L510.7 435.3M510.7 435.3L509.9 435.7M511.9 437.2L511.9 439.4M511.9 439.4L511 439.4M513.4 441.3L513.7 443M515.3 444.7L515.7 445.6" stroke="#56626a" stroke-width="0.8" fill="none" opacity="0.8" stroke-linecap="round"/>
<circle cx="525.5" cy="433" r="15.6" fill="none" stroke="#39444a" stroke-width="1.2"/>
</g>
<clipPath id="cs3"><rect x="570.5" y="504.5" width="204" height="126"/></clipPath>
<g clip-path="url(#cs3)" filter="url(#blur1)">
<rect x="570.5" y="504.5" width="204" height="126" fill="#15191b"/>
<g transform="translate(672.5,567.5) skewY(-9.5) translate(-672.5,-567.5)" fill="#f8fbfc">
<ellipse cx="542.2" cy="479.4" rx="8.9" ry="5.9"/><ellipse cx="562.4" cy="479.4" rx="8.9" ry="5.9"/><ellipse cx="582.6" cy="479.4" rx="8.9" ry="5.9"/><ellipse cx="602.8" cy="479.4" rx="8.9" ry="5.9"/><ellipse cx="623" cy="479.4" rx="8.9" ry="5.9"/><ellipse cx="643.2" cy="479.4" rx="8.9" ry="5.9"/><ellipse cx="663.4" cy="479.4" rx="8.9" ry="5.9"/><ellipse cx="683.6" cy="479.4" rx="8.9" ry="5.9"/><ellipse cx="703.8" cy="479.4" rx="8.9" ry="5.9"/><ellipse cx="724" cy="479.4" rx="8.9" ry="5.9"/><ellipse cx="744.2" cy="479.4" rx="8.9" ry="5.9"/><ellipse cx="764.4" cy="479.4" rx="8.9" ry="5.9"/><ellipse cx="784.6" cy="479.4" rx="8.9" ry="5.9"/><ellipse cx="804.8" cy="479.4" rx="8.9" ry="5.9"/><ellipse cx="825" cy="479.4" rx="8.9" ry="5.9"/><ellipse cx="532.1" cy="490.9" rx="8.9" ry="5.9"/><ellipse cx="552.3" cy="490.9" rx="8.9" ry="5.9"/><ellipse cx="572.5" cy="490.9" rx="8.9" ry="5.9"/><ellipse cx="592.7" cy="490.9" rx="8.9" ry="5.9"/><ellipse cx="612.9" cy="490.9" rx="8.9" ry="5.9"/><ellipse cx="633.1" cy="490.9" rx="8.9" ry="5.9"/><ellipse cx="653.3" cy="490.9" rx="8.9" ry="5.9"/><ellipse cx="673.5" cy="490.9" rx="8.9" ry="5.9"/><ellipse cx="693.7" cy="490.9" rx="8.9" ry="5.9"/><ellipse cx="713.9" cy="490.9" rx="8.9" ry="5.9"/><ellipse cx="734.1" cy="490.9" rx="8.9" ry="5.9"/><ellipse cx="754.3" cy="490.9" rx="8.9" ry="5.9"/><ellipse cx="774.5" cy="490.9" rx="8.9" ry="5.9"/><ellipse cx="794.7" cy="490.9" rx="8.9" ry="5.9"/><ellipse cx="814.9" cy="490.9" rx="8.9" ry="5.9"/><ellipse cx="542.2" cy="502.4" rx="8.9" ry="5.9"/><ellipse cx="562.4" cy="502.4" rx="8.9" ry="5.9"/><ellipse cx="582.6" cy="502.4" rx="8.9" ry="5.9"/><ellipse cx="602.8" cy="502.4" rx="8.9" ry="5.9"/><ellipse cx="623" cy="502.4" rx="8.9" ry="5.9"/><ellipse cx="643.2" cy="502.4" rx="8.9" ry="5.9"/><ellipse cx="663.4" cy="502.4" rx="8.9" ry="5.9"/><ellipse cx="683.6" cy="502.4" rx="8.9" ry="5.9"/><ellipse cx="703.8" cy="502.4" rx="8.9" ry="5.9"/><ellipse cx="724" cy="502.4" rx="8.9" ry="5.9"/><ellipse cx="744.2" cy="502.4" rx="8.9" ry="5.9"/><ellipse cx="764.4" cy="502.4" rx="8.9" ry="5.9"/><ellipse cx="784.6" cy="502.4" rx="8.9" ry="5.9"/><ellipse cx="804.8" cy="502.4" rx="8.9" ry="5.9"/><ellipse cx="825" cy="502.4" rx="8.9" ry="5.9"/><ellipse cx="532.1" cy="514" rx="8.9" ry="5.9"/><ellipse cx="552.3" cy="514" rx="8.9" ry="5.9"/><ellipse cx="572.5" cy="514" rx="8.9" ry="5.9"/><ellipse cx="592.7" cy="514" rx="8.9" ry="5.9"/><ellipse cx="612.9" cy="514" rx="8.9" ry="5.9"/><ellipse cx="633.1" cy="514" rx="8.9" ry="5.9"/><ellipse cx="653.3" cy="514" rx="8.9" ry="5.9"/><ellipse cx="673.5" cy="514" rx="8.9" ry="5.9"/><ellipse cx="693.7" cy="514" rx="8.9" ry="5.9"/><ellipse cx="713.9" cy="514" rx="8.9" ry="5.9"/><ellipse cx="734.1" cy="514" rx="8.9" ry="5.9"/><ellipse cx="754.3" cy="514" rx="8.9" ry="5.9"/><ellipse cx="774.5" cy="514" rx="8.9" ry="5.9"/><ellipse cx="794.7" cy="514" rx="8.9" ry="5.9"/><ellipse cx="814.9" cy="514" rx="8.9" ry="5.9"/><ellipse cx="542.2" cy="525.5" rx="8.9" ry="5.9"/><ellipse cx="562.4" cy="525.5" rx="8.9" ry="5.9"/><ellipse cx="582.6" cy="525.5" rx="8.9" ry="5.9"/><ellipse cx="602.8" cy="525.5" rx="8.9" ry="5.9"/><ellipse cx="623" cy="525.5" rx="8.9" ry="5.9"/><ellipse cx="643.2" cy="525.5" rx="8.9" ry="5.9"/><ellipse cx="663.4" cy="525.5" rx="8.9" ry="5.9"/><ellipse cx="683.6" cy="525.5" rx="8.9" ry="5.9"/><ellipse cx="703.8" cy="525.5" rx="8.9" ry="5.9"/><ellipse cx="724" cy="525.5" rx="8.9" ry="5.9"/><ellipse cx="744.2" cy="525.5" rx="8.9" ry="5.9"/><ellipse cx="764.4" cy="525.5" rx="8.9" ry="5.9"/><ellipse cx="784.6" cy="525.5" rx="8.9" ry="5.9"/><ellipse cx="804.8" cy="525.5" rx="8.9" ry="5.9"/><ellipse cx="825" cy="525.5" rx="8.9" ry="5.9"/><ellipse cx="532.1" cy="537.1" rx="8.9" ry="5.9"/><ellipse cx="552.3" cy="537.1" rx="8.9" ry="5.9"/><ellipse cx="572.5" cy="537.1" rx="8.9" ry="5.9"/><ellipse cx="592.7" cy="537.1" rx="8.9" ry="5.9"/><ellipse cx="612.9" cy="537.1" rx="8.9" ry="5.9"/><ellipse cx="633.1" cy="537.1" rx="8.9" ry="5.9"/><ellipse cx="653.3" cy="537.1" rx="8.9" ry="5.9"/><ellipse cx="673.5" cy="537.1" rx="8.9" ry="5.9"/><ellipse cx="693.7" cy="537.1" rx="8.9" ry="5.9"/><ellipse cx="713.9" cy="537.1" rx="8.9" ry="5.9"/><ellipse cx="734.1" cy="537.1" rx="8.9" ry="5.9"/><ellipse cx="754.3" cy="537.1" rx="8.9" ry="5.9"/><ellipse cx="774.5" cy="537.1" rx="8.9" ry="5.9"/><ellipse cx="794.7" cy="537.1" rx="8.9" ry="5.9"/><ellipse cx="814.9" cy="537.1" rx="8.9" ry="5.9"/><ellipse cx="542.2" cy="548.6" rx="8.9" ry="5.9"/><ellipse cx="562.4" cy="548.6" rx="8.9" ry="5.9"/><ellipse cx="582.6" cy="548.6" rx="8.9" ry="5.9"/><ellipse cx="602.8" cy="548.6" rx="8.9" ry="5.9"/><ellipse cx="623" cy="548.6" rx="8.9" ry="5.9"/><ellipse cx="643.2" cy="548.6" rx="8.9" ry="5.9"/><ellipse cx="663.4" cy="548.6" rx="8.9" ry="5.9"/><ellipse cx="683.6" cy="548.6" rx="8.9" ry="5.9"/><ellipse cx="703.8" cy="548.6" rx="8.9" ry="5.9"/><ellipse cx="724" cy="548.6" rx="8.9" ry="5.9"/><ellipse cx="744.2" cy="548.6" rx="8.9" ry="5.9"/><ellipse cx="764.4" cy="548.6" rx="8.9" ry="5.9"/><ellipse cx="784.6" cy="548.6" rx="8.9" ry="5.9"/><ellipse cx="804.8" cy="548.6" rx="8.9" ry="5.9"/><ellipse cx="825" cy="548.6" rx="8.9" ry="5.9"/><ellipse cx="532.1" cy="560.2" rx="8.9" ry="5.9"/><ellipse cx="552.3" cy="560.2" rx="8.9" ry="5.9"/><ellipse cx="572.5" cy="560.2" rx="8.9" ry="5.9"/><ellipse cx="592.7" cy="560.2" rx="8.9" ry="5.9"/><ellipse cx="612.9" cy="560.2" rx="8.9" ry="5.9"/><ellipse cx="633.1" cy="560.2" rx="8.9" ry="5.9"/><ellipse cx="653.3" cy="560.2" rx="8.9" ry="5.9"/><ellipse cx="673.5" cy="560.2" rx="8.9" ry="5.9"/><ellipse cx="693.7" cy="560.2" rx="8.9" ry="5.9"/><ellipse cx="713.9" cy="560.2" rx="8.9" ry="5.9"/><ellipse cx="734.1" cy="560.2" rx="8.9" ry="5.9"/><ellipse cx="754.3" cy="560.2" rx="8.9" ry="5.9"/><ellipse cx="774.5" cy="560.2" rx="8.9" ry="5.9"/><ellipse cx="794.7" cy="560.2" rx="8.9" ry="5.9"/><ellipse cx="814.9" cy="560.2" rx="8.9" ry="5.9"/><ellipse cx="542.2" cy="571.8" rx="8.9" ry="5.9"/><ellipse cx="562.4" cy="571.8" rx="8.9" ry="5.9"/><ellipse cx="582.6" cy="571.8" rx="8.9" ry="5.9"/><ellipse cx="602.8" cy="571.8" rx="8.9" ry="5.9"/><ellipse cx="623" cy="571.8" rx="8.9" ry="5.9"/><ellipse cx="643.2" cy="571.8" rx="8.9" ry="5.9"/><ellipse cx="663.4" cy="571.8" rx="8.9" ry="5.9"/><ellipse cx="683.6" cy="571.8" rx="8.9" ry="5.9"/><ellipse cx="703.8" cy="571.8" rx="8.9" ry="5.9"/><ellipse cx="724" cy="571.8" rx="8.9" ry="5.9"/><ellipse cx="744.2" cy="571.8" rx="8.9" ry="5.9"/><ellipse cx="764.4" cy="571.8" rx="8.9" ry="5.9"/><ellipse cx="784.6" cy="571.8" rx="8.9" ry="5.9"/><ellipse cx="804.8" cy="571.8" rx="8.9" ry="5.9"/><ellipse cx="825" cy="571.8" rx="8.9" ry="5.9"/><ellipse cx="532.1" cy="583.3" rx="8.9" ry="5.9"/><ellipse cx="552.3" cy="583.3" rx="8.9" ry="5.9"/><ellipse cx="572.5" cy="583.3" rx="8.9" ry="5.9"/><ellipse cx="592.7" cy="583.3" rx="8.9" ry="5.9"/><ellipse cx="612.9" cy="583.3" rx="8.9" ry="5.9"/><ellipse cx="633.1" cy="583.3" rx="8.9" ry="5.9"/><ellipse cx="653.3" cy="583.3" rx="8.9" ry="5.9"/><ellipse cx="673.5" cy="583.3" rx="8.9" ry="5.9"/><ellipse cx="693.7" cy="583.3" rx="8.9" ry="5.9"/><ellipse cx="713.9" cy="583.3" rx="8.9" ry="5.9"/><ellipse cx="734.1" cy="583.3" rx="8.9" ry="5.9"/><ellipse cx="754.3" cy="583.3" rx="8.9" ry="5.9"/><ellipse cx="774.5" cy="583.3" rx="8.9" ry="5.9"/><ellipse cx="794.7" cy="583.3" rx="8.9" ry="5.9"/><ellipse cx="814.9" cy="583.3" rx="8.9" ry="5.9"/><ellipse cx="542.2" cy="594.9" rx="8.9" ry="5.9"/><ellipse cx="562.4" cy="594.9" rx="8.9" ry="5.9"/><ellipse cx="582.6" cy="594.9" rx="8.9" ry="5.9"/><ellipse cx="602.8" cy="594.9" rx="8.9" ry="5.9"/><ellipse cx="623" cy="594.9" rx="8.9" ry="5.9"/><ellipse cx="643.2" cy="594.9" rx="8.9" ry="5.9"/><ellipse cx="663.4" cy="594.9" rx="8.9" ry="5.9"/><ellipse cx="683.6" cy="594.9" rx="8.9" ry="5.9"/><ellipse cx="703.8" cy="594.9" rx="8.9" ry="5.9"/><ellipse cx="724" cy="594.9" rx="8.9" ry="5.9"/><ellipse cx="744.2" cy="594.9" rx="8.9" ry="5.9"/><ellipse cx="764.4" cy="594.9" rx="8.9" ry="5.9"/><ellipse cx="784.6" cy="594.9" rx="8.9" ry="5.9"/><ellipse cx="804.8" cy="594.9" rx="8.9" ry="5.9"/><ellipse cx="825" cy="594.9" rx="8.9" ry="5.9"/><ellipse cx="532.1" cy="606.4" rx="8.9" ry="5.9"/><ellipse cx="552.3" cy="606.4" rx="8.9" ry="5.9"/><ellipse cx="572.5" cy="606.4" rx="8.9" ry="5.9"/><ellipse cx="592.7" cy="606.4" rx="8.9" ry="5.9"/><ellipse cx="612.9" cy="606.4" rx="8.9" ry="5.9"/><ellipse cx="633.1" cy="606.4" rx="8.9" ry="5.9"/><ellipse cx="653.3" cy="606.4" rx="8.9" ry="5.9"/><ellipse cx="673.5" cy="606.4" rx="8.9" ry="5.9"/><ellipse cx="693.7" cy="606.4" rx="8.9" ry="5.9"/><ellipse cx="713.9" cy="606.4" rx="8.9" ry="5.9"/><ellipse cx="734.1" cy="606.4" rx="8.9" ry="5.9"/><ellipse cx="754.3" cy="606.4" rx="8.9" ry="5.9"/><ellipse cx="774.5" cy="606.4" rx="8.9" ry="5.9"/><ellipse cx="794.7" cy="606.4" rx="8.9" ry="5.9"/><ellipse cx="814.9" cy="606.4" rx="8.9" ry="5.9"/><ellipse cx="542.2" cy="618" rx="8.9" ry="5.9"/><ellipse cx="562.4" cy="618" rx="8.9" ry="5.9"/><ellipse cx="582.6" cy="618" rx="8.9" ry="5.9"/><ellipse cx="602.8" cy="618" rx="8.9" ry="5.9"/><ellipse cx="623" cy="618" rx="8.9" ry="5.9"/><ellipse cx="643.2" cy="618" rx="8.9" ry="5.9"/><ellipse cx="663.4" cy="618" rx="8.9" ry="5.9"/><ellipse cx="683.6" cy="618" rx="8.9" ry="5.9"/><ellipse cx="703.8" cy="618" rx="8.9" ry="5.9"/><ellipse cx="724" cy="618" rx="8.9" ry="5.9"/><ellipse cx="744.2" cy="618" rx="8.9" ry="5.9"/><ellipse cx="764.4" cy="618" rx="8.9" ry="5.9"/><ellipse cx="784.6" cy="618" rx="8.9" ry="5.9"/><ellipse cx="804.8" cy="618" rx="8.9" ry="5.9"/><ellipse cx="825" cy="618" rx="8.9" ry="5.9"/><ellipse cx="532.1" cy="629.5" rx="8.9" ry="5.9"/><ellipse cx="552.3" cy="629.5" rx="8.9" ry="5.9"/><ellipse cx="572.5" cy="629.5" rx="8.9" ry="5.9"/><ellipse cx="592.7" cy="629.5" rx="8.9" ry="5.9"/><ellipse cx="612.9" cy="629.5" rx="8.9" ry="5.9"/><ellipse cx="633.1" cy="629.5" rx="8.9" ry="5.9"/><ellipse cx="653.3" cy="629.5" rx="8.9" ry="5.9"/><ellipse cx="673.5" cy="629.5" rx="8.9" ry="5.9"/><ellipse cx="693.7" cy="629.5" rx="8.9" ry="5.9"/><ellipse cx="713.9" cy="629.5" rx="8.9" ry="5.9"/><ellipse cx="734.1" cy="629.5" rx="8.9" ry="5.9"/><ellipse cx="754.3" cy="629.5" rx="8.9" ry="5.9"/><ellipse cx="774.5" cy="629.5" rx="8.9" ry="5.9"/><ellipse cx="794.7" cy="629.5" rx="8.9" ry="5.9"/><ellipse cx="814.9" cy="629.5" rx="8.9" ry="5.9"/><ellipse cx="542.2" cy="641" rx="8.9" ry="5.9"/><ellipse cx="562.4" cy="641" rx="8.9" ry="5.9"/><ellipse cx="582.6" cy="641" rx="8.9" ry="5.9"/><ellipse cx="602.8" cy="641" rx="8.9" ry="5.9"/><ellipse cx="623" cy="641" rx="8.9" ry="5.9"/><ellipse cx="643.2" cy="641" rx="8.9" ry="5.9"/><ellipse cx="663.4" cy="641" rx="8.9" ry="5.9"/><ellipse cx="683.6" cy="641" rx="8.9" ry="5.9"/><ellipse cx="703.8" cy="641" rx="8.9" ry="5.9"/><ellipse cx="724" cy="641" rx="8.9" ry="5.9"/><ellipse cx="744.2" cy="641" rx="8.9" ry="5.9"/><ellipse cx="764.4" cy="641" rx="8.9" ry="5.9"/><ellipse cx="784.6" cy="641" rx="8.9" ry="5.9"/><ellipse cx="804.8" cy="641" rx="8.9" ry="5.9"/><ellipse cx="825" cy="641" rx="8.9" ry="5.9"/><ellipse cx="532.1" cy="652.6" rx="8.9" ry="5.9"/><ellipse cx="552.3" cy="652.6" rx="8.9" ry="5.9"/><ellipse cx="572.5" cy="652.6" rx="8.9" ry="5.9"/><ellipse cx="592.7" cy="652.6" rx="8.9" ry="5.9"/><ellipse cx="612.9" cy="652.6" rx="8.9" ry="5.9"/><ellipse cx="633.1" cy="652.6" rx="8.9" ry="5.9"/><ellipse cx="653.3" cy="652.6" rx="8.9" ry="5.9"/><ellipse cx="673.5" cy="652.6" rx="8.9" ry="5.9"/><ellipse cx="693.7" cy="652.6" rx="8.9" ry="5.9"/><ellipse cx="713.9" cy="652.6" rx="8.9" ry="5.9"/><ellipse cx="734.1" cy="652.6" rx="8.9" ry="5.9"/><ellipse cx="754.3" cy="652.6" rx="8.9" ry="5.9"/><ellipse cx="774.5" cy="652.6" rx="8.9" ry="5.9"/><ellipse cx="794.7" cy="652.6" rx="8.9" ry="5.9"/><ellipse cx="814.9" cy="652.6" rx="8.9" ry="5.9"/><ellipse cx="542.2" cy="664.1" rx="8.9" ry="5.9"/><ellipse cx="562.4" cy="664.1" rx="8.9" ry="5.9"/><ellipse cx="582.6" cy="664.1" rx="8.9" ry="5.9"/><ellipse cx="602.8" cy="664.1" rx="8.9" ry="5.9"/><ellipse cx="623" cy="664.1" rx="8.9" ry="5.9"/><ellipse cx="643.2" cy="664.1" rx="8.9" ry="5.9"/><ellipse cx="663.4" cy="664.1" rx="8.9" ry="5.9"/><ellipse cx="683.6" cy="664.1" rx="8.9" ry="5.9"/><ellipse cx="703.8" cy="664.1" rx="8.9" ry="5.9"/><ellipse cx="724" cy="664.1" rx="8.9" ry="5.9"/><ellipse cx="744.2" cy="664.1" rx="8.9" ry="5.9"/><ellipse cx="764.4" cy="664.1" rx="8.9" ry="5.9"/><ellipse cx="784.6" cy="664.1" rx="8.9" ry="5.9"/><ellipse cx="804.8" cy="664.1" rx="8.9" ry="5.9"/><ellipse cx="825" cy="664.1" rx="8.9" ry="5.9"/><ellipse cx="532.1" cy="675.7" rx="8.9" ry="5.9"/><ellipse cx="552.3" cy="675.7" rx="8.9" ry="5.9"/><ellipse cx="572.5" cy="675.7" rx="8.9" ry="5.9"/><ellipse cx="592.7" cy="675.7" rx="8.9" ry="5.9"/><ellipse cx="612.9" cy="675.7" rx="8.9" ry="5.9"/><ellipse cx="633.1" cy="675.7" rx="8.9" ry="5.9"/><ellipse cx="653.3" cy="675.7" rx="8.9" ry="5.9"/><ellipse cx="673.5" cy="675.7" rx="8.9" ry="5.9"/><ellipse cx="693.7" cy="675.7" rx="8.9" ry="5.9"/><ellipse cx="713.9" cy="675.7" rx="8.9" ry="5.9"/><ellipse cx="734.1" cy="675.7" rx="8.9" ry="5.9"/><ellipse cx="754.3" cy="675.7" rx="8.9" ry="5.9"/><ellipse cx="774.5" cy="675.7" rx="8.9" ry="5.9"/><ellipse cx="794.7" cy="675.7" rx="8.9" ry="5.9"/><ellipse cx="814.9" cy="675.7" rx="8.9" ry="5.9"/><ellipse cx="542.2" cy="687.2" rx="8.9" ry="5.9"/><ellipse cx="562.4" cy="687.2" rx="8.9" ry="5.9"/><ellipse cx="582.6" cy="687.2" rx="8.9" ry="5.9"/><ellipse cx="602.8" cy="687.2" rx="8.9" ry="5.9"/><ellipse cx="623" cy="687.2" rx="8.9" ry="5.9"/><ellipse cx="643.2" cy="687.2" rx="8.9" ry="5.9"/><ellipse cx="663.4" cy="687.2" rx="8.9" ry="5.9"/><ellipse cx="683.6" cy="687.2" rx="8.9" ry="5.9"/><ellipse cx="703.8" cy="687.2" rx="8.9" ry="5.9"/><ellipse cx="724" cy="687.2" rx="8.9" ry="5.9"/><ellipse cx="744.2" cy="687.2" rx="8.9" ry="5.9"/><ellipse cx="764.4" cy="687.2" rx="8.9" ry="5.9"/><ellipse cx="784.6" cy="687.2" rx="8.9" ry="5.9"/><ellipse cx="804.8" cy="687.2" rx="8.9" ry="5.9"/><ellipse cx="825" cy="687.2" rx="8.9" ry="5.9"/>
</g>
<ellipse cx="573.8" cy="505" rx="8.2" ry="5.8" fill="#fbfdfd"/>
<ellipse cx="578.1" cy="630" rx="8.2" ry="5.8" fill="#fbfdfd"/>
<ellipse cx="594.1" cy="505" rx="8.2" ry="5.8" fill="#fbfdfd"/>
<ellipse cx="598.4" cy="630" rx="8.2" ry="5.8" fill="#fbfdfd"/>
<ellipse cx="614.4" cy="505" rx="8.2" ry="5.8" fill="#fbfdfd"/>
<ellipse cx="618.7" cy="630" rx="8.2" ry="5.8" fill="#fbfdfd"/>
<ellipse cx="634.7" cy="505" rx="8.2" ry="5.8" fill="#fbfdfd"/>
<ellipse cx="639" cy="630" rx="8.2" ry="5.8" fill="#fbfdfd"/>
<ellipse cx="655" cy="505" rx="8.2" ry="5.8" fill="#fbfdfd"/>
<ellipse cx="659.3" cy="630" rx="8.2" ry="5.8" fill="#fbfdfd"/>
<ellipse cx="675.3" cy="505" rx="8.2" ry="5.8" fill="#fbfdfd"/>
<ellipse cx="679.6" cy="630" rx="8.2" ry="5.8" fill="#fbfdfd"/>
<ellipse cx="695.6" cy="505" rx="8.2" ry="5.8" fill="#fbfdfd"/>
<ellipse cx="699.9" cy="630" rx="8.2" ry="5.8" fill="#fbfdfd"/>
<ellipse cx="715.9" cy="505" rx="8.2" ry="5.8" fill="#fbfdfd"/>
<ellipse cx="720.2" cy="630" rx="8.2" ry="5.8" fill="#fbfdfd"/>
<ellipse cx="736.2" cy="505" rx="8.2" ry="5.8" fill="#fbfdfd"/>
<ellipse cx="740.5" cy="630" rx="8.2" ry="5.8" fill="#fbfdfd"/>
<ellipse cx="756.5" cy="505" rx="8.2" ry="5.8" fill="#fbfdfd"/>
<ellipse cx="760.8" cy="630" rx="8.2" ry="5.8" fill="#fbfdfd"/>
<ellipse cx="776.8" cy="505" rx="8.2" ry="5.8" fill="#fbfdfd"/>
<ellipse cx="781.1" cy="630" rx="8.2" ry="5.8" fill="#fbfdfd"/>
<ellipse cx="646.5" cy="546" rx="17.5" ry="14.5" fill="#fbfdfd"/>
<ellipse cx="656" cy="566" rx="9" ry="9" fill="#fbfdfd"/>
<ellipse cx="630" cy="590" rx="14" ry="10" fill="#fbfdfd"/>
<ellipse cx="640" cy="580" rx="8" ry="7" fill="#fbfdfd"/>
<ellipse cx="736" cy="541" rx="9" ry="6" fill="#fbfdfd"/>
<ellipse cx="628" cy="531" rx="9" ry="6" fill="#fbfdfd"/>
<path d="M655 521L667 532L676 541M667 532L650 530M719 575L735 580M719 575L707 571M652 603L660 614M652 603L638 606M652 603L646 591" stroke="#5a58e4" stroke-width="1.9" fill="none"/>
<path d="M667 519L693 511M727 571L754 567M659 596L673 581" stroke="#3a9a40" stroke-width="2" fill="none"/>
<circle cx="664" cy="526" r="3.2" fill="#4a46e0"/>
<circle cx="671" cy="535" r="3.0" fill="#4a46e0"/>
<circle cx="657" cy="520" r="2.4" fill="#5a6fd0"/>
<circle cx="648" cy="529" r="2.6" fill="#6b86c8"/>
<circle cx="667" cy="519" r="4.2" fill="#c8d43a"/>
<circle cx="680" cy="515" r="3.0" fill="#2f9a35"/>
<circle cx="693" cy="511" r="3.0" fill="#5a9ac8"/>
<circle cx="676" cy="525" r="2.2" fill="#4a46e0"/>
<circle cx="719" cy="575" r="3.4" fill="#5a30e6"/>
<circle cx="727" cy="571" r="3.6" fill="#c8d43a"/>
<circle cx="741" cy="568" r="3.2" fill="#2f9a35"/>
<circle cx="754" cy="567" r="3.6" fill="#4a7fd0"/>
<circle cx="707" cy="571" r="2.4" fill="#4a46e0"/>
<circle cx="715" cy="586" r="2.4" fill="#4a46e0"/>
<circle cx="735" cy="580" r="2.2" fill="#4a46e0"/>
<circle cx="673" cy="581" r="3.6" fill="#d07a20"/>
<circle cx="664" cy="590" r="2.6" fill="#2f9a35"/>
<circle cx="659" cy="596" r="3.6" fill="#e8c030"/>
<circle cx="652" cy="603" r="3.4" fill="#5a30e6"/>
<circle cx="646" cy="591" r="2.6" fill="#4a46e0"/>
<circle cx="638" cy="606" r="2.4" fill="#4a46e0"/>
<circle cx="659" cy="614" r="2.4" fill="#4a46e0"/>
<circle cx="668" cy="600" r="2.4" fill="#4a46e0"/>
</g>
<g filter="url(#blur1)">
<path d="M842 304.2L858.2 313.8M858.2 313.8L858.2 331.6M858.2 331.6L842 341.2M842 341.2L825.9 331.6M825.9 331.6L825.9 313.8M825.9 313.8L842 304.2M842 341.2L858.2 331.6M858.2 331.6L871.1 344.5M871.1 344.5L863.8 361.4M863.8 361.4L845.3 359M845.3 359L842 341.2M904.1 344.5L921.8 341.2M921.8 341.2L930.7 358.2M930.7 358.2L918.6 371.1M918.6 371.1L901.7 363M901.7 363L904.1 344.5M921.8 341.2L931.5 326.7M931.5 326.7L949.2 325.9M949.2 325.9L958.9 342M958.9 342L949.2 358.2M949.2 358.2L930.7 358.2M930.7 358.2L921.8 341.2M918.6 404.1L899.3 400.1M899.3 400.1L892 417M892 417L904.9 430.7M904.9 430.7L921 421.8M921 421.8L918.6 404.1M921 421.8L938.7 431.5M938.7 431.5L938.7 449.2M938.7 449.2L921.8 458.1M921.8 458.1L905.7 449.2M905.7 449.2L904.9 430.7M904.9 430.7L921 421.8M860.6 417L863 399.3M863 399.3L845.3 391.2M845.3 391.2L833.2 404.1M833.2 404.1L842 420.2M842 420.2L860.6 417M833.2 404.1L815.5 403.3M815.5 403.3L805 419.4M805 419.4L814.6 436.3M814.6 436.3L833.2 436.3M833.2 436.3L842 420.2M842 420.2L833.2 404.1M871.1 344.5L888 333.2M888 333.2L904.1 344.5M918.6 371.1L923.4 388.8M923.4 388.8L918.6 404.1M892 417L877.5 425M877.5 425L860.6 417M845.3 359L841.2 377.5M841.2 377.5L845.3 391.2M882.3 380.7L863.8 361.4M882.3 380.7L901.7 363M882.3 380.7L899.3 400.1M882.3 380.7L863 399.3" stroke="#4a4f53" stroke-width="1.9" fill="none"/>
<circle cx="805" cy="419.4" r="3.3" fill="url(#gAtomC)"/>
<circle cx="814.6" cy="436.3" r="3.3" fill="url(#gAtomC)"/>
<circle cx="815.5" cy="403.3" r="3.3" fill="url(#gAtomC)"/>
<circle cx="825.9" cy="313.8" r="3.3" fill="url(#gAtomC)"/>
<circle cx="825.9" cy="331.6" r="3.3" fill="url(#gAtomC)"/>
<circle cx="833.2" cy="404.1" r="3.3" fill="url(#gAtomC)"/>
<circle cx="833.2" cy="436.3" r="3.3" fill="url(#gAtomC)"/>
<circle cx="842" cy="304.2" r="3.3" fill="url(#gAtomC)"/>
<circle cx="842" cy="341.2" r="3.3" fill="url(#gAtomC)"/>
<circle cx="842" cy="420.2" r="3.3" fill="url(#gAtomC)"/>
<circle cx="845.3" cy="359" r="3.3" fill="url(#gAtomC)"/>
<circle cx="845.3" cy="391.2" r="3.3" fill="url(#gAtomC)"/>
<circle cx="858.2" cy="313.8" r="3.3" fill="url(#gAtomC)"/>
<circle cx="858.2" cy="331.6" r="3.3" fill="url(#gAtomC)"/>
<circle cx="860.6" cy="417" r="3.3" fill="url(#gAtomC)"/>
<circle cx="871.1" cy="344.5" r="3.3" fill="url(#gAtomC)"/>
<circle cx="892" cy="417" r="3.3" fill="url(#gAtomC)"/>
<circle cx="904.1" cy="344.5" r="3.3" fill="url(#gAtomC)"/>
<circle cx="904.9" cy="430.7" r="3.3" fill="url(#gAtomC)"/>
<circle cx="905.7" cy="449.2" r="3.3" fill="url(#gAtomC)"/>
<circle cx="918.6" cy="371.1" r="3.3" fill="url(#gAtomC)"/>
<circle cx="918.6" cy="404.1" r="3.3" fill="url(#gAtomC)"/>
<circle cx="921" cy="421.8" r="3.3" fill="url(#gAtomC)"/>
<circle cx="921.8" cy="341.2" r="3.3" fill="url(#gAtomC)"/>
<circle cx="921.8" cy="458.1" r="3.3" fill="url(#gAtomC)"/>
<circle cx="930.7" cy="358.2" r="3.3" fill="url(#gAtomC)"/>
<circle cx="931.5" cy="326.7" r="3.3" fill="url(#gAtomC)"/>
<circle cx="938.7" cy="431.5" r="3.3" fill="url(#gAtomC)"/>
<circle cx="938.7" cy="449.2" r="3.3" fill="url(#gAtomC)"/>
<circle cx="949.2" cy="325.9" r="3.3" fill="url(#gAtomC)"/>
<circle cx="949.2" cy="358.2" r="3.3" fill="url(#gAtomC)"/>
<circle cx="958.9" cy="342" r="3.3" fill="url(#gAtomC)"/>
<circle cx="841.2" cy="377.5" r="3.3" fill="#5a5fe4"/>
<circle cx="863" cy="399.3" r="3.3" fill="#5a5fe4"/>
<circle cx="863.8" cy="361.4" r="3.3" fill="#5a5fe4"/>
<circle cx="877.5" cy="425" r="3.3" fill="#5a5fe4"/>
<circle cx="888" cy="333.2" r="3.3" fill="#5a5fe4"/>
<circle cx="899.3" cy="400.1" r="3.3" fill="#5a5fe4"/>
<circle cx="901.7" cy="363" r="3.3" fill="#5a5fe4"/>
<circle cx="923.4" cy="388.8" r="3.3" fill="#5a5fe4"/>
<circle cx="882.3" cy="380.7" r="6.6" fill="#b456e6"/>
</g>
<g filter="url(#blur2)">
<path d="M1081 703 L1052 717 L1050 745 L1079 757 L1112 754 L1108 719 Z" fill="#4d55ee"/>
<circle cx="1081.1" cy="703.2" r="19.8" fill="url(#gNano)"/>
<circle cx="1052" cy="716.9" r="19.8" fill="url(#gNano)"/>
<circle cx="1107.6" cy="719.3" r="19.8" fill="url(#gNano)"/>
<circle cx="1050.4" cy="745.1" r="19.8" fill="url(#gNano)"/>
<circle cx="1111.7" cy="754" r="19.8" fill="url(#gNano)"/>
<circle cx="1078.6" cy="757.2" r="19.8" fill="url(#gNano)"/>
<circle cx="1079.4" cy="732.2" r="19.8" fill="url(#gNano)"/>
</g>
<rect x="150.9" y="173.2" width="1042.1" height="846.3" fill="none" stroke="#141414" stroke-width="3.8"/>
<text x="128.6" y="1028.7" font-size="25.8" fill="#141414" font-weight="bold" text-anchor="end" >0</text>
<line x1="150.9" y1="906.6" x2="158.4" y2="906.6" stroke="#141414" stroke-width="3.6" />
<text x="128.6" y="915.8" font-size="25.8" fill="#141414" font-weight="bold" text-anchor="end" >20</text>
<line x1="150.9" y1="793.7" x2="158.4" y2="793.7" stroke="#141414" stroke-width="3.6" />
<text x="128.6" y="802.9" font-size="25.8" fill="#141414" font-weight="bold" text-anchor="end" >40</text>
<line x1="150.9" y1="680.7" x2="158.4" y2="680.7" stroke="#141414" stroke-width="3.6" />
<text x="128.6" y="689.9" font-size="25.8" fill="#141414" font-weight="bold" text-anchor="end" >60</text>
<line x1="150.9" y1="567.8" x2="158.4" y2="567.8" stroke="#141414" stroke-width="3.6" />
<text x="128.6" y="577" font-size="25.8" fill="#141414" font-weight="bold" text-anchor="end" >80</text>
<line x1="150.9" y1="454.9" x2="158.4" y2="454.9" stroke="#141414" stroke-width="3.6" />
<text x="128.6" y="464.1" font-size="25.8" fill="#141414" font-weight="bold" text-anchor="end" >100</text>
<text x="128.6" y="351.2" font-size="25.8" fill="#141414" font-weight="bold" text-anchor="end" >120</text>
<line x1="150.9" y1="229.1" x2="158.4" y2="229.1" stroke="#141414" stroke-width="3.6" />
<text x="128.6" y="238.3" font-size="25.8" fill="#141414" font-weight="bold" text-anchor="end" >140</text>
<text transform="translate(55.3,591.3) rotate(-90)" font-size="40" font-weight="bold" fill="#141414" text-anchor="middle" textLength="32.5" lengthAdjust="spacingAndGlyphs">%</text>
<rect x="205" y="454.9" width="25" height="565.8" fill="#fc6627"/>
<text transform="translate(225.3,440.4) rotate(-90)" font-size="21.5" font-weight="bold" fill="#1a1a1a">100</text>
<rect x="242.5" y="991.3" width="25" height="29.4" fill="#fcb31b"/>
<text transform="translate(262.8,976.8) rotate(-90)" font-size="21.5" font-weight="bold" fill="#1a1a1a">5</text>
<rect x="280" y="483.1" width="25" height="537.6" fill="#62ec27"/>
<text transform="translate(300.3,468.6) rotate(-90)" font-size="21.5" font-weight="bold" fill="#1a1a1a">95</text>
<rect x="413.3" y="579.1" width="25" height="441.6" fill="#fc6627"/>
<text transform="translate(433.6,564.6) rotate(-90)" font-size="21.5" font-weight="bold" fill="#1a1a1a">78</text>
<rect x="450.8" y="759.8" width="25" height="260.9" fill="#fcb31b"/>
<text transform="translate(471.1,745.3) rotate(-90)" font-size="21.5" font-weight="bold" fill="#1a1a1a">46</text>
<rect x="488.3" y="838.8" width="25" height="181.9" fill="#62ec27"/>
<text transform="translate(508.6,824.3) rotate(-90)" font-size="21.5" font-weight="bold" fill="#1a1a1a">32</text>
<rect x="621.6" y="680.7" width="25" height="340" fill="#fc6627"/>
<text transform="translate(641.9,666.2) rotate(-90)" font-size="21.5" font-weight="bold" fill="#1a1a1a">60</text>
<rect x="659.1" y="805" width="25" height="215.7" fill="#fcb31b"/>
<text transform="translate(679.4,790.5) rotate(-90)" font-size="21.5" font-weight="bold" fill="#1a1a1a">38</text>
<rect x="696.6" y="895.3" width="25" height="125.4" fill="#62ec27"/>
<text transform="translate(716.9,880.8) rotate(-90)" font-size="21.5" font-weight="bold" fill="#1a1a1a">22</text>
<rect x="830" y="517" width="25" height="503.7" fill="#fc6627"/>
<text transform="translate(850.3,502.5) rotate(-90)" font-size="21.5" font-weight="bold" fill="#1a1a1a">89</text>
<rect x="867.5" y="793.7" width="25" height="227" fill="#fcb31b"/>
<text transform="translate(887.8,779.2) rotate(-90)" font-size="21.5" font-weight="bold" fill="#1a1a1a">40</text>
<rect x="905" y="742.8" width="25" height="277.9" fill="#62ec27"/>
<text transform="translate(925.3,728.3) rotate(-90)" font-size="21.5" font-weight="bold" fill="#1a1a1a">49</text>
<rect x="1038.3" y="827.5" width="25" height="193.2" fill="#fc6627"/>
<text transform="translate(1058.6,813) rotate(-90)" font-size="21.5" font-weight="bold" fill="#1a1a1a">34</text>
<rect x="1075.8" y="1008.2" width="25" height="12.5" fill="#fcb31b"/>
<text transform="translate(1096.1,993.7) rotate(-90)" font-size="21.5" font-weight="bold" fill="#1a1a1a">2</text>
<rect x="1113.3" y="838.8" width="25" height="181.9" fill="#62ec27"/>
<text transform="translate(1133.6,824.3) rotate(-90)" font-size="21.5" font-weight="bold" fill="#1a1a1a">32</text>
<rect x="978" y="175.5" width="13" height="116" fill="#fff"/>
<line x1="984.3" y1="173.2" x2="984.3" y2="291.5" stroke="#4a3fa8" stroke-width="1.3" stroke-dasharray="10.3 7"/>
<rect x="945" y="191" width="12.5" height="13" fill="#fc6627"/>
<text x="965" y="206.6" font-size="25.4" fill="#141414" font-weight="bold" text-anchor="start" >Conversion of 1a</text>
<rect x="945" y="221.4" width="12.5" height="13" fill="#fcb31b"/>
<text x="965" y="236.9" font-size="25.4" fill="#141414" font-weight="bold" text-anchor="start" >GC yield to I</text>
<rect x="945" y="251.8" width="12.5" height="13" fill="#62ec27"/>
<text x="965" y="267.2" font-size="25.4" fill="#141414" font-weight="bold" text-anchor="start" >GC yield to 3a</text>
<text x="46.3" y="79.9" font-size="40" fill="#111" font-weight="bold" text-anchor="start" textLength="49" lengthAdjust="spacingAndGlyphs">(a)</text>
<line x1="224.5" y1="36.8" x2="247.2" y2="49.9" stroke="#262626" stroke-width="2.4" stroke-linecap="round"/>
<line x1="247.2" y1="49.9" x2="247.2" y2="76.1" stroke="#262626" stroke-width="2.4" stroke-linecap="round"/>
<line x1="247.2" y1="76.1" x2="224.5" y2="89.2" stroke="#262626" stroke-width="2.4" stroke-linecap="round"/>
<line x1="224.5" y1="89.2" x2="201.8" y2="76.1" stroke="#262626" stroke-width="2.4" stroke-linecap="round"/>
<line x1="201.8" y1="76.1" x2="201.8" y2="49.9" stroke="#262626" stroke-width="2.4" stroke-linecap="round"/>
<line x1="201.8" y1="49.9" x2="224.5" y2="36.8" stroke="#262626" stroke-width="2.4" stroke-linecap="round"/>
<line x1="225.5" y1="43.4" x2="240.9" y2="52.3" stroke="#262626" stroke-width="2.4" />
<line x1="240.9" y1="73.7" x2="225.5" y2="82.6" stroke="#262626" stroke-width="2.4" />
<line x1="207.1" y1="71.9" x2="207.1" y2="54.1" stroke="#262626" stroke-width="2.4" />
<line x1="247.2" y1="49.9" x2="269.4" y2="36.8" stroke="#262626" stroke-width="2.4" stroke-linecap="round"/>
<line x1="269.4" y1="36.8" x2="281.5" y2="45.5" stroke="#262626" stroke-width="2.4" stroke-linecap="round"/>
<text x="283.9" y="57.4" font-size="16.3" fill="#c45ccc" font-weight="normal" text-anchor="start" textLength="32.5" lengthAdjust="spacingAndGlyphs">NH<tspan dy="4" font-size="11.5">2</tspan><tspan dy="-4" font-size="1">&#8203;</tspan></text>
<line x1="247.2" y1="76.1" x2="261.5" y2="85.2" stroke="#262626" stroke-width="2.4" stroke-linecap="round"/>
<text x="262.5" y="95.7" font-size="16" fill="#c45ccc" font-weight="normal" text-anchor="start" textLength="31" lengthAdjust="spacingAndGlyphs">NH<tspan dy="4" font-size="11">2</tspan><tspan dy="-4" font-size="1">&#8203;</tspan></text>
<text x="236.3" y="137.8" font-size="18.5" fill="#111" font-weight="bold" text-anchor="start" textLength="21.4" lengthAdjust="spacingAndGlyphs">1a</text>
<line x1="337.5" y1="67" x2="352.5" y2="67" stroke="#262626" stroke-width="2" />
<line x1="345" y1="59.5" x2="345" y2="74.5" stroke="#262626" stroke-width="2" />
<line x1="408.8" y1="39" x2="430.9" y2="51.8" stroke="#3a3ae6" stroke-width="2.4" stroke-linecap="round"/>
<line x1="430.9" y1="51.8" x2="430.9" y2="77.2" stroke="#3a3ae6" stroke-width="2.4" stroke-linecap="round"/>
<line x1="430.9" y1="77.2" x2="408.8" y2="90" stroke="#3a3ae6" stroke-width="2.4" stroke-linecap="round"/>
<line x1="408.8" y1="90" x2="386.7" y2="77.2" stroke="#3a3ae6" stroke-width="2.4" stroke-linecap="round"/>
<line x1="386.7" y1="77.2" x2="386.7" y2="51.8" stroke="#3a3ae6" stroke-width="2.4" stroke-linecap="round"/>
<line x1="386.7" y1="51.8" x2="408.8" y2="39" stroke="#3a3ae6" stroke-width="2.4" stroke-linecap="round"/>
<line x1="409.8" y1="45.5" x2="424.8" y2="54.1" stroke="#3a3ae6" stroke-width="2.4" />
<line x1="424.8" y1="74.9" x2="409.8" y2="83.5" stroke="#3a3ae6" stroke-width="2.4" />
<line x1="391.8" y1="73.2" x2="391.8" y2="55.8" stroke="#3a3ae6" stroke-width="2.4" />
<line x1="430.9" y1="51.8" x2="453.7" y2="39.1" stroke="#3a3ae6" stroke-width="2.4" stroke-linecap="round"/>
<line x1="453.7" y1="39.1" x2="469" y2="50.2" stroke="#3a3ae6" stroke-width="2.4" stroke-linecap="round"/>
<line x1="451" y1="43.2" x2="465.6" y2="53.8" stroke="#3a3ae6" stroke-width="2.4" stroke-linecap="round"/>
<ellipse cx="475.3" cy="55" rx="4.6" ry="5.2" fill="none" stroke="#3a3ae6" stroke-width="2"/>
<text x="401.8" y="141.2" font-size="18.5" fill="#111" font-weight="bold" text-anchor="start" textLength="21.4" lengthAdjust="spacingAndGlyphs">2a</text>
<line x1="502.5" y1="68.6" x2="640" y2="68.6" stroke="#8a8a8a" stroke-width="2.2" />
<polygon points="637.5,63.8 654,68.6 637.5,73.4" fill="#111"/>
<text x="548.7" y="39.9" font-size="16.4" fill="#3a3a3a" font-weight="normal" text-anchor="start" textLength="53.9" lengthAdjust="spacingAndGlyphs" stroke="#3a3a3a" stroke-width="0.3">Fe cat.</text>
<text x="527.3" y="59.9" font-size="16.4" fill="#3a3a3a" font-weight="normal" text-anchor="start" textLength="98.1" lengthAdjust="spacingAndGlyphs" stroke="#3a3a3a" stroke-width="0.3">(4 mol% Fe)</text>
<text x="516.9" y="91.7" font-size="16.4" fill="#3a3a3a" font-weight="normal" text-anchor="start" textLength="121.6" lengthAdjust="spacingAndGlyphs" stroke="#3a3a3a" stroke-width="0.3">H<tspan dy="3.5" font-size="11">2</tspan><tspan dy="-3.5" font-size="1">&#8203;</tspan>O<tspan dy="3.5" font-size="11">2</tspan><tspan dy="-3.5" font-size="1">&#8203;</tspan> (2 equiv.)</text>
<text x="502.4" y="117.9" font-size="16.4" fill="#3a3a3a" font-weight="normal" text-anchor="start" textLength="150.6" lengthAdjust="spacingAndGlyphs" stroke="#3a3a3a" stroke-width="0.3">H<tspan dy="3.5" font-size="11">2</tspan><tspan dy="-3.5" font-size="1">&#8203;</tspan>O-THF (4/1, v/v)</text>
<text x="552.2" y="141.4" font-size="16.4" fill="#3a3a3a" font-weight="normal" text-anchor="start" textLength="52.5" lengthAdjust="spacingAndGlyphs" stroke="#3a3a3a" stroke-width="0.3">100 <tspan dy="-5" font-size="11">o</tspan><tspan dy="5">C</tspan></text>
<polyline points="675.5,17 667,17 667,140 675.5,140" fill="none" stroke="#333" stroke-width="2.4"/>
<polyline points="853.5,17 861.5,17 861.5,140 853.5,140" fill="none" stroke="#333" stroke-width="2.4"/>
<line x1="712.5" y1="33.4" x2="734.7" y2="46.2" stroke="#262626" stroke-width="2.4" stroke-linecap="round"/>
<line x1="734.7" y1="46.2" x2="734.7" y2="71.8" stroke="#262626" stroke-width="2.4" stroke-linecap="round"/>
<line x1="734.7" y1="71.8" x2="712.5" y2="84.6" stroke="#262626" stroke-width="2.4" stroke-linecap="round"/>
<line x1="712.5" y1="84.6" x2="690.3" y2="71.8" stroke="#262626" stroke-width="2.4" stroke-linecap="round"/>
<line x1="690.3" y1="71.8" x2="690.3" y2="46.2" stroke="#262626" stroke-width="2.4" stroke-linecap="round"/>
<line x1="690.3" y1="46.2" x2="712.5" y2="33.4" stroke="#262626" stroke-width="2.4" stroke-linecap="round"/>
<line x1="713.5" y1="39.9" x2="728.6" y2="48.6" stroke="#262626" stroke-width="2.4" />
<line x1="728.6" y1="69.4" x2="713.5" y2="78.1" stroke="#262626" stroke-width="2.4" />
<line x1="695.4" y1="67.7" x2="695.4" y2="50.3" stroke="#262626" stroke-width="2.4" />
<line x1="734.7" y1="46.2" x2="756.3" y2="33.3" stroke="#262626" stroke-width="2.4" stroke-linecap="round"/>
<line x1="756.3" y1="33.3" x2="771.5" y2="42.3" stroke="#262626" stroke-width="2.4" stroke-linecap="round"/>
<line x1="779" y1="57" x2="779" y2="71.5" stroke="#3a3ae6" stroke-width="2.4" stroke-linecap="round"/>
<line x1="779" y1="71.5" x2="766.5" y2="78.7" stroke="#3a3ae6" stroke-width="2.4" stroke-linecap="round"/>
<line x1="734.7" y1="71.8" x2="748.5" y2="80.2" stroke="#262626" stroke-width="2.4" stroke-linecap="round"/>
<text x="772.6" y="53.6" font-size="17.5" fill="#c45ccc" font-weight="normal" text-anchor="start" >NH</text>
<text x="750" y="92.6" font-size="16.5" fill="#c45ccc" font-weight="normal" text-anchor="start" >N</text>
<text x="750" y="107.6" font-size="16.5" fill="#c45ccc" font-weight="normal" text-anchor="start" >H</text>
<line x1="825.2" y1="71.7" x2="847.5" y2="84.6" stroke="#3a3ae6" stroke-width="2.4" stroke-linecap="round"/>
<line x1="847.5" y1="84.6" x2="847.5" y2="110.2" stroke="#3a3ae6" stroke-width="2.4" stroke-linecap="round"/>
<line x1="847.5" y1="110.2" x2="825.2" y2="123.1" stroke="#3a3ae6" stroke-width="2.4" stroke-linecap="round"/>
<line x1="825.2" y1="123.1" x2="802.9" y2="110.2" stroke="#3a3ae6" stroke-width="2.4" stroke-linecap="round"/>
<line x1="802.9" y1="110.2" x2="802.9" y2="84.5" stroke="#3a3ae6" stroke-width="2.4" stroke-linecap="round"/>
<line x1="802.9" y1="84.5" x2="825.2" y2="71.7" stroke="#3a3ae6" stroke-width="2.4" stroke-linecap="round"/>
<line x1="826.2" y1="78.2" x2="841.3" y2="86.9" stroke="#3a3ae6" stroke-width="2.4" />
<line x1="841.3" y1="107.9" x2="826.2" y2="116.6" stroke="#3a3ae6" stroke-width="2.4" />
<line x1="808.1" y1="106.1" x2="808.1" y2="88.7" stroke="#3a3ae6" stroke-width="2.4" />
<line x1="779" y1="71.5" x2="802.9" y2="84.5" stroke="#3a3ae6" stroke-width="2.4" stroke-linecap="round"/>
<text x="749.6" y="137.8" font-size="18.5" fill="#111" font-weight="bold" text-anchor="start" >I</text>
<line x1="885" y1="70" x2="930" y2="70" stroke="#555" stroke-width="1.6" />
<polygon points="926,65 943,70 926,75" fill="#111"/>
<line x1="982.5" y1="32.4" x2="1004.8" y2="45.2" stroke="#262626" stroke-width="2.4" stroke-linecap="round"/>
<line x1="1004.8" y1="45.2" x2="1004.8" y2="71" stroke="#262626" stroke-width="2.4" stroke-linecap="round"/>
<line x1="1004.8" y1="71" x2="982.5" y2="83.8" stroke="#262626" stroke-width="2.4" stroke-linecap="round"/>
<line x1="982.5" y1="83.8" x2="960.2" y2="71" stroke="#262626" stroke-width="2.4" stroke-linecap="round"/>
<line x1="960.2" y1="71" x2="960.2" y2="45.2" stroke="#262626" stroke-width="2.4" stroke-linecap="round"/>
<line x1="960.2" y1="45.2" x2="982.5" y2="32.4" stroke="#262626" stroke-width="2.4" stroke-linecap="round"/>
<line x1="983.5" y1="38.9" x2="998.6" y2="47.6" stroke="#262626" stroke-width="2.4" />
<line x1="998.6" y1="68.6" x2="983.5" y2="77.3" stroke="#262626" stroke-width="2.4" />
<line x1="965.4" y1="66.8" x2="965.4" y2="49.4" stroke="#262626" stroke-width="2.4" />
<line x1="1004.8" y1="45.2" x2="1027.5" y2="32.3" stroke="#262626" stroke-width="2.4" stroke-linecap="round"/>
<line x1="1027.5" y1="32.3" x2="1041.5" y2="41" stroke="#262626" stroke-width="2.4" stroke-linecap="round"/>
<line x1="1027.5" y1="37.6" x2="1038.5" y2="44.2" stroke="#262626" stroke-width="2.4" stroke-linecap="round"/>
<line x1="1049" y1="54.5" x2="1049" y2="70.8" stroke="#3a3ae6" stroke-width="2.4" stroke-linecap="round"/>
<line x1="1049" y1="70.8" x2="1036.5" y2="78.5" stroke="#3a3ae6" stroke-width="2.4" stroke-linecap="round"/>
<line x1="1045.2" y1="67.6" x2="1034.5" y2="74.1" stroke="#3a3ae6" stroke-width="2.4" stroke-linecap="round"/>
<line x1="1004.8" y1="71" x2="1019.5" y2="79.5" stroke="#262626" stroke-width="2.4" stroke-linecap="round"/>
<text x="1042.6" y="51.8" font-size="16" fill="#a078e4" font-weight="normal" text-anchor="start" >N</text>
<text x="1021.2" y="90" font-size="16" fill="#a078e4" font-weight="normal" text-anchor="start" >N</text>
<line x1="1095.5" y1="70.7" x2="1117.8" y2="83.6" stroke="#3a3ae6" stroke-width="2.4" stroke-linecap="round"/>
<line x1="1117.8" y1="83.6" x2="1117.8" y2="109.2" stroke="#3a3ae6" stroke-width="2.4" stroke-linecap="round"/>
<line x1="1117.8" y1="109.2" x2="1095.5" y2="122.1" stroke="#3a3ae6" stroke-width="2.4" stroke-linecap="round"/>
<line x1="1095.5" y1="122.1" x2="1073.2" y2="109.2" stroke="#3a3ae6" stroke-width="2.4" stroke-linecap="round"/>
<line x1="1073.2" y1="109.2" x2="1073.2" y2="83.5" stroke="#3a3ae6" stroke-width="2.4" stroke-linecap="round"/>
<line x1="1073.2" y1="83.5" x2="1095.5" y2="70.7" stroke="#3a3ae6" stroke-width="2.4" stroke-linecap="round"/>
<line x1="1096.5" y1="77.2" x2="1111.6" y2="85.9" stroke="#3a3ae6" stroke-width="2.4" />
<line x1="1111.6" y1="106.9" x2="1096.5" y2="115.6" stroke="#3a3ae6" stroke-width="2.4" />
<line x1="1078.4" y1="105.1" x2="1078.4" y2="87.7" stroke="#3a3ae6" stroke-width="2.4" />
<line x1="1049" y1="70.8" x2="1073.2" y2="83.5" stroke="#3a3ae6" stroke-width="2.4" stroke-linecap="round"/>
<text x="1013.6" y="137.8" font-size="18.5" fill="#111" font-weight="bold" text-anchor="start" textLength="21.4" lengthAdjust="spacingAndGlyphs">3a</text>
<text transform="translate(186.5,1232.3) rotate(-55.7)" font-size="25" font-weight="bold" fill="#111" textLength="204.3" lengthAdjust="spacingAndGlyphs">Fe-Fe<tspan dy="4.5" font-size="18.5">3</tspan><tspan dy="-4.5">C@NC-800</tspan></text>
<text transform="translate(415.3,1200.7) rotate(-57)" font-size="25" font-weight="bold" fill="#49e1d6" textLength="173.3" lengthAdjust="spacingAndGlyphs">Fe-N<tspan dy="5" font-size="16">x</tspan><tspan dy="-5">@NC-800</tspan></text>
<text transform="translate(621.9,1195) rotate(-56)" font-size="25" font-weight="bold" fill="#cf142f" textLength="171.8" lengthAdjust="spacingAndGlyphs">Fe-N<tspan dy="5" font-size="16">x</tspan><tspan dy="-5">@NC-800</tspan></text>
<text transform="translate(667.4,1185.5) rotate(-56.6)" font-size="24.5" font-weight="bold" fill="#cf142f" textLength="109.5" lengthAdjust="spacingAndGlyphs">with SCN<tspan dy="-9" font-size="15">-</tspan></text>
<text transform="translate(878.4,1132.1) rotate(-55.7)" font-size="25" font-weight="bold" fill="#4f2ae6" textLength="84.6" lengthAdjust="spacingAndGlyphs">Fe(II)Pc</text>
<text transform="translate(1018.2,1218.7) rotate(-57)" font-size="25" font-weight="bold" fill="#23a623" textLength="193.7" lengthAdjust="spacingAndGlyphs">Nano Fe powder</text>
<text x="46.5" y="1222" font-size="40" fill="#111" font-weight="bold" text-anchor="start" textLength="50.5" lengthAdjust="spacingAndGlyphs">(b)</text>
<rect x="28.9" y="1249.7" width="1020.6" height="326.8" fill="none" stroke="#6a6a6a" stroke-width="1.5" stroke-dasharray="5.2 2.2"/>
<rect x="44.2" y="1442.8" width="995.6" height="126.2" fill="#f1f1f1"/>
<g filter="url(#blurB)"><circle cx="131.9" cy="1289.2" r="7" fill="url(#gPink)"/><circle cx="66.1" cy="1370.4" r="7" fill="url(#gPink)"/><circle cx="184.6" cy="1278.2" r="7" fill="url(#gPink)"/><circle cx="129" cy="1360.2" r="7" fill="url(#gPink)"/><circle cx="153.1" cy="1284.3" r="7" fill="url(#gPink)"/><circle cx="146" cy="1398" r="7" fill="url(#gPink)"/><circle cx="153.8" cy="1301.2" r="7" fill="url(#gPink)"/><circle cx="100.2" cy="1355.6" r="7" fill="url(#gPink)"/><circle cx="192" cy="1367" r="7" fill="url(#gPink)"/><circle cx="168.3" cy="1370.5" r="7" fill="url(#gPink)"/><circle cx="84.3" cy="1290.7" r="7" fill="url(#gPink)"/><circle cx="93.5" cy="1297.9" r="7" fill="url(#gPink)"/><circle cx="157" cy="1328.4" r="7" fill="url(#gPink)"/><circle cx="106.2" cy="1378.2" r="7" fill="url(#gPink)"/><circle cx="88.1" cy="1376.7" r="7" fill="url(#gPink)"/><circle cx="152.7" cy="1262.8" r="7" fill="url(#gPink)"/><circle cx="159.3" cy="1341.9" r="7" fill="url(#gPink)"/><circle cx="123.1" cy="1371.4" r="7" fill="url(#gPink)"/><circle cx="133" cy="1348.7" r="7" fill="url(#gPink)"/><circle cx="74.5" cy="1368.7" r="7" fill="url(#gPink)"/><circle cx="145.5" cy="1399.4" r="7" fill="url(#gPink)"/><circle cx="53.1" cy="1382.4" r="7" fill="url(#gPink)"/><circle cx="165.3" cy="1334.6" r="7" fill="url(#gPink)"/><circle cx="115.3" cy="1364.5" r="7" fill="url(#gPink)"/><circle cx="89" cy="1343.7" r="7" fill="url(#gPink)"/><circle cx="79.1" cy="1262.2" r="7" fill="url(#gPink)"/><circle cx="139.7" cy="1313.3" r="7" fill="url(#gPink)"/><circle cx="55.8" cy="1312" r="7" fill="url(#gPink)"/><circle cx="96.2" cy="1369.3" r="7" fill="url(#gPink)"/><circle cx="74.8" cy="1319.6" r="7" fill="url(#gPink)"/><circle cx="179.4" cy="1288.5" r="7" fill="url(#gPink)"/><circle cx="171.1" cy="1328.6" r="7" fill="url(#gPink)"/><circle cx="146.5" cy="1359.1" r="7" fill="url(#gPink)"/><circle cx="62.1" cy="1267.4" r="7" fill="url(#gPink)"/><circle cx="114" cy="1355" r="7" fill="url(#gPink)"/><circle cx="108.7" cy="1286.2" r="7" fill="url(#gPink)"/><circle cx="137.7" cy="1357.3" r="7" fill="url(#gPink)"/><circle cx="121.9" cy="1385.1" r="7" fill="url(#gPink)"/><circle cx="148.5" cy="1345" r="7" fill="url(#gPink)"/><circle cx="189.4" cy="1348.2" r="7" fill="url(#gPink)"/><circle cx="93.7" cy="1395" r="7" fill="url(#gPink)"/><circle cx="133.8" cy="1261.5" r="7" fill="url(#gPink)"/><circle cx="74.4" cy="1292.4" r="7" fill="url(#gPink)"/><circle cx="193" cy="1290" r="7" fill="url(#gPink)"/><circle cx="166.3" cy="1350.7" r="7" fill="url(#gPink)"/><circle cx="47" cy="1339" r="7" fill="url(#gPink)"/><circle cx="141.5" cy="1270.4" r="7" fill="url(#gPink)"/><circle cx="163.9" cy="1360" r="7" fill="url(#gPink)"/><circle cx="65.2" cy="1321.7" r="7" fill="url(#gPink)"/><circle cx="163" cy="1393.1" r="7" fill="url(#gPink)"/><circle cx="112.7" cy="1329.2" r="7" fill="url(#gPink)"/><circle cx="101.3" cy="1332.5" r="7" fill="url(#gPink)"/><circle cx="78.1" cy="1342.1" r="7" fill="url(#gPink)"/><circle cx="87.6" cy="1352.6" r="7" fill="url(#gPink)"/><circle cx="95.2" cy="1325.5" r="7" fill="url(#gPink)"/><circle cx="187" cy="1297.1" r="7" fill="url(#gPink)"/><circle cx="182.3" cy="1306.4" r="7" fill="url(#gPink)"/><circle cx="46.1" cy="1355.6" r="7" fill="url(#gPink)"/><circle cx="194.7" cy="1303.7" r="7" fill="url(#gPink)"/><circle cx="149.1" cy="1331.3" r="7" fill="url(#gPink)"/><circle cx="72.6" cy="1283.2" r="7" fill="url(#gPink)"/><circle cx="65.5" cy="1359.4" r="7" fill="url(#gPink)"/><circle cx="56.6" cy="1340.1" r="7" fill="url(#gPink)"/><circle cx="132.3" cy="1368.4" r="7" fill="url(#gPink)"/><circle cx="141.7" cy="1289.1" r="7" fill="url(#gPink)"/><circle cx="100.8" cy="1306.6" r="7" fill="url(#gPink)"/><circle cx="82.9" cy="1269.6" r="7" fill="url(#gPink)"/><circle cx="65" cy="1312.2" r="7" fill="url(#gPink)"/><circle cx="181.9" cy="1269.2" r="7" fill="url(#gPink)"/><circle cx="44.4" cy="1300" r="7" fill="url(#gPink)"/><circle cx="45.3" cy="1281.4" r="7" fill="url(#gPink)"/><circle cx="42.3" cy="1338.9" r="7" fill="url(#gPink)"/><circle cx="146.1" cy="1321.1" r="7" fill="url(#gPink)"/><circle cx="93" cy="1267.5" r="7" fill="url(#gPink)"/><circle cx="158.5" cy="1384.2" r="7" fill="url(#gPink)"/><circle cx="101.2" cy="1317.1" r="7" fill="url(#gPink)"/><circle cx="45.8" cy="1300" r="7" fill="url(#gPink)"/><circle cx="179.7" cy="1327.7" r="7" fill="url(#gPink)"/><circle cx="194" cy="1332" r="7" fill="url(#gPink)"/><circle cx="151.6" cy="1310.6" r="7" fill="url(#gPink)"/><circle cx="156.9" cy="1319" r="7" fill="url(#gPink)"/><circle cx="105.9" cy="1343.9" r="7" fill="url(#gPink)"/><circle cx="105.2" cy="1368.3" r="7" fill="url(#gPink)"/><circle cx="88.3" cy="1311" r="7" fill="url(#gPink)"/><circle cx="167" cy="1320.5" r="7" fill="url(#gPink)"/><circle cx="135.6" cy="1332.3" r="7" fill="url(#gPink)"/><circle cx="68.2" cy="1343.2" r="7" fill="url(#gPink)"/><circle cx="160.9" cy="1279.6" r="7" fill="url(#gPink)"/><circle cx="90.5" cy="1281.6" r="7" fill="url(#gPink)"/><circle cx="97.6" cy="1341" r="7" fill="url(#gPink)"/><circle cx="45.8" cy="1322" r="7" fill="url(#gPink)"/><circle cx="130.5" cy="1325.2" r="7" fill="url(#gPink)"/><circle cx="141.9" cy="1374.3" r="7" fill="url(#gPink)"/><circle cx="83.4" cy="1319.4" r="7" fill="url(#gPink)"/><circle cx="131" cy="1389.3" r="7" fill="url(#gPink)"/><circle cx="180.3" cy="1371.5" r="7" fill="url(#gPink)"/><circle cx="78.8" cy="1299.6" r="7" fill="url(#gPink)"/><circle cx="157.1" cy="1354" r="7" fill="url(#gPink)"/><circle cx="135.8" cy="1281.2" r="7" fill="url(#gPink)"/><circle cx="40.6" cy="1330.3" r="7" fill="url(#gPink)"/><circle cx="145.4" cy="1301.6" r="7" fill="url(#gPink)"/><circle cx="149.1" cy="1385.3" r="7" fill="url(#gPink)"/><circle cx="142.3" cy="1260.2" r="7" fill="url(#gPink)"/><circle cx="50.9" cy="1273" r="7" fill="url(#gPink)"/><circle cx="155" cy="1395.6" r="7" fill="url(#gPink)"/><circle cx="122.4" cy="1281" r="7" fill="url(#gPink)"/><circle cx="119.5" cy="1304.9" r="7" fill="url(#gPink)"/><circle cx="54.3" cy="1323.2" r="7" fill="url(#gPink)"/><circle cx="76.4" cy="1329.3" r="7" fill="url(#gPink)"/><circle cx="123.6" cy="1312.3" r="7" fill="url(#gPink)"/><circle cx="110.7" cy="1302.9" r="7" fill="url(#gPink)"/><circle cx="169.3" cy="1283.1" r="7" fill="url(#gPink)"/><circle cx="179" cy="1318.3" r="7" fill="url(#gPink)"/><circle cx="115.8" cy="1263.6" r="7" fill="url(#gPink)"/><circle cx="56.2" cy="1350.7" r="7" fill="url(#gPink)"/><circle cx="62.5" cy="1276.8" r="7" fill="url(#gPink)"/><circle cx="162" cy="1271.3" r="7" fill="url(#gPink)"/><circle cx="79.1" cy="1376.9" r="7" fill="url(#gPink)"/><circle cx="190" cy="1267" r="7" fill="url(#gPink)"/><circle cx="189" cy="1312.1" r="7" fill="url(#gPink)"/><circle cx="137.9" cy="1395.5" r="7" fill="url(#gPink)"/><circle cx="125.4" cy="1269" r="7" fill="url(#gPink)"/><circle cx="96" cy="1386.4" r="7" fill="url(#gPink)"/><circle cx="149.6" cy="1274.7" r="7" fill="url(#gPink)"/><circle cx="90.9" cy="1334.1" r="7" fill="url(#gPink)"/><circle cx="86.5" cy="1365.7" r="7" fill="url(#gPink)"/><circle cx="70.5" cy="1305.5" r="7" fill="url(#gPink)"/><circle cx="122.4" cy="1399.9" r="7" fill="url(#gPink)"/><circle cx="63.7" cy="1329.9" r="7" fill="url(#gPink)"/><circle cx="82.2" cy="1278.5" r="7" fill="url(#gPink)"/><circle cx="120.4" cy="1348.3" r="7" fill="url(#gPink)"/><circle cx="118.3" cy="1336.1" r="7" fill="url(#gPink)"/><circle cx="56.8" cy="1364.9" r="7" fill="url(#gPink)"/><circle cx="122.2" cy="1294.1" r="7" fill="url(#gPink)"/><circle cx="159.3" cy="1292" r="7" fill="url(#gPink)"/><circle cx="84.6" cy="1393.8" r="7" fill="url(#gPink)"/><circle cx="70.6" cy="1351.2" r="7" fill="url(#gPink)"/><circle cx="191.7" cy="1338.2" r="7" fill="url(#gPink)"/><circle cx="120.6" cy="1326.4" r="7" fill="url(#gPink)"/><circle cx="176.2" cy="1339.4" r="7" fill="url(#gPink)"/><circle cx="70" cy="1273" r="7" fill="url(#gPink)"/><circle cx="47" cy="1361" r="7" fill="url(#gPink)"/><circle cx="100.5" cy="1292" r="7" fill="url(#gPink)"/><circle cx="113.4" cy="1293.9" r="7" fill="url(#gPink)"/><circle cx="174.7" cy="1359.6" r="7" fill="url(#gPink)"/><circle cx="62.8" cy="1300.5" r="7" fill="url(#gPink)"/><circle cx="136.1" cy="1381.5" r="7" fill="url(#gPink)"/><circle cx="192.3" cy="1266.7" r="7" fill="url(#gPink)"/><circle cx="192.9" cy="1276.9" r="7" fill="url(#gPink)"/><circle cx="179.1" cy="1349.7" r="7" fill="url(#gPink)"/><circle cx="167.8" cy="1383.5" r="7" fill="url(#gPink)"/><circle cx="167.9" cy="1293" r="7" fill="url(#gPink)"/><circle cx="161.2" cy="1308.4" r="7" fill="url(#gPink)"/><circle cx="138.2" cy="1340.5" r="7" fill="url(#gPink)"/><circle cx="176.2" cy="1263.1" r="7" fill="url(#gPink)"/><circle cx="53.7" cy="1298.8" r="7" fill="url(#gPink)"/><circle cx="189.6" cy="1289.2" r="7" fill="url(#gPink)"/><circle cx="129.6" cy="1340.1" r="7" fill="url(#gPink)"/><circle cx="62.8" cy="1378.2" r="7" fill="url(#gPink)"/><circle cx="59.3" cy="1291.9" r="7" fill="url(#gPink)"/><circle cx="114.6" cy="1394.6" r="7" fill="url(#gPink)"/><circle cx="173.9" cy="1301.4" r="7" fill="url(#gPink)"/><circle cx="128" cy="1402" r="7" fill="url(#gPink)"/><circle cx="188.7" cy="1358.7" r="7" fill="url(#gPink)"/><circle cx="45.5" cy="1323.5" r="7" fill="url(#gPink)"/><circle cx="45.5" cy="1277.5" r="7" fill="url(#gPink)"/><circle cx="112.7" cy="1276.9" r="7" fill="url(#gPink)"/><circle cx="174.5" cy="1273" r="7" fill="url(#gPink)"/><circle cx="43.6" cy="1313.5" r="7" fill="url(#gPink)"/><circle cx="114.6" cy="1374.2" r="7" fill="url(#gPink)"/><circle cx="195.3" cy="1318.2" r="7" fill="url(#gPink)"/><circle cx="131.9" cy="1297.6" r="7" fill="url(#gPink)"/><circle cx="102.7" cy="1265.8" r="7" fill="url(#gPink)"/><circle cx="76.1" cy="1388.4" r="7" fill="url(#gPink)"/><circle cx="48" cy="1384" r="7" fill="url(#gPink)"/><circle cx="104.3" cy="1274.6" r="7" fill="url(#gPink)"/><circle cx="170.1" cy="1310.7" r="7" fill="url(#gPink)"/><circle cx="163.6" cy="1262" r="7" fill="url(#gPink)"/><circle cx="79.4" cy="1309.7" r="7" fill="url(#gPink)"/><circle cx="80.4" cy="1359" r="7" fill="url(#gPink)"/><circle cx="106.9" cy="1387" r="7" fill="url(#gPink)"/><circle cx="102.6" cy="1395.4" r="7" fill="url(#gPink)"/><circle cx="63.9" cy="1386.4" r="7" fill="url(#gPink)"/><circle cx="49" cy="1332.6" r="7" fill="url(#gPink)"/><circle cx="177.7" cy="1383.2" r="7" fill="url(#gPink)"/><circle cx="49.3" cy="1289.5" r="7" fill="url(#gPink)"/><circle cx="191.3" cy="1371.1" r="7" fill="url(#gPink)"/><circle cx="132.4" cy="1402.2" r="7" fill="url(#gPink)"/><circle cx="130.2" cy="1306.7" r="7" fill="url(#gPink)"/><circle cx="110.2" cy="1315.1" r="7" fill="url(#gPink)"/><circle cx="154.5" cy="1376.1" r="7" fill="url(#gPink)"/><circle cx="49.2" cy="1369.9" r="7" fill="url(#gPink)"/><circle cx="44.5" cy="1347.2" r="7" fill="url(#gPink)"/><circle cx="155.2" cy="1366.3" r="7" fill="url(#gPink)"/><circle cx="189.2" cy="1324" r="7" fill="url(#gPink)"/></g>
<text x="212.5" y="1294" font-size="18.7" fill="#2e2e2e" font-weight="normal" text-anchor="start" textLength="90" lengthAdjust="spacingAndGlyphs">Precursors</text>
<text x="202.9" y="1316.8" font-size="18.7" fill="#2e2e2e" font-weight="normal" text-anchor="start" textLength="109" lengthAdjust="spacingAndGlyphs">impregnation</text>
<path d="M203 1329.2L304 1329.2L302.5 1324.9L319 1331.5L302.5 1338.1L304 1333.8L203 1333.8Z" fill="#16a85a"/>
<circle cx="255.6" cy="1351" r="6.2" fill="#c89a28"/><circle cx="255.4" cy="1350.8" r="4.4" fill="#f6e21e"/>
<text x="204.4" y="1376.3" font-size="16.3" fill="#dcae5a" font-weight="normal" text-anchor="start" textLength="107" lengthAdjust="spacingAndGlyphs">Fe (come from</text>
<text x="217" y="1395.3" font-size="16.3" fill="#dcae5a" font-weight="normal" text-anchor="start" textLength="81.6" lengthAdjust="spacingAndGlyphs">precursors)</text>
<g filter="url(#blurB)"><polygon points="325.9,1271.2 386.4,1256.4 487.8,1261 486.3,1367.5 444.8,1405.4 327.4,1387.9" fill="url(#gCube2)" stroke="none" stroke-width="0" /><polygon points="325.9,1271.2 386.4,1256.4 487.8,1261 444.8,1276.4" fill="url(#gCube2t)" stroke="none" stroke-width="0" opacity="0.9"/><polygon points="327.4,1387.9 344,1392 440,1393 484,1360 486.3,1367.5 444.8,1405.4" fill="#eeaab4" stroke="none" stroke-width="0" opacity="0.55"/><circle cx="445.7" cy="1341.2" r="6.3" fill="url(#gPink2)" opacity="0.92"/><circle cx="416.1" cy="1348.7" r="6.3" fill="url(#gPink2)" opacity="0.92"/><ellipse cx="452.8" cy="1367.7" rx="5.4" ry="6.3" fill="url(#gPink2)" opacity="0.8"/><circle cx="427.7" cy="1385.8" r="6.3" fill="url(#gPink2)" opacity="0.92"/><ellipse cx="480.2" cy="1296.1" rx="5.4" ry="6.3" fill="url(#gPink2)" opacity="0.8"/><circle cx="400.9" cy="1361.3" r="6.3" fill="url(#gPink2)" opacity="0.92"/><ellipse cx="450" cy="1318.5" rx="5.4" ry="6.3" fill="url(#gPink2)" opacity="0.8"/><circle cx="424" cy="1355.8" r="6.3" fill="url(#gPink2)" opacity="0.92"/><circle cx="373.9" cy="1317.7" r="6.3" fill="url(#gPink2)" opacity="0.92"/><circle cx="424.8" cy="1344.7" r="6.3" fill="url(#gPink2)" opacity="0.92"/><circle cx="417.1" cy="1298.1" r="6.3" fill="url(#gPink2)" opacity="0.92"/><circle cx="387.7" cy="1337.1" r="6.3" fill="url(#gPink2)" opacity="0.92"/><circle cx="378.3" cy="1343.8" r="6.3" fill="url(#gPink2)" opacity="0.92"/><circle cx="438.8" cy="1293.1" r="6.3" fill="url(#gPink2)" opacity="0.92"/><ellipse cx="460.1" cy="1357.2" rx="5.4" ry="6.3" fill="url(#gPink2)" opacity="0.8"/><circle cx="349.1" cy="1326.5" r="6.3" fill="url(#gPink2)" opacity="0.92"/><ellipse cx="470.7" cy="1293.7" rx="5.4" ry="6.3" fill="url(#gPink2)" opacity="0.8"/><ellipse cx="459.7" cy="1374.9" rx="5.4" ry="6.3" fill="url(#gPink2)" opacity="0.8"/><ellipse cx="467.4" cy="1369" rx="5.4" ry="6.3" fill="url(#gPink2)" opacity="0.8"/><ellipse cx="454.2" cy="1336.1" rx="5.4" ry="6.3" fill="url(#gPink2)" opacity="0.8"/><circle cx="371.1" cy="1298.5" r="6.3" fill="url(#gPink2)" opacity="0.92"/><circle cx="426.7" cy="1305" r="6.3" fill="url(#gPink2)" opacity="0.92"/><circle cx="387.5" cy="1319.4" r="6.3" fill="url(#gPink2)" opacity="0.92"/><circle cx="439.2" cy="1320.8" r="6.3" fill="url(#gPink2)" opacity="0.92"/><circle cx="357.4" cy="1370" r="6.3" fill="url(#gPink2)" opacity="0.92"/><ellipse cx="465.9" cy="1344" rx="5.4" ry="6.3" fill="url(#gPink2)" opacity="0.8"/><ellipse cx="446.3" cy="1386.5" rx="5.4" ry="6.3" fill="url(#gPink2)" opacity="0.8"/><circle cx="359.5" cy="1286" r="6.3" fill="url(#gPink2)" opacity="0.92"/><circle cx="430.7" cy="1330.2" r="6.3" fill="url(#gPink2)" opacity="0.92"/><circle cx="379.2" cy="1291.9" r="6.3" fill="url(#gPink2)" opacity="0.92"/><circle cx="432.9" cy="1358.4" r="6.3" fill="url(#gPink2)" opacity="0.92"/><circle cx="421.6" cy="1324.4" r="6.3" fill="url(#gPink2)" opacity="0.92"/><circle cx="359.4" cy="1360.1" r="6.3" fill="url(#gPink2)" opacity="0.92"/><ellipse cx="468.7" cy="1307.8" rx="5.4" ry="6.3" fill="url(#gPink2)" opacity="0.8"/><circle cx="403.6" cy="1314.5" r="6.3" fill="url(#gPink2)" opacity="0.92"/><circle cx="439.1" cy="1308.6" r="6.3" fill="url(#gPink2)" opacity="0.92"/><circle cx="431.7" cy="1279.3" r="6.3" fill="url(#gPink2)" opacity="0.92"/><circle cx="413.9" cy="1318" r="6.3" fill="url(#gPink2)" opacity="0.92"/><circle cx="443.9" cy="1371.1" r="6.3" fill="url(#gPink2)" opacity="0.92"/><circle cx="429.1" cy="1295.8" r="6.3" fill="url(#gPink2)" opacity="0.92"/><circle cx="390.9" cy="1367.3" r="6.3" fill="url(#gPink2)" opacity="0.92"/><circle cx="423.4" cy="1284.6" r="6.3" fill="url(#gPink2)" opacity="0.92"/><ellipse cx="475" cy="1278.8" rx="5.4" ry="6.3" fill="url(#gPink2)" opacity="0.8"/><circle cx="407.7" cy="1303" r="6.3" fill="url(#gPink2)" opacity="0.92"/><circle cx="417.3" cy="1333" r="6.3" fill="url(#gPink2)" opacity="0.92"/><circle cx="347.5" cy="1382.7" r="6.3" fill="url(#gPink2)" opacity="0.92"/><circle cx="395.9" cy="1325.1" r="6.3" fill="url(#gPink2)" opacity="0.92"/><circle cx="367" cy="1309.6" r="6.3" fill="url(#gPink2)" opacity="0.92"/><circle cx="358.8" cy="1275.5" r="6.3" fill="url(#gPink2)" opacity="0.92"/><circle cx="370.7" cy="1349.6" r="6.3" fill="url(#gPink2)" opacity="0.92"/><circle cx="396.6" cy="1339.7" r="6.3" fill="url(#gPink2)" opacity="0.92"/><circle cx="345.1" cy="1336.5" r="6.3" fill="url(#gPink2)" opacity="0.92"/><ellipse cx="461.2" cy="1301.8" rx="5.4" ry="6.3" fill="url(#gPink2)" opacity="0.8"/><ellipse cx="479.3" cy="1350.8" rx="5.4" ry="6.3" fill="url(#gPink2)" opacity="0.8"/><circle cx="347.6" cy="1285.1" r="6.3" fill="url(#gPink2)" opacity="0.92"/><circle cx="405.7" cy="1352.2" r="6.3" fill="url(#gPink2)" opacity="0.92"/><circle cx="346.5" cy="1312.8" r="6.3" fill="url(#gPink2)" opacity="0.92"/><ellipse cx="477.7" cy="1334.1" rx="5.4" ry="6.3" fill="url(#gPink2)" opacity="0.8"/><ellipse cx="481.1" cy="1269.7" rx="5.4" ry="6.3" fill="url(#gPink2)" opacity="0.8"/><circle cx="355" cy="1347.3" r="6.3" fill="url(#gPink2)" opacity="0.92"/><circle cx="418.6" cy="1367.6" r="6.3" fill="url(#gPink2)" opacity="0.92"/><circle cx="357.9" cy="1306.2" r="6.3" fill="url(#gPink2)" opacity="0.92"/><circle cx="349.8" cy="1356" r="6.3" fill="url(#gPink2)" opacity="0.92"/><ellipse cx="479.3" cy="1318.1" rx="5.4" ry="6.3" fill="url(#gPink2)" opacity="0.8"/><ellipse cx="455.9" cy="1277.6" rx="5.4" ry="6.3" fill="url(#gPink2)" opacity="0.8"/><ellipse cx="455.4" cy="1383.2" rx="5.4" ry="6.3" fill="url(#gPink2)" opacity="0.8"/><circle cx="355.3" cy="1336.8" r="6.3" fill="url(#gPink2)" opacity="0.92"/><circle cx="370.3" cy="1332.5" r="6.3" fill="url(#gPink2)" opacity="0.92"/><circle cx="380.2" cy="1371.8" r="6.3" fill="url(#gPink2)" opacity="0.92"/><ellipse cx="464.1" cy="1333" rx="5.4" ry="6.3" fill="url(#gPink2)" opacity="0.8"/><circle cx="370.9" cy="1276.9" r="6.3" fill="url(#gPink2)" opacity="0.92"/><circle cx="345.2" cy="1371.5" r="6.3" fill="url(#gPink2)" opacity="0.92"/><circle cx="416.7" cy="1386.1" r="6.3" fill="url(#gPink2)" opacity="0.92"/><circle cx="345.3" cy="1275.6" r="6.3" fill="url(#gPink2)" opacity="0.92"/><circle cx="371.1" cy="1360.2" r="6.3" fill="url(#gPink2)" opacity="0.92"/><circle cx="354.4" cy="1296.8" r="6.3" fill="url(#gPink2)" opacity="0.92"/><circle cx="402.7" cy="1281.1" r="6.3" fill="url(#gPink2)" opacity="0.92"/><circle cx="395.1" cy="1304" r="6.3" fill="url(#gPink2)" opacity="0.92"/><ellipse cx="477.1" cy="1363.5" rx="5.4" ry="6.3" fill="url(#gPink2)" opacity="0.8"/><circle cx="408.3" cy="1389.8" r="6.3" fill="url(#gPink2)" opacity="0.92"/><circle cx="361" cy="1321" r="6.3" fill="url(#gPink2)" opacity="0.92"/><circle cx="360.6" cy="1380.5" r="6.3" fill="url(#gPink2)" opacity="0.92"/><circle cx="407" cy="1338.5" r="6.3" fill="url(#gPink2)" opacity="0.92"/><circle cx="434.6" cy="1392.6" r="6.3" fill="url(#gPink2)" opacity="0.92"/><ellipse cx="461" cy="1316.7" rx="5.4" ry="6.3" fill="url(#gPink2)" opacity="0.8"/><ellipse cx="464.6" cy="1273.2" rx="5.4" ry="6.3" fill="url(#gPink2)" opacity="0.8"/><circle cx="396.4" cy="1289.1" r="6.3" fill="url(#gPink2)" opacity="0.92"/><circle cx="416.7" cy="1308.1" r="6.3" fill="url(#gPink2)" opacity="0.92"/><circle cx="345.1" cy="1294.4" r="6.3" fill="url(#gPink2)" opacity="0.92"/><circle cx="405.4" cy="1374.1" r="6.3" fill="url(#gPink2)" opacity="0.92"/><circle cx="407.4" cy="1327.7" r="6.3" fill="url(#gPink2)" opacity="0.92"/><circle cx="430.6" cy="1316.2" r="6.3" fill="url(#gPink2)" opacity="0.92"/><ellipse cx="454.2" cy="1290.4" rx="5.4" ry="6.3" fill="url(#gPink2)" opacity="0.8"/><circle cx="371.9" cy="1387.7" r="6.3" fill="url(#gPink2)" opacity="0.92"/><circle cx="440.7" cy="1330.7" r="6.3" fill="url(#gPink2)" opacity="0.92"/><circle cx="386.7" cy="1379.5" r="6.3" fill="url(#gPink2)" opacity="0.92"/><circle cx="443.2" cy="1280.2" r="6.3" fill="url(#gPink2)" opacity="0.92"/><ellipse cx="471.6" cy="1326.7" rx="5.4" ry="6.3" fill="url(#gPink2)" opacity="0.8"/><circle cx="365.7" cy="1341.4" r="6.3" fill="url(#gPink2)" opacity="0.92"/><ellipse cx="466.6" cy="1284.9" rx="5.4" ry="6.3" fill="url(#gPink2)" opacity="0.8"/><circle cx="388.2" cy="1296.9" r="6.3" fill="url(#gPink2)" opacity="0.92"/><circle cx="381.9" cy="1327.6" r="6.3" fill="url(#gPink2)" opacity="0.92"/><circle cx="393.2" cy="1354.3" r="6.3" fill="url(#gPink2)" opacity="0.92"/><circle cx="416.4" cy="1277.7" r="6.3" fill="url(#gPink2)" opacity="0.92"/><circle cx="382.3" cy="1311.6" r="6.3" fill="url(#gPink2)" opacity="0.92"/><circle cx="446" cy="1356.7" r="6.3" fill="url(#gPink2)" opacity="0.92"/><circle cx="384.6" cy="1276.8" r="6.3" fill="url(#gPink2)" opacity="0.92"/><ellipse cx="451.7" cy="1302" rx="5.4" ry="6.3" fill="url(#gPink2)" opacity="0.8"/><circle cx="434.6" cy="1345.6" r="6.3" fill="url(#gPink2)" opacity="0.92"/><ellipse cx="470.4" cy="1353.3" rx="5.4" ry="6.3" fill="url(#gPink2)" opacity="0.8"/><circle cx="423.7" cy="1377.2" r="6.3" fill="url(#gPink2)" opacity="0.92"/><circle cx="436.2" cy="1377.2" r="6.3" fill="url(#gPink2)" opacity="0.92"/><circle cx="410.1" cy="1290.5" r="6.3" fill="url(#gPink2)" opacity="0.92"/><ellipse cx="455" cy="1326.2" rx="5.4" ry="6.3" fill="url(#gPink2)" opacity="0.8"/><circle cx="431.3" cy="1367.9" r="6.3" fill="url(#gPink2)" opacity="0.92"/><circle cx="384.8" cy="1359.8" r="6.3" fill="url(#gPink2)" opacity="0.92"/><ellipse cx="455.9" cy="1346.6" rx="5.4" ry="6.3" fill="url(#gPink2)" opacity="0.8"/><circle cx="397.2" cy="1390.7" r="6.3" fill="url(#gPink2)" opacity="0.92"/><ellipse cx="480.6" cy="1286.7" rx="5.4" ry="6.3" fill="url(#gPink2)" opacity="0.8"/><circle cx="385" cy="1390.2" r="6.3" fill="url(#gPink2)" opacity="0.92"/><ellipse cx="478.7" cy="1305.6" rx="5.4" ry="6.3" fill="url(#gPink2)" opacity="0.8"/><circle cx="411.1" cy="1360" r="6.3" fill="url(#gPink2)" opacity="0.92"/><circle cx="366.6" cy="1372.8" r="6.3" fill="url(#gPink2)" opacity="0.92"/><circle cx="370" cy="1287.4" r="6.3" fill="url(#gPink2)" opacity="0.92"/><circle cx="398.4" cy="1381.1" r="6.3" fill="url(#gPink2)" opacity="0.92"/><polygon points="444.8,1276.4 487.8,1261 486.3,1367.5 444.8,1405.4" fill="#f0828e" stroke="none" stroke-width="0" opacity="0.42"/></g>
<text x="494.5" y="1318.5" font-size="19" fill="#2e2e2e" font-weight="normal" text-anchor="start" textLength="117" lengthAdjust="spacingAndGlyphs">Carbonization</text>
<path d="M495 1328.4L599 1328.4L597.5 1324.1L614 1330.7L597.5 1337.3L599 1333L495 1333Z" fill="#16a85a"/>
<g filter="url(#blurB)"><polygon points="620.2,1270.5 682.9,1258.9 777,1263.2 775.5,1364.6 732.5,1403.9 626,1383.5" fill="#43363a" stroke="none" stroke-width="0" /><polygon points="733.9,1272.7 777,1263.2 775.5,1364.6 732.5,1403.9" fill="#2c2229" stroke="none" stroke-width="0" /><polygon points="620.2,1270.5 682.9,1258.9 777,1263.2 733.9,1272.7" fill="#2e2424" stroke="none" stroke-width="0" /><ellipse cx="680" cy="1262.1" rx="6" ry="3.6" fill="url(#gPink3)"/><ellipse cx="716.5" cy="1266" rx="6" ry="3.6" fill="url(#gPink3)"/><ellipse cx="691.1" cy="1261.1" rx="6" ry="3.6" fill="url(#gPink3)"/><ellipse cx="736.1" cy="1266.2" rx="6" ry="3.6" fill="url(#gPink3)"/><ellipse cx="690.1" cy="1268.1" rx="6" ry="3.6" fill="url(#gPink3)"/><ellipse cx="643.8" cy="1265.2" rx="6" ry="3.6" fill="url(#gPink3)"/><ellipse cx="690.3" cy="1270.1" rx="6" ry="3.6" fill="url(#gPink3)"/><ellipse cx="721.4" cy="1268.9" rx="6" ry="3.6" fill="url(#gPink3)"/><ellipse cx="649.1" cy="1269.6" rx="6" ry="3.6" fill="url(#gPink3)"/><ellipse cx="765.5" cy="1264.7" rx="6" ry="3.6" fill="url(#gPink3)"/><ellipse cx="747.7" cy="1265.4" rx="6" ry="3.6" fill="url(#gPink3)"/><ellipse cx="644.5" cy="1265.8" rx="6" ry="3.6" fill="url(#gPink3)"/><ellipse cx="682.9" cy="1269.4" rx="6" ry="3.6" fill="url(#gPink3)"/><ellipse cx="744.7" cy="1268.1" rx="6" ry="3.6" fill="url(#gPink3)"/><ellipse cx="686.6" cy="1260.6" rx="6" ry="3.6" fill="url(#gPink3)"/><ellipse cx="690.3" cy="1259.2" rx="6" ry="3.6" fill="url(#gPink3)"/><ellipse cx="701.4" cy="1264.6" rx="6" ry="3.6" fill="url(#gPink3)"/><ellipse cx="686.3" cy="1265" rx="6" ry="3.6" fill="url(#gPink3)"/><ellipse cx="643.7" cy="1269.5" rx="6" ry="3.6" fill="url(#gPink3)"/><ellipse cx="729.4" cy="1269.1" rx="6" ry="3.6" fill="url(#gPink3)"/><ellipse cx="718.8" cy="1269.1" rx="6" ry="3.6" fill="url(#gPink3)"/><ellipse cx="769.4" cy="1263.1" rx="6" ry="3.6" fill="url(#gPink3)"/><ellipse cx="742.5" cy="1263.5" rx="6" ry="3.6" fill="url(#gPink3)"/><ellipse cx="723.7" cy="1263.2" rx="6" ry="3.6" fill="url(#gPink3)"/><ellipse cx="662.9" cy="1264.4" rx="6" ry="3.6" fill="url(#gPink3)"/><ellipse cx="723.6" cy="1269.3" rx="6" ry="3.6" fill="url(#gPink3)"/><circle cx="662.5" cy="1281.5" r="8.2" fill="url(#gPink3)"/><circle cx="684.4" cy="1278.5" r="7.3" fill="url(#gPink3)"/><circle cx="703.3" cy="1281.5" r="8.2" fill="url(#gPink3)"/><circle cx="723.7" cy="1275.6" r="8.2" fill="url(#gPink3)"/><circle cx="643.5" cy="1276.4" r="6.5" fill="url(#gPink3)"/><circle cx="626" cy="1276.4" r="5.7" fill="url(#gPink3)"/><circle cx="646.5" cy="1303.3" r="5.7" fill="url(#gPink3)"/><circle cx="662.5" cy="1300.4" r="8.2" fill="url(#gPink3)"/><circle cx="680" cy="1300.4" r="6.2" fill="url(#gPink3)"/><circle cx="703.3" cy="1306.2" r="7.8" fill="url(#gPink3)"/><circle cx="720.8" cy="1307.7" r="9" fill="url(#gPink3)"/><circle cx="627.5" cy="1320.8" r="6.9" fill="url(#gPink3)"/><circle cx="646.5" cy="1322.3" r="7.3" fill="url(#gPink3)"/><circle cx="664" cy="1325.2" r="8.2" fill="url(#gPink3)"/><circle cx="678.5" cy="1326.7" r="6.2" fill="url(#gPink3)"/><circle cx="704.8" cy="1329.6" r="5.7" fill="url(#gPink3)"/><circle cx="723.7" cy="1329.6" r="8.5" fill="url(#gPink3)"/><circle cx="627.5" cy="1338.3" r="6.5" fill="url(#gPink3)"/><circle cx="646.5" cy="1341.2" r="5.7" fill="url(#gPink3)"/><circle cx="666.9" cy="1344.2" r="6.2" fill="url(#gPink3)"/><circle cx="684.4" cy="1347.1" r="5.2" fill="url(#gPink3)"/><circle cx="701.9" cy="1345.6" r="7.8" fill="url(#gPink3)"/><circle cx="725.2" cy="1352.9" r="5.7" fill="url(#gPink3)"/><circle cx="629" cy="1358.7" r="5.9" fill="url(#gPink3)"/><circle cx="647.9" cy="1366" r="6.5" fill="url(#gPink3)"/><circle cx="662.5" cy="1366" r="6.9" fill="url(#gPink3)"/><circle cx="687.3" cy="1368.9" r="6.5" fill="url(#gPink3)"/><circle cx="700.4" cy="1370.4" r="6.2" fill="url(#gPink3)"/><circle cx="726.7" cy="1376.2" r="8.5" fill="url(#gPink3)"/><circle cx="630.4" cy="1379.1" r="4.9" fill="url(#gPink3)"/><circle cx="649.4" cy="1382.1" r="5.9" fill="url(#gPink3)"/><circle cx="666.9" cy="1385" r="6.5" fill="url(#gPink3)"/><circle cx="684.4" cy="1389.4" r="6.9" fill="url(#gPink3)"/><circle cx="706.2" cy="1396.6" r="6.5" fill="url(#gPink3)"/><circle cx="722.3" cy="1396.6" r="6.2" fill="url(#gPink3)"/><ellipse cx="744.1" cy="1281.5" rx="3.2" ry="6.6" fill="url(#gPink3)"/><ellipse cx="744.1" cy="1300.4" rx="3.2" ry="7" fill="url(#gPink3)"/><ellipse cx="760.2" cy="1293.1" rx="2" ry="4.4" fill="url(#gPink3)"/><ellipse cx="768.9" cy="1294.6" rx="2.3" ry="5.1" fill="url(#gPink3)"/><ellipse cx="747.1" cy="1322.3" rx="5.8" ry="6.1" fill="url(#gPink3)"/><ellipse cx="760.2" cy="1310.6" rx="2.6" ry="6.6" fill="url(#gPink3)"/><ellipse cx="768.9" cy="1310.6" rx="2.6" ry="6.6" fill="url(#gPink3)"/><ellipse cx="744.1" cy="1373.3" rx="3.5" ry="7.3" fill="url(#gPink3)"/><ellipse cx="768.9" cy="1350" rx="2.6" ry="6.6" fill="url(#gPink3)"/><ellipse cx="761.6" cy="1336.9" rx="2" ry="5.1" fill="url(#gPink3)"/><ellipse cx="733.9" cy="1352.9" rx="2" ry="5.8" fill="url(#gPink3)"/><ellipse cx="751.4" cy="1341.2" rx="1.7" ry="5.8" fill="url(#gPink3)"/><ellipse cx="755.8" cy="1376.2" rx="2.3" ry="5.8" fill="url(#gPink3)"/><ellipse cx="770.4" cy="1274.2" rx="2.6" ry="5.8" fill="url(#gPink3)"/><ellipse cx="750" cy="1269.8" rx="5.8" ry="4.4" fill="url(#gPink3)"/><ellipse cx="754.4" cy="1326.7" rx="2.3" ry="5.5" fill="url(#gPink3)"/><ellipse cx="769.7" cy="1330.3" rx="2.3" ry="5.8" fill="url(#gPink3)"/><ellipse cx="738.3" cy="1339.8" rx="2.6" ry="6.1" fill="url(#gPink3)"/><ellipse cx="755.8" cy="1357.3" rx="2.3" ry="5.5" fill="url(#gPink3)"/><ellipse cx="745.6" cy="1355.8" rx="2" ry="5" fill="url(#gPink3)"/><ellipse cx="760.2" cy="1275.6" rx="1.7" ry="4.1" fill="url(#gPink3)"/><ellipse cx="736.9" cy="1288.7" rx="1.7" ry="5" fill="url(#gPink3)"/><ellipse cx="764.6" cy="1376.2" rx="2" ry="4.4" fill="url(#gPink3)"/><ellipse cx="753.6" cy="1309.2" rx="1.7" ry="4.4" fill="url(#gPink3)"/><circle cx="635.5" cy="1289.5" r="6.7" fill="url(#gYel)"/><circle cx="690.9" cy="1317.2" r="5.2" fill="url(#gYel)"/><circle cx="655.9" cy="1351.4" r="5.2" fill="url(#gYel)"/><circle cx="714.3" cy="1362.4" r="7" fill="url(#gYel)"/><circle cx="760.9" cy="1279.3" r="4.4" fill="url(#gYel)"/><circle cx="763.8" cy="1364.6" r="4.7" fill="url(#gYel)"/><circle cx="651.6" cy="1290.2" r="1.6" fill="#c8c060"/><circle cx="694.6" cy="1295.3" r="1.6" fill="#c8c060"/><circle cx="674.2" cy="1362.4" r="1.6" fill="#c8c060"/><circle cx="637" cy="1370.4" r="1.6" fill="#c8c060"/><circle cx="752.2" cy="1297.5" r="1.6" fill="#c8c060"/><circle cx="752.2" cy="1366" r="1.6" fill="#c8c060"/><circle cx="623.9" cy="1299.7" r="3" fill="#9a86d8" opacity="0.7"/><circle cx="760.9" cy="1291.7" r="3" fill="#9a86d8" opacity="0.7"/><circle cx="667.6" cy="1345.6" r="3" fill="#9a86d8" opacity="0.7"/><circle cx="697.5" cy="1323.7" r="3" fill="#9a86d8" opacity="0.7"/></g>
<text x="794" y="1292.7" font-size="18.8" fill="#2e2e2e" font-weight="normal" text-anchor="start" textLength="69" lengthAdjust="spacingAndGlyphs">Washed</text>
<text x="794" y="1314.7" font-size="18.8" fill="#2e2e2e" font-weight="normal" text-anchor="start" textLength="64" lengthAdjust="spacingAndGlyphs">with HF</text>
<path d="M786.5 1327.7L866.5 1327.7L865 1323.4L881.5 1330L865 1336.6L866.5 1332.3L786.5 1332.3Z" fill="#16a85a"/>
<text x="783" y="1397" font-size="16.3" fill="#dcae5a" font-weight="normal" text-anchor="start" textLength="107" lengthAdjust="spacingAndGlyphs">Fe single atom</text>
<line x1="861" y1="1379.3" x2="897" y2="1365.8" stroke="#16a85a" stroke-width="2.2" />
<g filter="url(#blurB)"><polygon points="880.3,1266.1 951,1256.7 1035.6,1261 1034.9,1360.2 977.3,1404.7 893.4,1376.2" fill="#48423f" stroke="none" stroke-width="0" /><polygon points="978,1269.1 1035.6,1261 1034.9,1360.2 977.3,1404.7" fill="#3f3a38" stroke="none" stroke-width="0" /><polygon points="880.3,1266.1 951,1256.7 1035.6,1261 978,1269.1" fill="#2c2928" stroke="none" stroke-width="0" /><ellipse cx="892.7" cy="1274.2" rx="6" ry="7" fill="url(#gHoleD)"/><ellipse cx="909.9" cy="1275.3" rx="6" ry="7" fill="url(#gHoleD)"/><ellipse cx="927.1" cy="1276.5" rx="6" ry="7" fill="url(#gHoleD)"/><ellipse cx="944.3" cy="1277.7" rx="6" ry="7" fill="url(#gHoleD)"/><ellipse cx="961.5" cy="1278.8" rx="6" ry="7" fill="url(#gHoleD)"/><ellipse cx="899.1" cy="1293.8" rx="6" ry="7" fill="url(#gHoleD)"/><ellipse cx="916.3" cy="1295" rx="6" ry="7" fill="url(#gHoleD)"/><ellipse cx="933.5" cy="1296.2" rx="6" ry="7" fill="url(#gHoleD)"/><ellipse cx="950.7" cy="1297.3" rx="6" ry="7" fill="url(#gHoleD)"/><ellipse cx="967.9" cy="1298.5" rx="6" ry="7" fill="url(#gHoleD)"/><ellipse cx="896.8" cy="1313.5" rx="6" ry="7" fill="url(#gHoleD)"/><ellipse cx="914" cy="1314.7" rx="6" ry="7" fill="url(#gHoleD)"/><ellipse cx="931.2" cy="1315.9" rx="6" ry="7" fill="url(#gHoleD)"/><ellipse cx="948.4" cy="1317" rx="6" ry="7" fill="url(#gHoleD)"/><ellipse cx="965.6" cy="1318.2" rx="6" ry="7" fill="url(#gHoleD)"/><ellipse cx="903.2" cy="1333.2" rx="6" ry="7" fill="url(#gHoleD)"/><ellipse cx="920.4" cy="1334.4" rx="6" ry="7" fill="url(#gHoleD)"/><ellipse cx="937.6" cy="1335.6" rx="6" ry="7" fill="url(#gHoleD)"/><ellipse cx="954.8" cy="1336.7" rx="6" ry="7" fill="url(#gHoleD)"/><ellipse cx="972" cy="1337.9" rx="6" ry="7" fill="url(#gHoleD)"/><ellipse cx="900.9" cy="1352.9" rx="6" ry="7" fill="url(#gHoleD)"/><ellipse cx="918.1" cy="1354.1" rx="6" ry="7" fill="url(#gHoleD)"/><ellipse cx="935.3" cy="1355.2" rx="6" ry="7" fill="url(#gHoleD)"/><ellipse cx="952.5" cy="1356.4" rx="6" ry="7" fill="url(#gHoleD)"/><ellipse cx="969.7" cy="1357.6" rx="6" ry="7" fill="url(#gHoleD)"/><ellipse cx="907.3" cy="1372.6" rx="6" ry="7" fill="url(#gHoleD)"/><ellipse cx="924.5" cy="1373.8" rx="6" ry="7" fill="url(#gHoleD)"/><ellipse cx="941.7" cy="1374.9" rx="6" ry="7" fill="url(#gHoleD)"/><ellipse cx="958.9" cy="1376.1" rx="6" ry="7" fill="url(#gHoleD)"/><path d="M882.5 1287.3L977.3 1296L1034.9 1278.5" stroke="#242121" stroke-width="1.6" fill="none" opacity="0.8"/><path d="M885.1 1313.5L977.3 1322.3L1034.9 1304.8" stroke="#242121" stroke-width="1.6" fill="none" opacity="0.8"/><path d="M887.7 1335.4L977.3 1344.2L1034.9 1326.7" stroke="#242121" stroke-width="1.6" fill="none" opacity="0.8"/><path d="M890.4 1357.3L977.3 1366L1034.9 1348.5" stroke="#242121" stroke-width="1.6" fill="none" opacity="0.8"/><ellipse cx="972.9" cy="1278.5" rx="6.6" ry="6.6" fill="url(#gHole)"/><ellipse cx="993.3" cy="1279.3" rx="6.6" ry="6.6" fill="url(#gHole)"/><ellipse cx="1005" cy="1272.7" rx="4.6" ry="6.6" fill="url(#gHole)"/><ellipse cx="1025.4" cy="1272.7" rx="4.6" ry="6.6" fill="url(#gHole)"/><ellipse cx="980.2" cy="1306.2" rx="6.6" ry="6.6" fill="url(#gHole)"/><ellipse cx="994.8" cy="1301.9" rx="6.6" ry="6.6" fill="url(#gHole)"/><ellipse cx="1005" cy="1294.6" rx="4.6" ry="6.6" fill="url(#gHole)"/><ellipse cx="1025.4" cy="1293.1" rx="4.6" ry="6.6" fill="url(#gHole)"/><ellipse cx="958.3" cy="1323.7" rx="6.6" ry="6.6" fill="url(#gHole)"/><ellipse cx="980.2" cy="1329.6" rx="6.6" ry="6.6" fill="url(#gHole)"/><ellipse cx="993.3" cy="1323.7" rx="6.6" ry="6.6" fill="url(#gHole)"/><ellipse cx="1005" cy="1317.9" rx="4.6" ry="6.6" fill="url(#gHole)"/><ellipse cx="1018.1" cy="1315" rx="4.6" ry="6.6" fill="url(#gHole)"/><ellipse cx="1026.9" cy="1310.6" rx="4.6" ry="6.6" fill="url(#gHole)"/><ellipse cx="993.3" cy="1347.1" rx="6.6" ry="6.6" fill="url(#gHole)"/><ellipse cx="1005" cy="1338.3" rx="4.6" ry="6.6" fill="url(#gHole)"/><ellipse cx="1015.2" cy="1332.5" rx="4.6" ry="6.6" fill="url(#gHole)"/><ellipse cx="975.8" cy="1360.2" rx="6.6" ry="6.6" fill="url(#gHole)"/><ellipse cx="1002.1" cy="1361.7" rx="4.6" ry="6.6" fill="url(#gHole)"/><ellipse cx="1023.9" cy="1358.7" rx="4.6" ry="6.6" fill="url(#gHole)"/><ellipse cx="958.3" cy="1371.9" rx="6.6" ry="6.6" fill="url(#gHole)"/><ellipse cx="981.7" cy="1376.2" rx="6.6" ry="6.6" fill="url(#gHole)"/><ellipse cx="993.3" cy="1385" rx="6.6" ry="6.6" fill="url(#gHole)"/><rect x="1034.8" y="1271.2" width="2.6" height="6" fill="#2c2a29"/><rect x="1034.8" y="1288.7" width="2.6" height="6" fill="#2c2a29"/><rect x="1034.8" y="1306.2" width="2.6" height="6" fill="#2c2a29"/><rect x="1034.8" y="1323.7" width="2.6" height="6" fill="#2c2a29"/><rect x="1034.8" y="1341.2" width="2.6" height="6" fill="#2c2a29"/><rect x="1034.8" y="1357.3" width="2.6" height="6" fill="#2c2a29"/><circle cx="924.1" cy="1275.6" r="1.9" fill="#e8e4c8"/><circle cx="1027.6" cy="1272.7" r="1.9" fill="#e0dcc0"/><circle cx="994" cy="1300.4" r="1.9" fill="#f0ecd8"/><circle cx="919.7" cy="1305.5" r="1.9" fill="#c8c040"/><circle cx="953.2" cy="1304.8" r="1.9" fill="#c8c040"/><circle cx="903.6" cy="1315" r="1.9" fill="#d8d0a0"/><circle cx="892" cy="1331" r="1.9" fill="#f0f0f0"/><circle cx="940.8" cy="1339.8" r="1.9" fill="#d8d090"/><circle cx="1005" cy="1342" r="1.9" fill="#f0ecd8"/><circle cx="976.5" cy="1358" r="1.9" fill="#f0ecd8"/><circle cx="908" cy="1363.8" r="1.9" fill="#f0e8c0"/><circle cx="944.5" cy="1374.8" r="1.9" fill="#e8e0b0"/><polygon points="891.8,1370.8 902.8,1359.8 903.8,1373.8" fill="#128a4a"/></g>
<text x="38" y="1423.6" font-size="17.6" fill="#3f78e0" font-weight="normal" text-anchor="start" textLength="194" lengthAdjust="spacingAndGlyphs">SiO<tspan dy="4" font-size="11">2</tspan><tspan dy="-4" font-size="1">&#8203;</tspan> sphere (template)</text>
<text x="299.5" y="1423.6" font-size="17.6" fill="#3f78e0" font-weight="normal" text-anchor="start" textLength="232" lengthAdjust="spacingAndGlyphs">Fe-precursor@SiO<tspan dy="4" font-size="11">2</tspan><tspan dy="-4" font-size="1">&#8203;</tspan> mixture</text>
<text x="591.5" y="1423.6" font-size="17.6" fill="#3f78e0" font-weight="normal" text-anchor="start" textLength="234" lengthAdjust="spacingAndGlyphs">Fe-carbon@SiO<tspan dy="4" font-size="11">2</tspan><tspan dy="-4" font-size="1">&#8203;</tspan> composite</text>
<text x="890" y="1423.6" font-size="17.6" fill="#3f78e0" font-weight="normal" text-anchor="start" textLength="151" lengthAdjust="spacingAndGlyphs">Fe-Porous carbon</text>
<line x1="118" y1="1492.5" x2="130.7" y2="1501.1" stroke="#2a2a2a" stroke-width="1.4" /><line x1="135.6" y1="1509.2" x2="135.6" y2="1523.7" stroke="#2a2a2a" stroke-width="1.4" /><line x1="135.6" y1="1523.7" x2="116.6" y2="1535.1" stroke="#2a2a2a" stroke-width="1.4" /><line x1="116.6" y1="1535.1" x2="98.1" y2="1523.7" stroke="#2a2a2a" stroke-width="1.4" /><line x1="98.1" y1="1523.7" x2="98.1" y2="1504.4" stroke="#2a2a2a" stroke-width="1.4" /><line x1="98.1" y1="1504.4" x2="118" y2="1492.5" stroke="#2a2a2a" stroke-width="1.4" /><polygon points="118,1492.5 120,1472.6 116,1472.6" fill="#2a2a2a"/><line x1="118" y1="1472.6" x2="131" y2="1464" stroke="#2a2a2a" stroke-width="1.4" /><text x="132.8" y="1466.9" font-size="14" fill="#2a2a2a" font-weight="normal" text-anchor="start" >OH</text><path d="M96 1502.6L95.5 1503.3M93.8 1500.8L93 1502.1M91.6 1498.9L90.4 1501M89.4 1497.1L87.8 1499.8M87.3 1495.3L85.2 1498.7" stroke="#2a2a2a" stroke-width="1"/><text x="64.1" y="1496.7" font-size="14" fill="#2a2a2a" font-weight="normal" text-anchor="start" >HO</text><polygon points="98.1,1523.7 83.5,1528.8 85.6,1532.8" fill="#2a2a2a"/><text x="63.5" y="1540.7" font-size="14" fill="#2a2a2a" font-weight="normal" text-anchor="start" >HO</text><path d="M116.2 1538.2L117 1538.2M115.8 1541.3L117.4 1541.3M115.4 1544.4L117.8 1544.4M115 1547.5L118.2 1547.5M114.6 1550.7L118.6 1550.7" stroke="#2a2a2a" stroke-width="1"/><text x="110.6" y="1563.4" font-size="14" fill="#2a2a2a" font-weight="normal" text-anchor="start" >OH</text><text x="130.8" y="1510.1" font-size="14" fill="#2a2a2a" font-weight="normal" text-anchor="start" >O</text><path d="M137.8 1525.8L138.3 1525.2M140 1528L141 1526.7M142.2 1530.1L143.7 1528.2M144.4 1532.2L146.3 1529.7M146.6 1534.4L149 1531.2" stroke="#2a2a2a" stroke-width="1"/><text x="148.7" y="1542.4" font-size="14" fill="#2a2a2a" font-weight="normal" text-anchor="start" >O</text><line x1="159" y1="1534.5" x2="172" y2="1528" stroke="#2a2a2a" stroke-width="1.4" /><line x1="172" y1="1528" x2="168.8" y2="1511.6" stroke="#2a2a2a" stroke-width="1.4" /><line x1="173.1" y1="1502.4" x2="185.6" y2="1493.9" stroke="#2a2a2a" stroke-width="1.4" /><line x1="185.6" y1="1493.9" x2="203.2" y2="1504.4" stroke="#2a2a2a" stroke-width="1.4" /><line x1="203.2" y1="1504.4" x2="196.1" y2="1526.5" stroke="#2a2a2a" stroke-width="1.4" /><line x1="196.1" y1="1526.5" x2="172" y2="1528" stroke="#2a2a2a" stroke-width="1.4" /><text x="162.3" y="1511.2" font-size="14" fill="#2a2a2a" font-weight="normal" text-anchor="start" >O</text><path d="M185.9 1490.3L185.3 1490.3M186.3 1486.8L184.9 1486.8M186.6 1483.2L184.6 1483.2M186.9 1479.7L184.3 1479.7M187.3 1476.1L183.9 1476.1M187.6 1472.6L183.6 1472.6" stroke="#2a2a2a" stroke-width="1"/><line x1="185.6" y1="1472.6" x2="174.2" y2="1464.1" stroke="#2a2a2a" stroke-width="1.4" /><text x="152.1" y="1466.9" font-size="14" fill="#2a2a2a" font-weight="normal" text-anchor="start" >HO</text><polygon points="203.2,1504.4 218.5,1503.2 217.4,1498.7" fill="#2a2a2a"/><text x="218.8" y="1506.1" font-size="14" fill="#2a2a2a" font-weight="normal" text-anchor="start" >OH</text><path d="M197.6 1529.7L198.3 1529.3M199.1 1532.9L200.6 1532M200.6 1536.1L202.8 1534.7M202.1 1539.3L205.1 1537.4M203.6 1542.5L207.3 1540.1" stroke="#2a2a2a" stroke-width="1"/><text x="202.6" y="1550.7" font-size="14" fill="#2a2a2a" font-weight="normal" text-anchor="start" >OH</text><polygon points="172,1528 175.5,1546.5 179.7,1545.2" fill="#2a2a2a"/><line x1="177.6" y1="1545.8" x2="194.1" y2="1554.4" stroke="#2a2a2a" stroke-width="1.4" /><text x="194.7" y="1560" font-size="14" fill="#2a2a2a" font-weight="normal" text-anchor="start" >OH</text>
<text x="277" y="1529.4" font-size="18.5" fill="#3f78e0" font-weight="normal" text-anchor="start" textLength="68.2" lengthAdjust="spacingAndGlyphs">Sucrose</text>
<text x="258.6" y="1552.7" font-size="18.5" fill="#3f78e0" font-weight="normal" text-anchor="start" textLength="110.7" lengthAdjust="spacingAndGlyphs">(<tspan font-weight="bold">C</tspan> precursor)</text>
<polygon points="504.1,1478.3 523.4,1489.6 523.4,1512.3 504.1,1523.7 485.1,1512.3 485.1,1489.6" fill="none" stroke="#555" stroke-width="1.4" /><polygon points="504.1,1478.3 506.4,1464.6 501.8,1464.6" fill="#2a2a2a"/><text x="497.9" y="1462.7" font-size="14.2" fill="#2a2a2a" font-weight="normal" text-anchor="start" textLength="59.5" lengthAdjust="spacingAndGlyphs">OPO<tspan dy="3" font-size="9.5">3</tspan><tspan dy="-3" font-size="1">&#8203;</tspan>H<tspan dy="3" font-size="9.5">2</tspan><tspan dy="-3" font-size="1">&#8203;</tspan></text><polygon points="523.4,1489.6 538.6,1484.9 536.6,1480.7" fill="#2a2a2a"/><text x="538.2" y="1486.2" font-size="14.2" fill="#2a2a2a" font-weight="normal" text-anchor="start" textLength="59.5" lengthAdjust="spacingAndGlyphs">OPO<tspan dy="3" font-size="9.5">3</tspan><tspan dy="-3" font-size="1">&#8203;</tspan>H<tspan dy="3" font-size="9.5">2</tspan><tspan dy="-3" font-size="1">&#8203;</tspan></text><path d="M525.8 1514.3L526.2 1513.6M528.1 1516.3L529 1514.8M530.4 1518.2L531.8 1516M532.7 1520.2L534.6 1517.2M535.1 1522.2L537.4 1518.4" stroke="#2a2a2a" stroke-width="1"/><text x="538.2" y="1532.2" font-size="14.2" fill="#2a2a2a" font-weight="normal" text-anchor="start" textLength="59.5" lengthAdjust="spacingAndGlyphs">OPO<tspan dy="3" font-size="9.5">3</tspan><tspan dy="-3" font-size="1">&#8203;</tspan>H<tspan dy="3" font-size="9.5">2</tspan><tspan dy="-3" font-size="1">&#8203;</tspan></text><polygon points="504.1,1523.7 501.8,1539 506.4,1539" fill="#2a2a2a"/><text x="497.9" y="1553.5" font-size="14.2" fill="#2a2a2a" font-weight="normal" text-anchor="start" textLength="59.5" lengthAdjust="spacingAndGlyphs">OPO<tspan dy="3" font-size="9.5">3</tspan><tspan dy="-3" font-size="1">&#8203;</tspan>H<tspan dy="3" font-size="9.5">2</tspan><tspan dy="-3" font-size="1">&#8203;</tspan></text><polygon points="485.1,1489.6 473.4,1480.8 471.3,1484.8" fill="#2a2a2a"/><text x="411.3" y="1486.2" font-size="14.2" fill="#2a2a2a" font-weight="normal" text-anchor="start" textLength="59.5" lengthAdjust="spacingAndGlyphs">H<tspan dy="3" font-size="9.5">2</tspan><tspan dy="-3" font-size="1">&#8203;</tspan>O<tspan dy="3" font-size="9.5">3</tspan><tspan dy="-3" font-size="1">&#8203;</tspan>PO</text><path d="M482.4 1513.4L482.9 1514.2M479.8 1514.5L480.7 1516M477.1 1515.6L478.5 1517.9M474.4 1516.7L476.3 1519.8M471.8 1517.8L474 1521.6" stroke="#2a2a2a" stroke-width="1"/><text x="411.3" y="1531.6" font-size="14.2" fill="#2a2a2a" font-weight="normal" text-anchor="start" textLength="59.5" lengthAdjust="spacingAndGlyphs">H<tspan dy="3" font-size="9.5">2</tspan><tspan dy="-3" font-size="1">&#8203;</tspan>O<tspan dy="3" font-size="9.5">3</tspan><tspan dy="-3" font-size="1">&#8203;</tspan>PO</text>
<text x="637" y="1530" font-size="18.5" fill="#3f78e0" font-weight="normal" text-anchor="start" textLength="91" lengthAdjust="spacingAndGlyphs">Phytic acid</text>
<text x="629.9" y="1553.5" font-size="18.5" fill="#3f78e0" font-weight="normal" text-anchor="start" textLength="109.3" lengthAdjust="spacingAndGlyphs">(<tspan font-weight="bold">P</tspan> precursor)</text>
<text x="823.5" y="1508.6" font-size="18.5" fill="#2a2a2a" font-weight="normal" text-anchor="start" >N</text><path d="M838 1498.6H858M838 1502H877M838 1505.4H858" stroke="#2a2a2a" stroke-width="1.2"/><text x="879" y="1508.6" font-size="18.5" fill="#2a2a2a" font-weight="normal" text-anchor="start" >NH<tspan dy="4" font-size="12.5">2</tspan></text>
<text x="927.3" y="1527.7" font-size="18.5" fill="#3f78e0" font-weight="normal" text-anchor="start" textLength="95.3" lengthAdjust="spacingAndGlyphs">Cyanamide</text>
<text x="919.4" y="1550.8" font-size="18.5" fill="#3f78e0" font-weight="normal" text-anchor="start" textLength="110.6" lengthAdjust="spacingAndGlyphs">(<tspan font-weight="bold">N</tspan> precursor)</text>
<rect x="1055.7" y="1244.4" width="212.2" height="335.6" fill="#fff" stroke="#777" stroke-width="1.6"/><polygon points="1058.2,1259.2 1197.3,1259.2 1265.4,1378.1 1126.3,1378.1" fill="none" stroke="#9a3a3a" stroke-width="0.9" /><g filter="url(#blurB)"><path d="M1081.3 1259L1081.3 1271.6M1081.3 1271.6L1092.8 1279.8M1104.3 1259L1104.3 1271.6M1104.3 1271.6L1092.8 1279.8M1104.3 1271.6L1115.8 1279.8M1127.3 1259L1127.3 1271.6M1127.3 1271.6L1115.8 1279.8M1127.3 1271.6L1138.8 1279.8M1150.3 1259L1150.3 1271.6M1150.3 1271.6L1138.8 1279.8M1150.3 1271.6L1161.8 1279.8M1173.3 1259L1173.3 1271.6M1173.3 1271.6L1161.8 1279.8M1173.3 1271.6L1184.8 1279.8M1196.3 1259L1196.3 1271.6M1196.3 1271.6L1184.8 1279.8M1196.3 1271.6L1207.8 1279.8M1092.8 1279.8L1092.8 1292.3M1092.8 1292.3L1104.3 1300.5M1115.8 1279.8L1115.8 1292.3M1115.8 1292.3L1104.3 1300.5M1115.8 1292.3L1127.3 1300.5M1138.8 1279.8L1138.8 1292.3M1138.8 1292.3L1127.3 1300.5M1138.8 1292.3L1150.3 1300.5M1161.8 1279.8L1161.8 1292.3M1161.8 1292.3L1150.3 1300.5M1161.8 1292.3L1173.3 1300.5M1184.8 1279.8L1184.8 1292.3M1184.8 1292.3L1173.3 1300.5M1184.8 1292.3L1196.3 1300.5M1207.8 1279.8L1207.8 1292.3M1207.8 1292.3L1196.3 1300.5M1207.8 1292.3L1219.3 1300.5M1104.3 1300.5L1104.3 1313.1M1104.3 1313.1L1115.8 1321.2M1127.3 1300.5L1127.3 1313.1M1127.3 1313.1L1115.8 1321.2M1127.3 1313.1L1138.8 1321.2M1150.3 1300.5L1150.3 1313.1M1150.3 1313.1L1138.8 1321.2M1150.3 1313.1L1161.8 1321.2M1196.3 1300.5L1196.3 1313.1M1196.3 1313.1L1207.8 1321.2M1219.3 1300.5L1219.3 1313.1M1219.3 1313.1L1207.8 1321.2M1219.3 1313.1L1230.8 1321.2M1115.8 1321.2L1115.8 1333.8M1115.8 1333.8L1127.3 1342M1138.8 1321.2L1138.8 1333.8M1138.8 1333.8L1127.3 1342M1138.8 1333.8L1150.3 1342M1161.8 1321.2L1161.8 1333.8M1161.8 1333.8L1150.3 1342M1161.8 1333.8L1173.3 1342M1184.8 1333.8L1173.3 1342M1184.8 1333.8L1196.3 1342M1207.8 1321.2L1207.8 1333.8M1207.8 1333.8L1196.3 1342M1207.8 1333.8L1219.3 1342M1230.8 1321.2L1230.8 1333.8M1230.8 1333.8L1219.3 1342M1230.8 1333.8L1242.3 1342M1127.3 1342L1127.3 1354.6M1127.3 1354.6L1138.8 1362.8M1150.3 1342L1150.3 1354.6M1150.3 1354.6L1138.8 1362.8M1150.3 1354.6L1161.8 1362.8M1173.3 1342L1173.3 1354.6M1173.3 1354.6L1161.8 1362.8M1173.3 1354.6L1184.8 1362.8M1196.3 1342L1196.3 1354.6M1196.3 1354.6L1184.8 1362.8M1196.3 1354.6L1207.8 1362.8M1219.3 1342L1219.3 1354.6M1219.3 1354.6L1207.8 1362.8M1219.3 1354.6L1230.8 1362.8M1242.3 1342L1242.3 1354.6M1242.3 1354.6L1230.8 1362.8M1242.3 1354.6L1253.8 1362.8M1138.8 1362.8L1138.8 1375.3M1161.8 1362.8L1161.8 1375.3M1184.8 1362.8L1184.8 1375.3M1207.8 1362.8L1207.8 1375.3M1230.8 1362.8L1230.8 1375.3M1253.8 1362.8L1253.8 1375.3" stroke="#d22a2a" stroke-width="3.1" stroke-linecap="round" fill="none"/><circle cx="1081.3" cy="1259" r="4.7" fill="#dc2626"/><circle cx="1081.3" cy="1271.6" r="4.7" fill="#dc2626"/><circle cx="1104.3" cy="1259" r="4.7" fill="#dc2626"/><circle cx="1104.3" cy="1271.6" r="4.7" fill="#dc2626"/><circle cx="1127.3" cy="1259" r="4.7" fill="#dc2626"/><circle cx="1127.3" cy="1271.6" r="4.7" fill="#dc2626"/><circle cx="1150.3" cy="1259" r="4.7" fill="#dc2626"/><circle cx="1150.3" cy="1271.6" r="4.7" fill="#dc2626"/><circle cx="1173.3" cy="1259" r="4.7" fill="#dc2626"/><circle cx="1173.3" cy="1271.6" r="4.7" fill="#dc2626"/><circle cx="1196.3" cy="1259" r="4.7" fill="#dc2626"/><circle cx="1196.3" cy="1271.6" r="4.7" fill="#dc2626"/><circle cx="1092.8" cy="1279.8" r="4.7" fill="#dc2626"/><circle cx="1092.8" cy="1292.3" r="4.7" fill="#dc2626"/><circle cx="1115.8" cy="1279.8" r="4.7" fill="#dc2626"/><circle cx="1115.8" cy="1292.3" r="4.7" fill="#dc2626"/><circle cx="1138.8" cy="1279.8" r="4.7" fill="#dc2626"/><circle cx="1138.8" cy="1292.3" r="4.7" fill="#dc2626"/><circle cx="1161.8" cy="1279.8" r="4.7" fill="#dc2626"/><circle cx="1161.8" cy="1292.3" r="4.7" fill="#dc2626"/><circle cx="1184.8" cy="1279.8" r="4.7" fill="#dc2626"/><circle cx="1184.8" cy="1292.3" r="4.7" fill="#dc2626"/><circle cx="1207.8" cy="1279.8" r="4.7" fill="#dc2626"/><circle cx="1207.8" cy="1292.3" r="4.7" fill="#dc2626"/><circle cx="1104.3" cy="1300.5" r="4.7" fill="#dc2626"/><circle cx="1104.3" cy="1313.1" r="4.7" fill="#dc2626"/><circle cx="1127.3" cy="1300.5" r="4.7" fill="#dc2626"/><circle cx="1127.3" cy="1313.1" r="4.7" fill="#dc2626"/><circle cx="1150.3" cy="1300.5" r="4.7" fill="#dc2626"/><circle cx="1150.3" cy="1313.1" r="4.7" fill="#dc2626"/><circle cx="1173.3" cy="1300.5" r="4.7" fill="#dc2626"/><circle cx="1196.3" cy="1300.5" r="4.7" fill="#dc2626"/><circle cx="1196.3" cy="1313.1" r="4.7" fill="#dc2626"/><circle cx="1219.3" cy="1300.5" r="4.7" fill="#dc2626"/><circle cx="1219.3" cy="1313.1" r="4.7" fill="#dc2626"/><circle cx="1115.8" cy="1321.2" r="4.7" fill="#dc2626"/><circle cx="1115.8" cy="1333.8" r="4.7" fill="#dc2626"/><circle cx="1138.8" cy="1321.2" r="4.7" fill="#dc2626"/><circle cx="1138.8" cy="1333.8" r="4.7" fill="#dc2626"/><circle cx="1161.8" cy="1321.2" r="4.7" fill="#dc2626"/><circle cx="1161.8" cy="1333.8" r="4.7" fill="#dc2626"/><circle cx="1184.8" cy="1333.8" r="4.7" fill="#dc2626"/><circle cx="1207.8" cy="1321.2" r="4.7" fill="#dc2626"/><circle cx="1207.8" cy="1333.8" r="4.7" fill="#dc2626"/><circle cx="1230.8" cy="1321.2" r="4.7" fill="#dc2626"/><circle cx="1230.8" cy="1333.8" r="4.7" fill="#dc2626"/><circle cx="1127.3" cy="1342" r="4.7" fill="#dc2626"/><circle cx="1127.3" cy="1354.6" r="4.7" fill="#dc2626"/><circle cx="1150.3" cy="1342" r="4.7" fill="#dc2626"/><circle cx="1150.3" cy="1354.6" r="4.7" fill="#dc2626"/><circle cx="1173.3" cy="1342" r="4.7" fill="#dc2626"/><circle cx="1173.3" cy="1354.6" r="4.7" fill="#dc2626"/><circle cx="1196.3" cy="1342" r="4.7" fill="#dc2626"/><circle cx="1196.3" cy="1354.6" r="4.7" fill="#dc2626"/><circle cx="1219.3" cy="1342" r="4.7" fill="#dc2626"/><circle cx="1219.3" cy="1354.6" r="4.7" fill="#dc2626"/><circle cx="1242.3" cy="1342" r="4.7" fill="#dc2626"/><circle cx="1242.3" cy="1354.6" r="4.7" fill="#dc2626"/><circle cx="1138.8" cy="1362.8" r="4.7" fill="#dc2626"/><circle cx="1138.8" cy="1375.3" r="4.7" fill="#dc2626"/><circle cx="1161.8" cy="1362.8" r="4.7" fill="#dc2626"/><circle cx="1161.8" cy="1375.3" r="4.7" fill="#dc2626"/><circle cx="1184.8" cy="1362.8" r="4.7" fill="#dc2626"/><circle cx="1184.8" cy="1375.3" r="4.7" fill="#dc2626"/><circle cx="1207.8" cy="1362.8" r="4.7" fill="#dc2626"/><circle cx="1207.8" cy="1375.3" r="4.7" fill="#dc2626"/><circle cx="1230.8" cy="1362.8" r="4.7" fill="#dc2626"/><circle cx="1230.8" cy="1375.3" r="4.7" fill="#dc2626"/><circle cx="1253.8" cy="1362.8" r="4.7" fill="#dc2626"/><circle cx="1253.8" cy="1375.3" r="4.7" fill="#dc2626"/><line x1="1178.3" y1="1316.3" x2="1174.3" y2="1297.2" stroke="#3a3090" stroke-width="2" /><line x1="1178.3" y1="1316.3" x2="1196.4" y2="1309.6" stroke="#3a3090" stroke-width="2" /><line x1="1178.3" y1="1316.3" x2="1161.8" y2="1319.8" stroke="#3a3090" stroke-width="2" /><line x1="1178.3" y1="1316.3" x2="1183.9" y2="1332.6" stroke="#3a3090" stroke-width="2" /><line x1="1174.3" y1="1297.2" x2="1173.3" y2="1284" stroke="#d6402a" stroke-width="2.8" /><line x1="1196.4" y1="1309.6" x2="1207.8" y2="1304" stroke="#d6402a" stroke-width="2.8" /><line x1="1161.8" y1="1319.8" x2="1150.3" y2="1325.5" stroke="#d6402a" stroke-width="2.8" /><line x1="1183.9" y1="1332.6" x2="1184.8" y2="1345" stroke="#d6402a" stroke-width="2.8" /><circle cx="1174.3" cy="1297.2" r="3.9" fill="#e8e030"/><circle cx="1196.4" cy="1309.6" r="3.9" fill="#e8e030"/><circle cx="1161.8" cy="1319.8" r="3.9" fill="#e8e030"/><circle cx="1183.9" cy="1332.6" r="3.9" fill="#e8e030"/><rect x="1176.3" y="1308.2" width="5.6" height="17" rx="2.6" fill="#d82ad8"/><line x1="1172" y1="1318.3" x2="1186" y2="1313.8" stroke="#3a3090" stroke-width="2" /></g><g filter="url(#blurB)"><circle cx="1098.5" cy="1423" r="7" fill="url(#aC)"/><circle cx="1142.1" cy="1423" r="7" fill="url(#aP)"/><circle cx="1185.4" cy="1423" r="7" fill="url(#aO)"/><circle cx="1226.1" cy="1423" r="7" fill="url(#aFe)"/></g><text x="1097.8" y="1450.4" font-size="12.6" fill="#222" font-weight="bold" text-anchor="middle" >C</text><text x="1141.8" y="1450.4" font-size="12.6" fill="#222" font-weight="bold" text-anchor="middle" >P</text><text x="1185" y="1450.4" font-size="12.6" fill="#222" font-weight="bold" text-anchor="middle" >O</text><text x="1227.2" y="1450.4" font-size="12.6" fill="#222" font-weight="bold" text-anchor="middle" >Fe</text><g filter="url(#blurB)"><circle cx="1208.7" cy="1548.7" r="7.0" fill="url(#aC)"/><circle cx="1121.4" cy="1548.9" r="7.0" fill="url(#aC)"/><circle cx="1195.3" cy="1549" r="7.0" fill="url(#aC)"/><circle cx="1188.1" cy="1549.1" r="7.0" fill="url(#aC)"/><circle cx="1148.7" cy="1549.4" r="7.0" fill="url(#aC)"/><circle cx="1161.3" cy="1549.4" r="7.0" fill="url(#aC)"/><circle cx="1167.7" cy="1549.4" r="7.0" fill="url(#aC)"/><circle cx="1156" cy="1549.6" r="7.0" fill="url(#aC)"/><circle cx="1126.9" cy="1549.6" r="7.0" fill="url(#aC)"/><circle cx="1182.9" cy="1549.6" r="7.0" fill="url(#aC)"/><circle cx="1140.6" cy="1549.7" r="7.0" fill="url(#aC)"/><circle cx="1202.1" cy="1550.3" r="7.0" fill="url(#aC)"/><circle cx="1174.9" cy="1550.4" r="7.0" fill="url(#aC)"/><circle cx="1134.1" cy="1550.6" r="7.0" fill="url(#aC)"/><circle cx="1195.9" cy="1557" r="7.2" fill="url(#aC)"/><circle cx="1228.6" cy="1557.1" r="7.2" fill="url(#aC)"/><circle cx="1215.6" cy="1557.2" r="7.2" fill="url(#aC)"/><circle cx="1098" cy="1557.3" r="7.2" fill="url(#aC)"/><circle cx="1182.9" cy="1557.3" r="7.2" fill="url(#aC)"/><circle cx="1234.9" cy="1557.4" r="7.2" fill="url(#aC)"/><circle cx="1201.9" cy="1557.4" r="7.2" fill="url(#aC)"/><circle cx="1176" cy="1557.5" r="7.2" fill="url(#aC)"/><circle cx="1102.9" cy="1557.6" r="7.2" fill="url(#aC)"/><circle cx="1149" cy="1557.7" r="7.2" fill="url(#aC)"/><circle cx="1116.5" cy="1557.8" r="7.2" fill="url(#aC)"/><circle cx="1210" cy="1557.9" r="7.2" fill="url(#aC)"/><circle cx="1223.6" cy="1558.1" r="7.2" fill="url(#aC)"/><circle cx="1123" cy="1558.1" r="7.2" fill="url(#aC)"/><circle cx="1090.2" cy="1558.4" r="7.2" fill="url(#aC)"/><circle cx="1110.9" cy="1558.5" r="7.2" fill="url(#aC)"/><circle cx="1129.3" cy="1558.7" r="7.2" fill="url(#aC)"/><circle cx="1083.7" cy="1558.9" r="7.2" fill="url(#aC)"/><circle cx="1157.5" cy="1558.9" r="7.2" fill="url(#aC)"/><circle cx="1170" cy="1559" r="7.2" fill="url(#aC)"/><circle cx="1163" cy="1559.4" r="7.2" fill="url(#aC)"/><circle cx="1137.6" cy="1559.4" r="7.2" fill="url(#aC)"/><circle cx="1143.9" cy="1559.4" r="7.2" fill="url(#aC)"/><circle cx="1189.4" cy="1559.4" r="7.2" fill="url(#aC)"/><circle cx="1217.8" cy="1565.4" r="7.4" fill="url(#aC)"/><circle cx="1147.6" cy="1565.5" r="7.4" fill="url(#aC)"/><circle cx="1165.9" cy="1565.5" r="7.4" fill="url(#aC)"/><circle cx="1069.5" cy="1565.5" r="7.4" fill="url(#aC)"/><circle cx="1107.7" cy="1565.6" r="7.4" fill="url(#aC)"/><circle cx="1076.2" cy="1565.7" r="7.4" fill="url(#aC)"/><circle cx="1159.6" cy="1565.7" r="7.4" fill="url(#aC)"/><circle cx="1128.2" cy="1565.8" r="7.4" fill="url(#aC)"/><circle cx="1243.8" cy="1565.8" r="7.4" fill="url(#aC)"/><circle cx="1249" cy="1565.8" r="7.4" fill="url(#aC)"/><circle cx="1096.1" cy="1565.8" r="7.4" fill="url(#aC)"/><circle cx="1255.9" cy="1566" r="7.4" fill="url(#aC)"/><circle cx="1102.1" cy="1566" r="7.4" fill="url(#aC)"/><circle cx="1178.9" cy="1566" r="7.4" fill="url(#aC)"/><circle cx="1210.1" cy="1566" r="7.4" fill="url(#aC)"/><circle cx="1236.3" cy="1566.1" r="7.4" fill="url(#aC)"/><circle cx="1081.9" cy="1566.3" r="7.4" fill="url(#aC)"/><circle cx="1198" cy="1566.3" r="7.4" fill="url(#aC)"/><circle cx="1204.6" cy="1566.3" r="7.4" fill="url(#aC)"/><circle cx="1229.6" cy="1566.6" r="7.4" fill="url(#aC)"/><circle cx="1186" cy="1566.7" r="7.4" fill="url(#aC)"/><circle cx="1222.7" cy="1566.8" r="7.4" fill="url(#aC)"/><circle cx="1133.6" cy="1566.8" r="7.4" fill="url(#aC)"/><circle cx="1153.4" cy="1566.9" r="7.4" fill="url(#aC)"/><circle cx="1090" cy="1567.2" r="7.4" fill="url(#aC)"/><circle cx="1121.9" cy="1567.2" r="7.4" fill="url(#aC)"/><circle cx="1192.4" cy="1567.3" r="7.4" fill="url(#aC)"/><circle cx="1140.9" cy="1567.4" r="7.4" fill="url(#aC)"/><circle cx="1173.3" cy="1567.4" r="7.4" fill="url(#aC)"/><circle cx="1114.2" cy="1567.5" r="7.4" fill="url(#aC)"/><line x1="1162.8" y1="1530.5" x2="1151.3" y2="1499.8" stroke="#d028d0" stroke-width="3" /><line x1="1162.8" y1="1530.5" x2="1173.3" y2="1498.8" stroke="#d028d0" stroke-width="3" /><line x1="1161" y1="1531" x2="1155.5" y2="1514" stroke="#3a2088" stroke-width="3.2" /><line x1="1164.5" y1="1531" x2="1169.5" y2="1514" stroke="#3a2088" stroke-width="3.2" /><line x1="1151.3" y1="1499.8" x2="1173.3" y2="1498.8" stroke="#d028d0" stroke-width="3" /><circle cx="1162.8" cy="1531" r="6.6" fill="url(#aFe)"/><circle cx="1134" cy="1537.2" r="6.6" fill="url(#aP)"/><circle cx="1190.6" cy="1537.2" r="6.6" fill="url(#aP)"/><circle cx="1155.1" cy="1538.4" r="6.6" fill="url(#aP)"/><circle cx="1170.5" cy="1536.4" r="6.6" fill="url(#aP)"/><circle cx="1151.3" cy="1499.8" r="6.2" fill="url(#aO)"/><circle cx="1173.3" cy="1498.8" r="6.2" fill="url(#aO)"/></g>
</svg>
</body></html>
